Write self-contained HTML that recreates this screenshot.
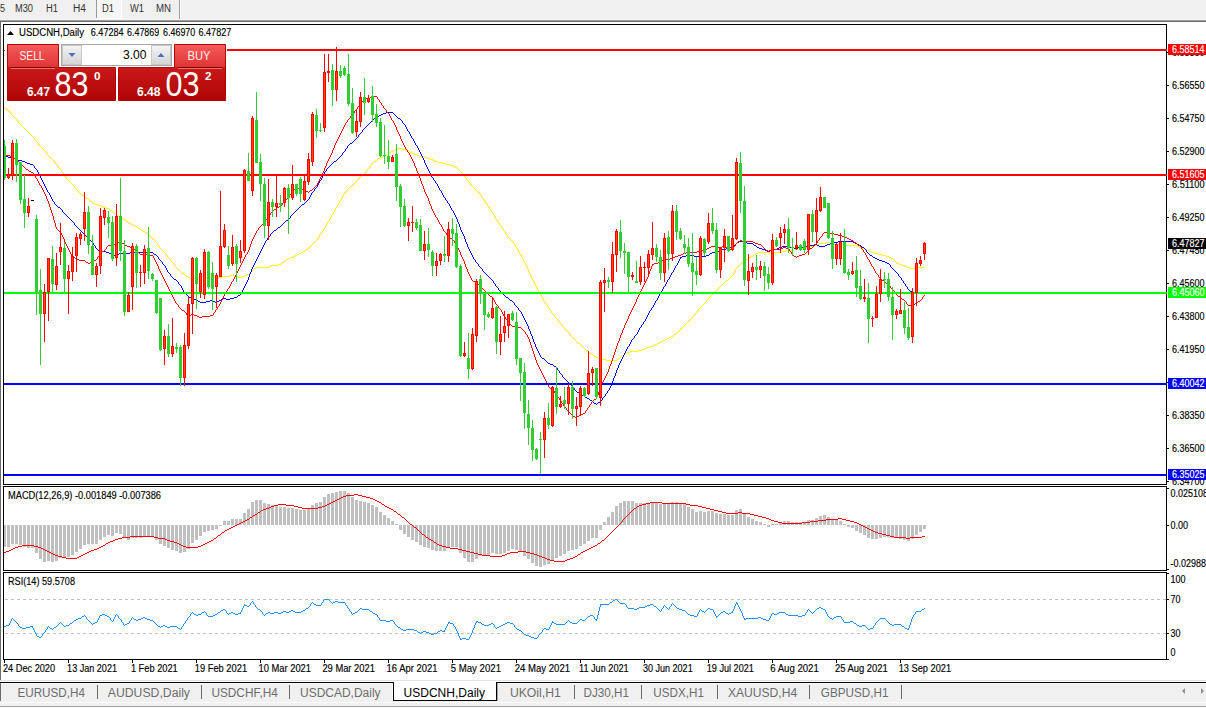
<!DOCTYPE html>
<html><head><meta charset="utf-8"><title>USDCNH,Daily</title>
<style>html,body{margin:0;padding:0;background:#fff;overflow:hidden;}svg{display:block;}text{font-family:"Liberation Sans",sans-serif;}</style>
</head><body>
<svg width="1206" height="709" viewBox="0 0 1206 709" font-family="Liberation Sans, sans-serif">
<rect x="0" y="0" width="1206" height="709" fill="#fff"/>
<rect x="0" y="0" width="1206" height="19" fill="#f0f0f0" />
<rect x="0" y="19" width="1206" height="1" fill="#f5f5f5" />
<rect x="0" y="20" width="1206" height="1" fill="#a0a0a0" />
<rect x="0" y="21" width="1206" height="1" fill="#6b6b6b" />
<rect x="96" y="0" width="1" height="18" fill="#9a9a9a" />
<rect x="97" y="0" width="24" height="18" fill="#f6f6f6" />
<rect x="121" y="0" width="1" height="19" fill="#ffffff" />
<rect x="96" y="18" width="26" height="1" fill="#ffffff" />
<rect x="179" y="0" width="1" height="19" fill="#9a9a9a" />
<rect x="180" y="0" width="1" height="19" fill="#ffffff" />
<text x="0" y="12" font-size="10" fill="#333333" textLength="5" lengthAdjust="spacingAndGlyphs" >5</text>
<text x="15" y="12" font-size="10" fill="#333333" textLength="18" lengthAdjust="spacingAndGlyphs" >M30</text>
<text x="46" y="12" font-size="10" fill="#333333" textLength="12" lengthAdjust="spacingAndGlyphs" >H1</text>
<text x="73" y="12" font-size="10" fill="#333333" textLength="13" lengthAdjust="spacingAndGlyphs" >H4</text>
<text x="102" y="12" font-size="10" fill="#333333" textLength="12" lengthAdjust="spacingAndGlyphs" >D1</text>
<text x="130" y="12" font-size="10" fill="#333333" textLength="14" lengthAdjust="spacingAndGlyphs" >W1</text>
<text x="156" y="12" font-size="10" fill="#333333" textLength="15" lengthAdjust="spacingAndGlyphs" >MN</text>
<rect x="0" y="21" width="1" height="659" fill="#6b6b6b" />
<clipPath id="cm"><rect x="4" y="25" width="1162" height="459"/></clipPath>
<clipPath id="cmacd"><rect x="4" y="487" width="1162" height="83"/></clipPath>
<clipPath id="crsi"><rect x="4" y="573" width="1162" height="86"/></clipPath>
<g clip-path="url(#cm)">
<path d="M4 107h1v1h-1zM5 108h1v1h-1zM6 109h1v1h-1zM7 109h1v1h-1zM8 110h1v1h-1zM9 111h1v1h-1zM10 112h1v2h-1zM11 114h1v1h-1zM12 115h1v1h-1zM13 116h1v1h-1zM14 117h1v1h-1zM15 118h1v1h-1zM16 119h1v1h-1zM17 120h1v1h-1zM18 121h1v2h-1zM19 123h1v1h-1zM20 124h1v1h-1zM21 125h1v1h-1zM22 126h1v1h-1zM23 127h1v1h-1zM24 128h1v1h-1zM25 129h1v1h-1zM26 130h1v1h-1zM27 131h1v1h-1zM28 132h1v1h-1zM29 133h1v1h-1zM30 134h1v1h-1zM31 135h1v1h-1zM32 136h1v1h-1zM33 137h1v1h-1zM34 138h1v2h-1zM35 140h1v1h-1zM36 141h1v1h-1zM37 142h1v1h-1zM38 143h1v2h-1zM39 145h1v1h-1zM40 146h1v1h-1zM41 147h1v1h-1zM42 148h1v1h-1zM43 149h1v1h-1zM44 150h1v1h-1zM45 151h1v1h-1zM46 152h1v2h-1zM47 154h1v1h-1zM48 155h1v1h-1zM49 156h1v1h-1zM50 157h1v1h-1zM51 158h1v1h-1zM52 159h1v1h-1zM53 160h1v1h-1zM54 161h1v2h-1zM55 163h1v1h-1zM56 164h1v1h-1zM57 165h1v1h-1zM58 166h1v2h-1zM59 168h1v1h-1zM60 169h1v1h-1zM61 170h1v2h-1zM62 172h1v1h-1zM63 173h1v2h-1zM64 175h1v1h-1zM65 176h1v1h-1zM66 177h1v2h-1zM67 179h1v1h-1zM68 180h1v1h-1zM69 181h1v1h-1zM70 182h1v1h-1zM71 183h1v1h-1zM72 184h1v1h-1zM73 185h1v1h-1zM74 186h1v2h-1zM75 188h1v1h-1zM76 189h1v1h-1zM77 190h1v1h-1zM78 191h1v1h-1zM79 192h1v1h-1zM80 193h1v1h-1zM81 194h1v1h-1zM82 195h1v1h-1zM83 195h1v1h-1zM84 196h1v1h-1zM85 197h1v1h-1zM86 198h1v1h-1zM87 198h1v1h-1zM88 199h1v1h-1zM89 200h1v1h-1zM90 201h1v1h-1zM91 201h1v1h-1zM92 202h1v1h-1zM93 203h1v1h-1zM94 203h1v1h-1zM95 204h1v1h-1zM96 204h1v1h-1zM97 204h1v1h-1zM98 205h1v1h-1zM99 205h1v1h-1zM100 205h1v1h-1zM101 206h1v1h-1zM102 206h1v1h-1zM103 207h1v1h-1zM104 207h1v1h-1zM105 207h1v1h-1zM106 208h1v1h-1zM107 208h1v1h-1zM108 208h1v1h-1zM109 209h1v1h-1zM110 210h1v1h-1zM111 210h1v1h-1zM112 211h1v1h-1zM113 212h1v1h-1zM114 213h1v1h-1zM115 213h1v1h-1zM116 214h1v1h-1zM117 215h1v1h-1zM118 216h1v1h-1zM119 216h1v1h-1zM120 217h1v1h-1zM121 218h1v1h-1zM122 218h1v1h-1zM123 219h1v1h-1zM124 219h1v1h-1zM125 220h1v1h-1zM126 221h1v1h-1zM127 221h1v1h-1zM128 222h1v1h-1zM129 223h1v1h-1zM130 223h1v1h-1zM131 224h1v1h-1zM132 224h1v1h-1zM133 225h1v1h-1zM134 225h1v1h-1zM135 226h1v1h-1zM136 226h1v1h-1zM137 227h1v1h-1zM138 228h1v1h-1zM139 228h1v1h-1zM140 229h1v1h-1zM141 230h1v1h-1zM142 230h1v1h-1zM143 231h1v1h-1zM144 231h1v1h-1zM145 232h1v1h-1zM146 233h1v1h-1zM147 233h1v1h-1zM148 234h1v1h-1zM149 235h1v1h-1zM150 236h1v1h-1zM151 237h1v1h-1zM152 238h1v1h-1zM153 239h1v1h-1zM154 240h1v1h-1zM155 241h1v1h-1zM156 242h1v1h-1zM157 243h1v2h-1zM158 245h1v1h-1zM159 246h1v2h-1zM160 248h1v1h-1zM161 249h1v1h-1zM162 250h1v1h-1zM163 251h1v1h-1zM164 252h1v1h-1zM165 253h1v1h-1zM166 254h1v2h-1zM167 256h1v1h-1zM168 257h1v1h-1zM169 258h1v1h-1zM170 259h1v2h-1zM171 261h1v1h-1zM172 262h1v1h-1zM173 263h1v1h-1zM174 264h1v2h-1zM175 266h1v1h-1zM176 267h1v1h-1zM177 268h1v1h-1zM178 269h1v1h-1zM179 270h1v1h-1zM180 271h1v1h-1zM181 272h1v1h-1zM182 273h1v1h-1zM183 273h1v1h-1zM184 274h1v1h-1zM185 275h1v1h-1zM186 276h1v1h-1zM187 276h1v1h-1zM188 277h1v1h-1zM189 277h1v1h-1zM190 278h1v1h-1zM191 278h1v1h-1zM192 278h1v1h-1zM193 278h1v1h-1zM194 278h1v1h-1zM195 278h1v1h-1zM196 278h1v1h-1zM197 278h1v1h-1zM198 277h1v1h-1zM199 277h1v1h-1zM200 277h1v1h-1zM201 277h1v1h-1zM202 276h1v1h-1zM203 276h1v1h-1zM204 276h1v1h-1zM205 276h1v1h-1zM206 277h1v1h-1zM207 277h1v1h-1zM208 277h1v1h-1zM209 277h1v1h-1zM210 277h1v1h-1zM211 277h1v1h-1zM212 277h1v1h-1zM213 277h1v1h-1zM214 277h1v1h-1zM215 277h1v1h-1zM216 277h1v1h-1zM217 277h1v1h-1zM218 277h1v1h-1zM219 277h1v1h-1zM220 277h1v1h-1zM221 277h1v1h-1zM222 276h1v1h-1zM223 276h1v1h-1zM224 276h1v1h-1zM225 276h1v1h-1zM226 276h1v1h-1zM227 276h1v1h-1zM228 276h1v1h-1zM229 276h1v1h-1zM230 275h1v1h-1zM231 275h1v1h-1zM232 275h1v1h-1zM233 275h1v1h-1zM234 276h1v1h-1zM235 276h1v1h-1zM236 276h1v1h-1zM237 276h1v1h-1zM238 277h1v1h-1zM239 277h1v1h-1zM240 277h1v1h-1zM241 277h1v1h-1zM242 276h1v1h-1zM243 276h1v1h-1zM244 276h1v1h-1zM245 275h1v1h-1zM246 275h1v1h-1zM247 274h1v1h-1zM248 274h1v1h-1zM249 273h1v1h-1zM250 272h1v1h-1zM251 271h1v1h-1zM252 270h1v1h-1zM253 269h1v1h-1zM254 268h1v1h-1zM255 268h1v1h-1zM256 267h1v1h-1zM257 267h1v1h-1zM258 267h1v1h-1zM259 267h1v1h-1zM260 267h1v1h-1zM261 267h1v1h-1zM262 267h1v1h-1zM263 267h1v1h-1zM264 267h1v1h-1zM265 267h1v1h-1zM266 267h1v1h-1zM267 267h1v1h-1zM268 267h1v1h-1zM269 266h1v1h-1zM270 266h1v1h-1zM271 265h1v1h-1zM272 265h1v1h-1zM273 265h1v1h-1zM274 265h1v1h-1zM275 265h1v1h-1zM276 265h1v1h-1zM277 265h1v1h-1zM278 264h1v1h-1zM279 264h1v1h-1zM280 264h1v1h-1zM281 263h1v1h-1zM282 262h1v1h-1zM283 262h1v1h-1zM284 261h1v1h-1zM285 260h1v1h-1zM286 259h1v1h-1zM287 259h1v1h-1zM288 258h1v1h-1zM289 258h1v1h-1zM290 257h1v1h-1zM291 257h1v1h-1zM292 257h1v1h-1zM293 256h1v1h-1zM294 256h1v1h-1zM295 255h1v1h-1zM296 255h1v1h-1zM297 254h1v1h-1zM298 254h1v1h-1zM299 253h1v1h-1zM300 253h1v1h-1zM301 252h1v1h-1zM302 252h1v1h-1zM303 251h1v1h-1zM304 251h1v1h-1zM305 250h1v1h-1zM306 249h1v1h-1zM307 249h1v1h-1zM308 248h1v1h-1zM309 247h1v1h-1zM310 246h1v1h-1zM311 245h1v1h-1zM312 244h1v1h-1zM313 243h1v1h-1zM314 242h1v1h-1zM315 241h1v1h-1zM316 240h1v1h-1zM317 238h1v2h-1zM318 237h1v1h-1zM319 235h1v2h-1zM320 234h1v1h-1zM321 232h1v2h-1zM322 231h1v1h-1zM323 229h1v2h-1zM324 228h1v1h-1zM325 226h1v2h-1zM326 224h1v2h-1zM327 222h1v2h-1zM328 221h1v1h-1zM329 219h1v2h-1zM330 217h1v2h-1zM331 215h1v2h-1zM332 214h1v1h-1zM333 212h1v2h-1zM334 210h1v2h-1zM335 208h1v2h-1zM336 207h1v1h-1zM337 205h1v2h-1zM338 203h1v2h-1zM339 201h1v2h-1zM340 200h1v1h-1zM341 198h1v2h-1zM342 196h1v2h-1zM343 194h1v2h-1zM344 193h1v1h-1zM345 192h1v1h-1zM346 190h1v2h-1zM347 189h1v1h-1zM348 188h1v1h-1zM349 187h1v1h-1zM350 186h1v1h-1zM351 186h1v1h-1zM352 185h1v1h-1zM353 184h1v1h-1zM354 183h1v1h-1zM355 182h1v1h-1zM356 181h1v1h-1zM357 180h1v1h-1zM358 178h1v2h-1zM359 177h1v1h-1zM360 176h1v1h-1zM361 175h1v1h-1zM362 174h1v1h-1zM363 174h1v1h-1zM364 173h1v1h-1zM365 172h1v1h-1zM366 170h1v2h-1zM367 169h1v1h-1zM368 168h1v1h-1zM369 167h1v1h-1zM370 165h1v2h-1zM371 164h1v1h-1zM372 163h1v1h-1zM373 162h1v1h-1zM374 161h1v1h-1zM375 161h1v1h-1zM376 160h1v1h-1zM377 159h1v1h-1zM378 158h1v1h-1zM379 158h1v1h-1zM380 157h1v1h-1zM381 157h1v1h-1zM382 156h1v1h-1zM383 156h1v1h-1zM384 156h1v1h-1zM385 155h1v1h-1zM386 154h1v1h-1zM387 154h1v1h-1zM388 153h1v1h-1zM389 152h1v1h-1zM390 152h1v1h-1zM391 151h1v1h-1zM392 151h1v1h-1zM393 150h1v1h-1zM394 150h1v1h-1zM395 149h1v1h-1zM396 149h1v1h-1zM397 149h1v1h-1zM398 148h1v1h-1zM399 148h1v1h-1zM400 148h1v1h-1zM401 148h1v1h-1zM402 149h1v1h-1zM403 149h1v1h-1zM404 149h1v1h-1zM405 149h1v1h-1zM406 150h1v1h-1zM407 150h1v1h-1zM408 150h1v1h-1zM409 151h1v1h-1zM410 152h1v1h-1zM411 152h1v1h-1zM412 153h1v1h-1zM413 153h1v1h-1zM414 154h1v1h-1zM415 154h1v1h-1zM416 154h1v1h-1zM417 155h1v1h-1zM418 155h1v1h-1zM419 156h1v1h-1zM420 156h1v1h-1zM421 156h1v1h-1zM422 156h1v1h-1zM423 156h1v1h-1zM424 156h1v1h-1zM425 157h1v1h-1zM426 157h1v1h-1zM427 158h1v1h-1zM428 158h1v1h-1zM429 158h1v1h-1zM430 159h1v1h-1zM431 159h1v1h-1zM432 159h1v1h-1zM433 160h1v1h-1zM434 160h1v1h-1zM435 161h1v1h-1zM436 161h1v1h-1zM437 161h1v1h-1zM438 162h1v1h-1zM439 162h1v1h-1zM440 162h1v1h-1zM441 162h1v1h-1zM442 163h1v1h-1zM443 163h1v1h-1zM444 163h1v1h-1zM445 163h1v1h-1zM446 164h1v1h-1zM447 164h1v1h-1zM448 164h1v1h-1zM449 164h1v1h-1zM450 165h1v1h-1zM451 165h1v1h-1zM452 165h1v1h-1zM453 166h1v1h-1zM454 166h1v1h-1zM455 167h1v1h-1zM456 167h1v1h-1zM457 168h1v1h-1zM458 169h1v1h-1zM459 170h1v1h-1zM460 171h1v1h-1zM461 172h1v1h-1zM462 173h1v2h-1zM463 175h1v1h-1zM464 176h1v1h-1zM465 177h1v1h-1zM466 178h1v2h-1zM467 180h1v1h-1zM468 181h1v1h-1zM469 182h1v1h-1zM470 183h1v2h-1zM471 185h1v1h-1zM472 186h1v1h-1zM473 187h1v1h-1zM474 188h1v1h-1zM475 189h1v1h-1zM476 190h1v1h-1zM477 191h1v1h-1zM478 192h1v1h-1zM479 193h1v1h-1zM480 194h1v1h-1zM481 195h1v2h-1zM482 197h1v1h-1zM483 198h1v2h-1zM484 200h1v1h-1zM485 201h1v2h-1zM486 203h1v1h-1zM487 204h1v2h-1zM488 206h1v1h-1zM489 207h1v2h-1zM490 209h1v1h-1zM491 210h1v2h-1zM492 212h1v1h-1zM493 213h1v2h-1zM494 215h1v2h-1zM495 217h1v2h-1zM496 219h1v1h-1zM497 220h1v2h-1zM498 222h1v1h-1zM499 223h1v2h-1zM500 225h1v1h-1zM501 226h1v2h-1zM502 228h1v1h-1zM503 229h1v2h-1zM504 231h1v1h-1zM505 232h1v2h-1zM506 234h1v1h-1zM507 235h1v2h-1zM508 237h1v1h-1zM509 238h1v1h-1zM510 239h1v1h-1zM511 240h1v1h-1zM512 241h1v1h-1zM513 242h1v2h-1zM514 244h1v1h-1zM515 245h1v2h-1zM516 247h1v1h-1zM517 248h1v2h-1zM518 250h1v2h-1zM519 252h1v2h-1zM520 254h1v1h-1zM521 255h1v2h-1zM522 257h1v2h-1zM523 259h1v2h-1zM524 261h1v2h-1zM525 263h1v2h-1zM526 265h1v2h-1zM527 267h1v2h-1zM528 269h1v3h-1zM529 272h1v2h-1zM530 274h1v2h-1zM531 276h1v2h-1zM532 278h1v2h-1zM533 280h1v2h-1zM534 282h1v2h-1zM535 284h1v2h-1zM536 286h1v2h-1zM537 288h1v2h-1zM538 290h1v2h-1zM539 292h1v2h-1zM540 294h1v1h-1zM541 295h1v2h-1zM542 297h1v2h-1zM543 299h1v2h-1zM544 301h1v1h-1zM545 302h1v2h-1zM546 304h1v1h-1zM547 305h1v2h-1zM548 307h1v1h-1zM549 308h1v2h-1zM550 310h1v1h-1zM551 311h1v2h-1zM552 313h1v1h-1zM553 314h1v1h-1zM554 315h1v2h-1zM555 317h1v1h-1zM556 318h1v1h-1zM557 319h1v1h-1zM558 320h1v2h-1zM559 322h1v1h-1zM560 323h1v1h-1zM561 324h1v1h-1zM562 325h1v2h-1zM563 327h1v1h-1zM564 328h1v1h-1zM565 329h1v1h-1zM566 330h1v1h-1zM567 331h1v1h-1zM568 332h1v1h-1zM569 333h1v1h-1zM570 334h1v2h-1zM571 336h1v1h-1zM572 337h1v1h-1zM573 338h1v1h-1zM574 339h1v1h-1zM575 340h1v1h-1zM576 341h1v1h-1zM577 342h1v1h-1zM578 343h1v1h-1zM579 343h1v1h-1zM580 344h1v1h-1zM581 345h1v1h-1zM582 346h1v1h-1zM583 347h1v1h-1zM584 348h1v1h-1zM585 349h1v1h-1zM586 350h1v1h-1zM587 350h1v1h-1zM588 351h1v1h-1zM589 352h1v1h-1zM590 353h1v1h-1zM591 353h1v1h-1zM592 354h1v1h-1zM593 355h1v1h-1zM594 356h1v1h-1zM595 356h1v1h-1zM596 357h1v1h-1zM597 357h1v1h-1zM598 358h1v1h-1zM599 358h1v1h-1zM600 358h1v1h-1zM601 358h1v1h-1zM602 359h1v1h-1zM603 359h1v1h-1zM604 359h1v1h-1zM605 359h1v1h-1zM606 360h1v1h-1zM607 360h1v1h-1zM608 360h1v1h-1zM609 360h1v1h-1zM610 360h1v1h-1zM611 360h1v1h-1zM612 360h1v1h-1zM613 360h1v1h-1zM614 360h1v1h-1zM615 360h1v1h-1zM616 360h1v1h-1zM617 359h1v1h-1zM618 358h1v1h-1zM619 358h1v1h-1zM620 357h1v1h-1zM621 356h1v1h-1zM622 355h1v1h-1zM623 355h1v1h-1zM624 354h1v1h-1zM625 353h1v1h-1zM626 353h1v1h-1zM627 352h1v1h-1zM628 352h1v1h-1zM629 352h1v1h-1zM630 351h1v1h-1zM631 351h1v1h-1zM632 351h1v1h-1zM633 351h1v1h-1zM634 351h1v1h-1zM635 351h1v1h-1zM636 351h1v1h-1zM637 351h1v1h-1zM638 350h1v1h-1zM639 350h1v1h-1zM640 350h1v1h-1zM641 350h1v1h-1zM642 349h1v1h-1zM643 349h1v1h-1zM644 349h1v1h-1zM645 348h1v1h-1zM646 348h1v1h-1zM647 347h1v1h-1zM648 347h1v1h-1zM649 347h1v1h-1zM650 346h1v1h-1zM651 346h1v1h-1zM652 346h1v1h-1zM653 345h1v1h-1zM654 345h1v1h-1zM655 344h1v1h-1zM656 344h1v1h-1zM657 343h1v1h-1zM658 343h1v1h-1zM659 342h1v1h-1zM660 342h1v1h-1zM661 341h1v1h-1zM662 341h1v1h-1zM663 340h1v1h-1zM664 340h1v1h-1zM665 339h1v1h-1zM666 339h1v1h-1zM667 338h1v1h-1zM668 338h1v1h-1zM669 337h1v1h-1zM670 337h1v1h-1zM671 336h1v1h-1zM672 336h1v1h-1zM673 335h1v1h-1zM674 334h1v1h-1zM675 334h1v1h-1zM676 333h1v1h-1zM677 332h1v1h-1zM678 331h1v1h-1zM679 330h1v1h-1zM680 329h1v1h-1zM681 328h1v1h-1zM682 327h1v1h-1zM683 326h1v1h-1zM684 325h1v1h-1zM685 324h1v1h-1zM686 323h1v1h-1zM687 322h1v1h-1zM688 321h1v1h-1zM689 320h1v1h-1zM690 319h1v1h-1zM691 318h1v1h-1zM692 317h1v1h-1zM693 316h1v1h-1zM694 314h1v2h-1zM695 313h1v1h-1zM696 312h1v1h-1zM697 311h1v1h-1zM698 309h1v2h-1zM699 308h1v1h-1zM700 307h1v1h-1zM701 306h1v1h-1zM702 305h1v1h-1zM703 304h1v1h-1zM704 303h1v1h-1zM705 302h1v1h-1zM706 300h1v2h-1zM707 299h1v1h-1zM708 298h1v1h-1zM709 297h1v1h-1zM710 296h1v1h-1zM711 295h1v1h-1zM712 294h1v1h-1zM713 293h1v1h-1zM714 292h1v1h-1zM715 291h1v1h-1zM716 290h1v1h-1zM717 289h1v1h-1zM718 288h1v1h-1zM719 287h1v1h-1zM720 286h1v1h-1zM721 285h1v1h-1zM722 284h1v1h-1zM723 283h1v1h-1zM724 282h1v1h-1zM725 281h1v1h-1zM726 280h1v1h-1zM727 280h1v1h-1zM728 279h1v1h-1zM729 278h1v1h-1zM730 277h1v1h-1zM731 276h1v1h-1zM732 275h1v1h-1zM733 273h1v2h-1zM734 271h1v2h-1zM735 269h1v2h-1zM736 268h1v1h-1zM737 267h1v1h-1zM738 266h1v1h-1zM739 265h1v1h-1zM740 264h1v1h-1zM741 263h1v1h-1zM742 262h1v1h-1zM743 262h1v1h-1zM744 261h1v1h-1zM745 260h1v1h-1zM746 259h1v1h-1zM747 259h1v1h-1zM748 258h1v1h-1zM749 257h1v1h-1zM750 257h1v1h-1zM751 256h1v1h-1zM752 256h1v1h-1zM753 255h1v1h-1zM754 254h1v1h-1zM755 254h1v1h-1zM756 253h1v1h-1zM757 253h1v1h-1zM758 252h1v1h-1zM759 252h1v1h-1zM760 252h1v1h-1zM761 252h1v1h-1zM762 252h1v1h-1zM763 252h1v1h-1zM764 252h1v1h-1zM765 252h1v1h-1zM766 252h1v1h-1zM767 252h1v1h-1zM768 252h1v1h-1zM769 252h1v1h-1zM770 252h1v1h-1zM771 252h1v1h-1zM772 252h1v1h-1zM773 252h1v1h-1zM774 252h1v1h-1zM775 252h1v1h-1zM776 252h1v1h-1zM777 252h1v1h-1zM778 252h1v1h-1zM779 252h1v1h-1zM780 252h1v1h-1zM781 252h1v1h-1zM782 251h1v1h-1zM783 251h1v1h-1zM784 251h1v1h-1zM785 251h1v1h-1zM786 250h1v1h-1zM787 250h1v1h-1zM788 250h1v1h-1zM789 250h1v1h-1zM790 250h1v1h-1zM791 250h1v1h-1zM792 250h1v1h-1zM793 250h1v1h-1zM794 249h1v1h-1zM795 249h1v1h-1zM796 249h1v1h-1zM797 249h1v1h-1zM798 248h1v1h-1zM799 248h1v1h-1zM800 248h1v1h-1zM801 248h1v1h-1zM802 248h1v1h-1zM803 248h1v1h-1zM804 248h1v1h-1zM805 248h1v1h-1zM806 247h1v1h-1zM807 247h1v1h-1zM808 247h1v1h-1zM809 247h1v1h-1zM810 246h1v1h-1zM811 246h1v1h-1zM812 246h1v1h-1zM813 246h1v1h-1zM814 245h1v1h-1zM815 245h1v1h-1zM816 245h1v1h-1zM817 244h1v1h-1zM818 244h1v1h-1zM819 243h1v1h-1zM820 243h1v1h-1zM821 243h1v1h-1zM822 243h1v1h-1zM823 243h1v1h-1zM824 243h1v1h-1zM825 243h1v1h-1zM826 242h1v1h-1zM827 242h1v1h-1zM828 242h1v1h-1zM829 242h1v1h-1zM830 243h1v1h-1zM831 243h1v1h-1zM832 243h1v1h-1zM833 243h1v1h-1zM834 244h1v1h-1zM835 244h1v1h-1zM836 244h1v1h-1zM837 244h1v1h-1zM838 244h1v1h-1zM839 244h1v1h-1zM840 244h1v1h-1zM841 244h1v1h-1zM842 244h1v1h-1zM843 244h1v1h-1zM844 244h1v1h-1zM845 244h1v1h-1zM846 245h1v1h-1zM847 245h1v1h-1zM848 245h1v1h-1zM849 245h1v1h-1zM850 245h1v1h-1zM851 245h1v1h-1zM852 245h1v1h-1zM853 245h1v1h-1zM854 245h1v1h-1zM855 245h1v1h-1zM856 245h1v1h-1zM857 246h1v1h-1zM858 246h1v1h-1zM859 247h1v1h-1zM860 247h1v1h-1zM861 247h1v1h-1zM862 248h1v1h-1zM863 248h1v1h-1zM864 248h1v1h-1zM865 249h1v1h-1zM866 249h1v1h-1zM867 250h1v1h-1zM868 250h1v1h-1zM869 251h1v1h-1zM870 251h1v1h-1zM871 252h1v1h-1zM872 252h1v1h-1zM873 252h1v1h-1zM874 253h1v1h-1zM875 253h1v1h-1zM876 253h1v1h-1zM877 253h1v1h-1zM878 254h1v1h-1zM879 254h1v1h-1zM880 254h1v1h-1zM881 254h1v1h-1zM882 255h1v1h-1zM883 255h1v1h-1zM884 255h1v1h-1zM885 255h1v1h-1zM886 256h1v1h-1zM887 256h1v1h-1zM888 256h1v1h-1zM889 257h1v1h-1zM890 257h1v1h-1zM891 258h1v1h-1zM892 258h1v1h-1zM893 259h1v1h-1zM894 260h1v1h-1zM895 261h1v1h-1zM896 262h1v1h-1zM897 263h1v1h-1zM898 263h1v1h-1zM899 264h1v1h-1zM900 264h1v1h-1zM901 264h1v1h-1zM902 265h1v1h-1zM903 265h1v1h-1zM904 265h1v1h-1zM905 266h1v1h-1zM906 266h1v1h-1zM907 267h1v1h-1zM908 267h1v1h-1zM909 267h1v1h-1zM910 268h1v1h-1zM911 268h1v1h-1zM912 268h1v1h-1zM913 268h1v1h-1zM914 268h1v1h-1zM915 268h1v1h-1zM916 268h1v1h-1zM917 268h1v1h-1zM918 267h1v1h-1zM919 267h1v1h-1zM920 267h1v1h-1zM921 267h1v1h-1zM922 267h1v1h-1zM923 267h1v1h-1zM924 267h1v1h-1z" fill="#ffff00"/>
<path d="M4 154h1v1h-1zM5 155h1v1h-1zM6 156h1v1h-1zM7 156h1v1h-1zM8 157h1v1h-1zM9 157h1v1h-1zM10 157h1v1h-1zM11 157h1v1h-1zM12 157h1v1h-1zM13 158h1v1h-1zM14 158h1v1h-1zM15 159h1v1h-1zM16 159h1v1h-1zM17 159h1v1h-1zM18 160h1v1h-1zM19 160h1v1h-1zM20 160h1v1h-1zM21 160h1v1h-1zM22 161h1v1h-1zM23 161h1v1h-1zM24 161h1v1h-1zM25 162h1v1h-1zM26 162h1v1h-1zM27 163h1v1h-1zM28 163h1v1h-1zM29 163h1v1h-1zM30 164h1v1h-1zM31 164h1v1h-1zM32 164h1v1h-1zM33 165h1v1h-1zM34 166h1v2h-1zM35 168h1v1h-1zM36 169h1v1h-1zM37 170h1v2h-1zM38 172h1v2h-1zM39 174h1v2h-1zM40 176h1v2h-1zM41 178h1v2h-1zM42 180h1v2h-1zM43 182h1v2h-1zM44 184h1v2h-1zM45 186h1v2h-1zM46 188h1v2h-1zM47 190h1v2h-1zM48 192h1v1h-1zM49 193h1v2h-1zM50 195h1v2h-1zM51 197h1v2h-1zM52 199h1v2h-1zM53 201h1v1h-1zM54 202h1v2h-1zM55 204h1v1h-1zM56 205h1v1h-1zM57 206h1v1h-1zM58 207h1v1h-1zM59 207h1v1h-1zM60 208h1v1h-1zM61 209h1v1h-1zM62 210h1v2h-1zM63 212h1v1h-1zM64 213h1v1h-1zM65 214h1v1h-1zM66 215h1v1h-1zM67 216h1v1h-1zM68 217h1v1h-1zM69 218h1v1h-1zM70 219h1v1h-1zM71 220h1v1h-1zM72 221h1v1h-1zM73 222h1v1h-1zM74 223h1v2h-1zM75 225h1v1h-1zM76 226h1v1h-1zM77 227h1v1h-1zM78 228h1v1h-1zM79 229h1v1h-1zM80 230h1v1h-1zM81 231h1v1h-1zM82 232h1v1h-1zM83 233h1v1h-1zM84 234h1v1h-1zM85 235h1v1h-1zM86 236h1v1h-1zM87 237h1v1h-1zM88 238h1v1h-1zM89 239h1v1h-1zM90 240h1v1h-1zM91 241h1v1h-1zM92 242h1v1h-1zM93 243h1v2h-1zM94 245h1v1h-1zM95 246h1v2h-1zM96 248h1v1h-1zM97 249h1v1h-1zM98 250h1v1h-1zM99 250h1v1h-1zM100 251h1v1h-1zM101 251h1v1h-1zM102 251h1v1h-1zM103 251h1v1h-1zM104 251h1v1h-1zM105 251h1v1h-1zM106 252h1v1h-1zM107 252h1v1h-1zM108 252h1v1h-1zM109 253h1v1h-1zM110 253h1v1h-1zM111 254h1v1h-1zM112 254h1v1h-1zM113 254h1v1h-1zM114 255h1v1h-1zM115 255h1v1h-1zM116 255h1v1h-1zM117 254h1v1h-1zM118 254h1v1h-1zM119 253h1v1h-1zM120 253h1v1h-1zM121 253h1v1h-1zM122 253h1v1h-1zM123 253h1v1h-1zM124 253h1v1h-1zM125 253h1v1h-1zM126 253h1v1h-1zM127 253h1v1h-1zM128 253h1v1h-1zM129 253h1v1h-1zM130 252h1v1h-1zM131 252h1v1h-1zM132 252h1v1h-1zM133 252h1v1h-1zM134 252h1v1h-1zM135 252h1v1h-1zM136 252h1v1h-1zM137 252h1v1h-1zM138 252h1v1h-1zM139 252h1v1h-1zM140 252h1v1h-1zM141 252h1v1h-1zM142 252h1v1h-1zM143 252h1v1h-1zM144 252h1v1h-1zM145 252h1v1h-1zM146 252h1v1h-1zM147 252h1v1h-1zM148 252h1v1h-1zM149 252h1v1h-1zM150 252h1v1h-1zM151 252h1v1h-1zM152 252h1v1h-1zM153 253h1v1h-1zM154 254h1v1h-1zM155 254h1v1h-1zM156 255h1v1h-1zM157 256h1v1h-1zM158 257h1v2h-1zM159 259h1v1h-1zM160 260h1v1h-1zM161 261h1v1h-1zM162 262h1v2h-1zM163 264h1v1h-1zM164 265h1v1h-1zM165 266h1v2h-1zM166 268h1v2h-1zM167 270h1v2h-1zM168 272h1v1h-1zM169 273h1v1h-1zM170 274h1v2h-1zM171 276h1v1h-1zM172 277h1v1h-1zM173 278h1v1h-1zM174 279h1v1h-1zM175 279h1v1h-1zM176 280h1v1h-1zM177 281h1v1h-1zM178 282h1v2h-1zM179 284h1v1h-1zM180 285h1v1h-1zM181 286h1v2h-1zM182 288h1v2h-1zM183 290h1v2h-1zM184 292h1v1h-1zM185 293h1v1h-1zM186 294h1v1h-1zM187 295h1v1h-1zM188 296h1v1h-1zM189 297h1v1h-1zM190 297h1v1h-1zM191 298h1v1h-1zM192 298h1v1h-1zM193 298h1v1h-1zM194 299h1v1h-1zM195 299h1v1h-1zM196 299h1v1h-1zM197 300h1v1h-1zM198 301h1v1h-1zM199 301h1v1h-1zM200 302h1v1h-1zM201 302h1v1h-1zM202 302h1v1h-1zM203 302h1v1h-1zM204 302h1v1h-1zM205 302h1v1h-1zM206 301h1v1h-1zM207 301h1v1h-1zM208 301h1v1h-1zM209 301h1v1h-1zM210 300h1v1h-1zM211 300h1v1h-1zM212 300h1v1h-1zM213 301h1v1h-1zM214 301h1v1h-1zM215 302h1v1h-1zM216 302h1v1h-1zM217 301h1v1h-1zM218 301h1v1h-1zM219 300h1v1h-1zM220 300h1v1h-1zM221 299h1v1h-1zM222 299h1v1h-1zM223 298h1v1h-1zM224 298h1v1h-1zM225 298h1v1h-1zM226 299h1v1h-1zM227 299h1v1h-1zM228 299h1v1h-1zM229 299h1v1h-1zM230 298h1v1h-1zM231 298h1v1h-1zM232 298h1v1h-1zM233 298h1v1h-1zM234 297h1v1h-1zM235 297h1v1h-1zM236 297h1v1h-1zM237 296h1v1h-1zM238 295h1v1h-1zM239 295h1v1h-1zM240 294h1v1h-1zM241 292h1v2h-1zM242 290h1v2h-1zM243 288h1v2h-1zM244 286h1v2h-1zM245 284h1v2h-1zM246 282h1v2h-1zM247 280h1v2h-1zM248 277h1v3h-1zM249 274h1v3h-1zM250 272h1v2h-1zM251 269h1v3h-1zM252 267h1v2h-1zM253 265h1v2h-1zM254 263h1v2h-1zM255 261h1v2h-1zM256 259h1v2h-1zM257 257h1v2h-1zM258 255h1v2h-1zM259 253h1v2h-1zM260 251h1v2h-1zM261 249h1v2h-1zM262 247h1v2h-1zM263 245h1v2h-1zM264 243h1v2h-1zM265 241h1v2h-1zM266 240h1v1h-1zM267 238h1v2h-1zM268 237h1v1h-1zM269 236h1v1h-1zM270 234h1v2h-1zM271 233h1v1h-1zM272 232h1v1h-1zM273 231h1v1h-1zM274 230h1v1h-1zM275 230h1v1h-1zM276 229h1v1h-1zM277 228h1v1h-1zM278 227h1v1h-1zM279 227h1v1h-1zM280 226h1v1h-1zM281 225h1v1h-1zM282 224h1v1h-1zM283 223h1v1h-1zM284 222h1v1h-1zM285 221h1v1h-1zM286 220h1v1h-1zM287 220h1v1h-1zM288 219h1v1h-1zM289 218h1v1h-1zM290 216h1v2h-1zM291 215h1v1h-1zM292 214h1v1h-1zM293 213h1v1h-1zM294 212h1v1h-1zM295 211h1v1h-1zM296 210h1v1h-1zM297 209h1v1h-1zM298 208h1v1h-1zM299 207h1v1h-1zM300 206h1v1h-1zM301 205h1v1h-1zM302 204h1v1h-1zM303 204h1v1h-1zM304 203h1v1h-1zM305 202h1v1h-1zM306 201h1v1h-1zM307 200h1v1h-1zM308 199h1v1h-1zM309 197h1v2h-1zM310 195h1v2h-1zM311 193h1v2h-1zM312 192h1v1h-1zM313 191h1v1h-1zM314 189h1v2h-1zM315 188h1v1h-1zM316 187h1v1h-1zM317 185h1v2h-1zM318 183h1v2h-1zM319 181h1v2h-1zM320 180h1v1h-1zM321 178h1v2h-1zM322 176h1v2h-1zM323 174h1v2h-1zM324 172h1v2h-1zM325 171h1v1h-1zM326 169h1v2h-1zM327 168h1v1h-1zM328 167h1v1h-1zM329 166h1v1h-1zM330 165h1v1h-1zM331 164h1v1h-1zM332 163h1v1h-1zM333 162h1v1h-1zM334 161h1v1h-1zM335 161h1v1h-1zM336 160h1v1h-1zM337 159h1v1h-1zM338 158h1v1h-1zM339 157h1v1h-1zM340 156h1v1h-1zM341 155h1v1h-1zM342 153h1v2h-1zM343 152h1v1h-1zM344 151h1v1h-1zM345 149h1v2h-1zM346 148h1v1h-1zM347 146h1v2h-1zM348 145h1v1h-1zM349 144h1v1h-1zM350 143h1v1h-1zM351 143h1v1h-1zM352 142h1v1h-1zM353 141h1v1h-1zM354 140h1v1h-1zM355 139h1v1h-1zM356 138h1v1h-1zM357 137h1v1h-1zM358 135h1v2h-1zM359 134h1v1h-1zM360 133h1v1h-1zM361 132h1v1h-1zM362 130h1v2h-1zM363 129h1v1h-1zM364 128h1v1h-1zM365 127h1v1h-1zM366 126h1v1h-1zM367 125h1v1h-1zM368 124h1v1h-1zM369 123h1v1h-1zM370 122h1v1h-1zM371 121h1v1h-1zM372 120h1v1h-1zM373 119h1v1h-1zM374 118h1v1h-1zM375 118h1v1h-1zM376 117h1v1h-1zM377 116h1v1h-1zM378 116h1v1h-1zM379 115h1v1h-1zM380 115h1v1h-1zM381 114h1v1h-1zM382 114h1v1h-1zM383 113h1v1h-1zM384 113h1v1h-1zM385 113h1v1h-1zM386 112h1v1h-1zM387 112h1v1h-1zM388 112h1v1h-1zM389 112h1v1h-1zM390 112h1v1h-1zM391 112h1v1h-1zM392 112h1v1h-1zM393 113h1v1h-1zM394 114h1v1h-1zM395 115h1v1h-1zM396 116h1v1h-1zM397 117h1v1h-1zM398 118h1v1h-1zM399 118h1v1h-1zM400 119h1v1h-1zM401 120h1v1h-1zM402 121h1v2h-1zM403 123h1v1h-1zM404 124h1v1h-1zM405 125h1v2h-1zM406 127h1v2h-1zM407 129h1v2h-1zM408 131h1v1h-1zM409 132h1v2h-1zM410 134h1v2h-1zM411 136h1v2h-1zM412 138h1v1h-1zM413 139h1v2h-1zM414 141h1v2h-1zM415 143h1v2h-1zM416 145h1v1h-1zM417 146h1v2h-1zM418 148h1v2h-1zM419 150h1v2h-1zM420 152h1v2h-1zM421 154h1v2h-1zM422 156h1v2h-1zM423 158h1v2h-1zM424 160h1v3h-1zM425 163h1v2h-1zM426 165h1v2h-1zM427 167h1v2h-1zM428 169h1v2h-1zM429 171h1v2h-1zM430 173h1v2h-1zM431 175h1v2h-1zM432 177h1v1h-1zM433 178h1v2h-1zM434 180h1v1h-1zM435 181h1v2h-1zM436 183h1v1h-1zM437 184h1v2h-1zM438 186h1v2h-1zM439 188h1v2h-1zM440 190h1v1h-1zM441 191h1v2h-1zM442 193h1v2h-1zM443 195h1v2h-1zM444 197h1v1h-1zM445 198h1v2h-1zM446 200h1v1h-1zM447 201h1v2h-1zM448 203h1v1h-1zM449 204h1v2h-1zM450 206h1v2h-1zM451 208h1v2h-1zM452 210h1v1h-1zM453 211h1v2h-1zM454 213h1v2h-1zM455 215h1v2h-1zM456 217h1v2h-1zM457 219h1v3h-1zM458 222h1v2h-1zM459 224h1v3h-1zM460 227h1v3h-1zM461 230h1v2h-1zM462 232h1v2h-1zM463 234h1v2h-1zM464 236h1v3h-1zM465 239h1v3h-1zM466 242h1v2h-1zM467 244h1v3h-1zM468 247h1v2h-1zM469 249h1v2h-1zM470 251h1v2h-1zM471 253h1v2h-1zM472 255h1v2h-1zM473 257h1v2h-1zM474 259h1v1h-1zM475 260h1v2h-1zM476 262h1v1h-1zM477 263h1v1h-1zM478 264h1v2h-1zM479 266h1v1h-1zM480 267h1v1h-1zM481 268h1v1h-1zM482 269h1v2h-1zM483 271h1v1h-1zM484 272h1v1h-1zM485 273h1v1h-1zM486 274h1v1h-1zM487 275h1v1h-1zM488 276h1v1h-1zM489 277h1v1h-1zM490 278h1v1h-1zM491 279h1v1h-1zM492 280h1v1h-1zM493 281h1v2h-1zM494 283h1v1h-1zM495 284h1v2h-1zM496 286h1v1h-1zM497 287h1v1h-1zM498 288h1v2h-1zM499 290h1v1h-1zM500 291h1v1h-1zM501 292h1v1h-1zM502 293h1v1h-1zM503 294h1v1h-1zM504 295h1v1h-1zM505 296h1v1h-1zM506 297h1v1h-1zM507 297h1v1h-1zM508 298h1v1h-1zM509 299h1v1h-1zM510 300h1v1h-1zM511 300h1v1h-1zM512 301h1v1h-1zM513 302h1v1h-1zM514 303h1v2h-1zM515 305h1v1h-1zM516 306h1v1h-1zM517 307h1v1h-1zM518 308h1v2h-1zM519 310h1v1h-1zM520 311h1v1h-1zM521 312h1v2h-1zM522 314h1v2h-1zM523 316h1v2h-1zM524 318h1v2h-1zM525 320h1v2h-1zM526 322h1v2h-1zM527 324h1v2h-1zM528 326h1v3h-1zM529 329h1v2h-1zM530 331h1v3h-1zM531 334h1v2h-1zM532 336h1v3h-1zM533 339h1v3h-1zM534 342h1v2h-1zM535 344h1v3h-1zM536 347h1v2h-1zM537 349h1v2h-1zM538 351h1v2h-1zM539 353h1v2h-1zM540 355h1v2h-1zM541 357h1v1h-1zM542 358h1v1h-1zM543 358h1v1h-1zM544 359h1v1h-1zM545 360h1v1h-1zM546 361h1v1h-1zM547 362h1v1h-1zM548 363h1v1h-1zM549 363h1v1h-1zM550 364h1v1h-1zM551 364h1v1h-1zM552 364h1v1h-1zM553 365h1v1h-1zM554 366h1v1h-1zM555 366h1v1h-1zM556 367h1v1h-1zM557 368h1v2h-1zM558 370h1v1h-1zM559 371h1v2h-1zM560 373h1v1h-1zM561 374h1v1h-1zM562 375h1v2h-1zM563 377h1v1h-1zM564 378h1v1h-1zM565 379h1v1h-1zM566 380h1v1h-1zM567 381h1v1h-1zM568 382h1v1h-1zM569 383h1v1h-1zM570 384h1v1h-1zM571 385h1v1h-1zM572 386h1v1h-1zM573 387h1v1h-1zM574 388h1v2h-1zM575 390h1v1h-1zM576 391h1v1h-1zM577 392h1v1h-1zM578 392h1v1h-1zM579 393h1v1h-1zM580 393h1v1h-1zM581 394h1v1h-1zM582 395h1v1h-1zM583 395h1v1h-1zM584 396h1v1h-1zM585 397h1v1h-1zM586 397h1v1h-1zM587 398h1v1h-1zM588 398h1v1h-1zM589 399h1v1h-1zM590 400h1v1h-1zM591 400h1v1h-1zM592 401h1v1h-1zM593 402h1v1h-1zM594 403h1v1h-1zM595 403h1v1h-1zM596 404h1v1h-1zM597 403h1v1h-1zM598 402h1v1h-1zM599 402h1v1h-1zM600 401h1v1h-1zM601 400h1v1h-1zM602 398h1v2h-1zM603 397h1v1h-1zM604 396h1v1h-1zM605 394h1v2h-1zM606 393h1v1h-1zM607 391h1v2h-1zM608 390h1v1h-1zM609 388h1v2h-1zM610 386h1v2h-1zM611 384h1v2h-1zM612 381h1v3h-1zM613 378h1v3h-1zM614 376h1v2h-1zM615 373h1v3h-1zM616 370h1v3h-1zM617 368h1v2h-1zM618 365h1v3h-1zM619 363h1v2h-1zM620 361h1v2h-1zM621 359h1v2h-1zM622 357h1v2h-1zM623 355h1v2h-1zM624 353h1v2h-1zM625 351h1v2h-1zM626 349h1v2h-1zM627 347h1v2h-1zM628 346h1v1h-1zM629 344h1v2h-1zM630 342h1v2h-1zM631 340h1v2h-1zM632 339h1v1h-1zM633 338h1v1h-1zM634 336h1v2h-1zM635 335h1v1h-1zM636 334h1v1h-1zM637 332h1v2h-1zM638 330h1v2h-1zM639 328h1v2h-1zM640 327h1v1h-1zM641 325h1v2h-1zM642 324h1v1h-1zM643 322h1v2h-1zM644 321h1v1h-1zM645 319h1v2h-1zM646 317h1v2h-1zM647 315h1v2h-1zM648 313h1v2h-1zM649 311h1v2h-1zM650 310h1v1h-1zM651 308h1v2h-1zM652 307h1v1h-1zM653 305h1v2h-1zM654 303h1v2h-1zM655 301h1v2h-1zM656 300h1v1h-1zM657 298h1v2h-1zM658 296h1v2h-1zM659 294h1v2h-1zM660 293h1v1h-1zM661 291h1v2h-1zM662 289h1v2h-1zM663 287h1v2h-1zM664 286h1v1h-1zM665 284h1v2h-1zM666 282h1v2h-1zM667 280h1v2h-1zM668 279h1v1h-1zM669 277h1v2h-1zM670 275h1v2h-1zM671 273h1v2h-1zM672 272h1v1h-1zM673 270h1v2h-1zM674 268h1v2h-1zM675 266h1v2h-1zM676 265h1v1h-1zM677 263h1v2h-1zM678 261h1v2h-1zM679 259h1v2h-1zM680 257h1v2h-1zM681 257h1v1h-1zM682 256h1v1h-1zM683 256h1v1h-1zM684 256h1v1h-1zM685 256h1v1h-1zM686 255h1v1h-1zM687 255h1v1h-1zM688 255h1v1h-1zM689 255h1v1h-1zM690 255h1v1h-1zM691 255h1v1h-1zM692 255h1v1h-1zM693 255h1v1h-1zM694 256h1v1h-1zM695 256h1v1h-1zM696 256h1v1h-1zM697 256h1v1h-1zM698 256h1v1h-1zM699 256h1v1h-1zM700 256h1v1h-1zM701 256h1v1h-1zM702 256h1v1h-1zM703 256h1v1h-1zM704 256h1v1h-1zM705 256h1v1h-1zM706 255h1v1h-1zM707 255h1v1h-1zM708 255h1v1h-1zM709 254h1v1h-1zM710 253h1v1h-1zM711 253h1v1h-1zM712 252h1v1h-1zM713 252h1v1h-1zM714 252h1v1h-1zM715 252h1v1h-1zM716 252h1v1h-1zM717 251h1v1h-1zM718 251h1v1h-1zM719 250h1v1h-1zM720 250h1v1h-1zM721 250h1v1h-1zM722 249h1v1h-1zM723 249h1v1h-1zM724 249h1v1h-1zM725 249h1v1h-1zM726 248h1v1h-1zM727 248h1v1h-1zM728 248h1v1h-1zM729 248h1v1h-1zM730 247h1v1h-1zM731 247h1v1h-1zM732 247h1v1h-1zM733 246h1v1h-1zM734 245h1v1h-1zM735 244h1v1h-1zM736 243h1v1h-1zM737 242h1v1h-1zM738 242h1v1h-1zM739 241h1v1h-1zM740 241h1v1h-1zM741 241h1v1h-1zM742 241h1v1h-1zM743 241h1v1h-1zM744 241h1v1h-1zM745 242h1v1h-1zM746 242h1v1h-1zM747 243h1v1h-1zM748 243h1v1h-1zM749 243h1v1h-1zM750 243h1v1h-1zM751 243h1v1h-1zM752 243h1v1h-1zM753 244h1v1h-1zM754 245h1v1h-1zM755 245h1v1h-1zM756 246h1v1h-1zM757 247h1v1h-1zM758 247h1v1h-1zM759 248h1v1h-1zM760 248h1v1h-1zM761 248h1v1h-1zM762 249h1v1h-1zM763 249h1v1h-1zM764 249h1v1h-1zM765 250h1v1h-1zM766 250h1v1h-1zM767 251h1v1h-1zM768 251h1v1h-1zM769 251h1v1h-1zM770 250h1v1h-1zM771 250h1v1h-1zM772 250h1v1h-1zM773 250h1v1h-1zM774 249h1v1h-1zM775 249h1v1h-1zM776 249h1v1h-1zM777 248h1v1h-1zM778 248h1v1h-1zM779 247h1v1h-1zM780 247h1v1h-1zM781 247h1v1h-1zM782 246h1v1h-1zM783 246h1v1h-1zM784 246h1v1h-1zM785 246h1v1h-1zM786 246h1v1h-1zM787 246h1v1h-1zM788 246h1v1h-1zM789 246h1v1h-1zM790 247h1v1h-1zM791 247h1v1h-1zM792 247h1v1h-1zM793 247h1v1h-1zM794 248h1v1h-1zM795 248h1v1h-1zM796 248h1v1h-1zM797 248h1v1h-1zM798 247h1v1h-1zM799 247h1v1h-1zM800 247h1v1h-1zM801 247h1v1h-1zM802 247h1v1h-1zM803 247h1v1h-1zM804 247h1v1h-1zM805 247h1v1h-1zM806 246h1v1h-1zM807 246h1v1h-1zM808 246h1v1h-1zM809 246h1v1h-1zM810 245h1v1h-1zM811 245h1v1h-1zM812 245h1v1h-1zM813 245h1v1h-1zM814 244h1v1h-1zM815 244h1v1h-1zM816 244h1v1h-1zM817 245h1v1h-1zM818 245h1v1h-1zM819 246h1v1h-1zM820 246h1v1h-1zM821 246h1v1h-1zM822 246h1v1h-1zM823 246h1v1h-1zM824 246h1v1h-1zM825 245h1v1h-1zM826 245h1v1h-1zM827 244h1v1h-1zM828 244h1v1h-1zM829 244h1v1h-1zM830 243h1v1h-1zM831 243h1v1h-1zM832 243h1v1h-1zM833 243h1v1h-1zM834 242h1v1h-1zM835 242h1v1h-1zM836 242h1v1h-1zM837 242h1v1h-1zM838 241h1v1h-1zM839 241h1v1h-1zM840 241h1v1h-1zM841 241h1v1h-1zM842 241h1v1h-1zM843 241h1v1h-1zM844 241h1v1h-1zM845 241h1v1h-1zM846 241h1v1h-1zM847 241h1v1h-1zM848 241h1v1h-1zM849 241h1v1h-1zM850 241h1v1h-1zM851 241h1v1h-1zM852 241h1v1h-1zM853 242h1v1h-1zM854 242h1v1h-1zM855 243h1v1h-1zM856 243h1v1h-1zM857 244h1v1h-1zM858 244h1v1h-1zM859 245h1v1h-1zM860 245h1v1h-1zM861 246h1v1h-1zM862 247h1v1h-1zM863 247h1v1h-1zM864 248h1v1h-1zM865 249h1v1h-1zM866 250h1v2h-1zM867 252h1v1h-1zM868 253h1v1h-1zM869 254h1v1h-1zM870 255h1v1h-1zM871 255h1v1h-1zM872 256h1v1h-1zM873 257h1v1h-1zM874 257h1v1h-1zM875 258h1v1h-1zM876 258h1v1h-1zM877 259h1v1h-1zM878 259h1v1h-1zM879 260h1v1h-1zM880 260h1v1h-1zM881 260h1v1h-1zM882 261h1v1h-1zM883 261h1v1h-1zM884 261h1v1h-1zM885 262h1v1h-1zM886 262h1v1h-1zM887 263h1v1h-1zM888 263h1v1h-1zM889 264h1v1h-1zM890 265h1v2h-1zM891 267h1v1h-1zM892 268h1v1h-1zM893 269h1v1h-1zM894 270h1v1h-1zM895 271h1v1h-1zM896 272h1v1h-1zM897 273h1v1h-1zM898 274h1v2h-1zM899 276h1v1h-1zM900 277h1v1h-1zM901 278h1v2h-1zM902 280h1v1h-1zM903 281h1v2h-1zM904 283h1v1h-1zM905 284h1v2h-1zM906 286h1v1h-1zM907 287h1v2h-1zM908 289h1v1h-1zM909 290h1v1h-1zM910 291h1v1h-1zM911 291h1v1h-1zM912 292h1v1h-1zM913 292h1v1h-1zM914 292h1v1h-1zM915 292h1v1h-1zM916 292h1v1h-1zM917 292h1v1h-1zM918 293h1v1h-1zM919 293h1v1h-1zM920 293h1v1h-1zM921 293h1v1h-1zM922 293h1v1h-1zM923 293h1v1h-1zM924 293h1v1h-1z" fill="#0000ff"/>
<path d="M4 154h1v1h-1zM5 154h1v1h-1zM6 155h1v1h-1zM7 155h1v1h-1zM8 155h1v1h-1zM9 155h1v1h-1zM10 156h1v1h-1zM11 156h1v1h-1zM12 156h1v1h-1zM13 157h1v1h-1zM14 158h1v1h-1zM15 158h1v1h-1zM16 159h1v1h-1zM17 160h1v1h-1zM18 161h1v1h-1zM19 162h1v1h-1zM20 163h1v1h-1zM21 164h1v1h-1zM22 165h1v1h-1zM23 166h1v1h-1zM24 167h1v1h-1zM25 168h1v1h-1zM26 169h1v1h-1zM27 169h1v1h-1zM28 170h1v1h-1zM29 171h1v1h-1zM30 171h1v1h-1zM31 172h1v1h-1zM32 172h1v1h-1zM33 173h1v2h-1zM34 175h1v1h-1zM35 176h1v2h-1zM36 178h1v1h-1zM37 179h1v2h-1zM38 181h1v2h-1zM39 183h1v2h-1zM40 185h1v1h-1zM41 186h1v2h-1zM42 188h1v2h-1zM43 190h1v2h-1zM44 192h1v2h-1zM45 194h1v2h-1zM46 196h1v3h-1zM47 199h1v2h-1zM48 201h1v3h-1zM49 204h1v3h-1zM50 207h1v3h-1zM51 210h1v3h-1zM52 213h1v3h-1zM53 216h1v4h-1zM54 220h1v3h-1zM55 223h1v4h-1zM56 227h1v2h-1zM57 229h1v1h-1zM58 230h1v1h-1zM59 231h1v1h-1zM60 232h1v1h-1zM61 233h1v2h-1zM62 235h1v2h-1zM63 237h1v2h-1zM64 239h1v3h-1zM65 242h1v2h-1zM66 244h1v2h-1zM67 246h1v2h-1zM68 248h1v2h-1zM69 250h1v2h-1zM70 252h1v2h-1zM71 254h1v2h-1zM72 256h1v1h-1zM73 257h1v1h-1zM74 257h1v1h-1zM75 258h1v1h-1zM76 258h1v1h-1zM77 259h1v1h-1zM78 259h1v1h-1zM79 260h1v1h-1zM80 260h1v1h-1zM81 260h1v1h-1zM82 260h1v1h-1zM83 260h1v1h-1zM84 260h1v1h-1zM85 261h1v1h-1zM86 262h1v1h-1zM87 262h1v1h-1zM88 263h1v1h-1zM89 263h1v1h-1zM90 262h1v1h-1zM91 262h1v1h-1zM92 262h1v1h-1zM93 261h1v1h-1zM94 260h1v1h-1zM95 260h1v1h-1zM96 259h1v1h-1zM97 257h1v2h-1zM98 256h1v1h-1zM99 254h1v2h-1zM100 253h1v1h-1zM101 252h1v1h-1zM102 251h1v1h-1zM103 251h1v1h-1zM104 250h1v1h-1zM105 249h1v1h-1zM106 247h1v2h-1zM107 246h1v1h-1zM108 245h1v1h-1zM109 245h1v1h-1zM110 245h1v1h-1zM111 245h1v1h-1zM112 245h1v1h-1zM113 244h1v1h-1zM114 244h1v1h-1zM115 243h1v1h-1zM116 243h1v1h-1zM117 242h1v1h-1zM118 242h1v1h-1zM119 241h1v1h-1zM120 241h1v1h-1zM121 242h1v1h-1zM122 243h1v1h-1zM123 243h1v1h-1zM124 244h1v1h-1zM125 245h1v1h-1zM126 245h1v1h-1zM127 246h1v1h-1zM128 246h1v1h-1zM129 246h1v1h-1zM130 247h1v1h-1zM131 247h1v1h-1zM132 247h1v1h-1zM133 248h1v1h-1zM134 249h1v1h-1zM135 249h1v1h-1zM136 250h1v1h-1zM137 251h1v1h-1zM138 252h1v1h-1zM139 253h1v1h-1zM140 254h1v1h-1zM141 254h1v1h-1zM142 254h1v1h-1zM143 254h1v1h-1zM144 254h1v1h-1zM145 254h1v1h-1zM146 254h1v1h-1zM147 254h1v1h-1zM148 254h1v1h-1zM149 254h1v1h-1zM150 255h1v1h-1zM151 255h1v1h-1zM152 255h1v1h-1zM153 256h1v2h-1zM154 258h1v2h-1zM155 260h1v2h-1zM156 262h1v2h-1zM157 264h1v2h-1zM158 266h1v3h-1zM159 269h1v2h-1zM160 271h1v2h-1zM161 273h1v2h-1zM162 275h1v2h-1zM163 277h1v2h-1zM164 279h1v2h-1zM165 281h1v2h-1zM166 283h1v2h-1zM167 285h1v2h-1zM168 287h1v2h-1zM169 289h1v2h-1zM170 291h1v2h-1zM171 293h1v2h-1zM172 295h1v2h-1zM173 297h1v2h-1zM174 299h1v2h-1zM175 301h1v2h-1zM176 303h1v1h-1zM177 304h1v1h-1zM178 305h1v2h-1zM179 307h1v1h-1zM180 308h1v1h-1zM181 309h1v1h-1zM182 310h1v1h-1zM183 310h1v1h-1zM184 311h1v1h-1zM185 312h1v1h-1zM186 313h1v2h-1zM187 315h1v1h-1zM188 316h1v1h-1zM189 315h1v1h-1zM190 315h1v1h-1zM191 314h1v1h-1zM192 314h1v1h-1zM193 314h1v1h-1zM194 315h1v1h-1zM195 315h1v1h-1zM196 315h1v1h-1zM197 316h1v1h-1zM198 316h1v1h-1zM199 317h1v1h-1zM200 317h1v1h-1zM201 317h1v1h-1zM202 316h1v1h-1zM203 316h1v1h-1zM204 316h1v1h-1zM205 316h1v1h-1zM206 316h1v1h-1zM207 316h1v1h-1zM208 316h1v1h-1zM209 316h1v1h-1zM210 315h1v1h-1zM211 315h1v1h-1zM212 315h1v1h-1zM213 313h1v2h-1zM214 312h1v1h-1zM215 310h1v2h-1zM216 309h1v1h-1zM217 307h1v2h-1zM218 306h1v1h-1zM219 304h1v2h-1zM220 302h1v2h-1zM221 300h1v2h-1zM222 298h1v2h-1zM223 296h1v2h-1zM224 294h1v2h-1zM225 292h1v2h-1zM226 291h1v1h-1zM227 289h1v2h-1zM228 288h1v1h-1zM229 286h1v2h-1zM230 284h1v2h-1zM231 282h1v2h-1zM232 281h1v1h-1zM233 279h1v2h-1zM234 277h1v2h-1zM235 275h1v2h-1zM236 273h1v2h-1zM237 271h1v2h-1zM238 269h1v2h-1zM239 267h1v2h-1zM240 265h1v2h-1zM241 263h1v2h-1zM242 261h1v2h-1zM243 259h1v2h-1zM244 257h1v2h-1zM245 255h1v2h-1zM246 254h1v1h-1zM247 252h1v2h-1zM248 250h1v2h-1zM249 247h1v3h-1zM250 244h1v3h-1zM251 241h1v3h-1zM252 239h1v2h-1zM253 237h1v2h-1zM254 235h1v2h-1zM255 233h1v2h-1zM256 231h1v2h-1zM257 230h1v1h-1zM258 228h1v2h-1zM259 227h1v1h-1zM260 226h1v1h-1zM261 225h1v1h-1zM262 224h1v1h-1zM263 223h1v1h-1zM264 222h1v1h-1zM265 220h1v2h-1zM266 219h1v1h-1zM267 217h1v2h-1zM268 216h1v1h-1zM269 215h1v1h-1zM270 213h1v2h-1zM271 212h1v1h-1zM272 211h1v1h-1zM273 210h1v1h-1zM274 209h1v1h-1zM275 209h1v1h-1zM276 208h1v1h-1zM277 207h1v1h-1zM278 207h1v1h-1zM279 206h1v1h-1zM280 206h1v1h-1zM281 205h1v1h-1zM282 203h1v2h-1zM283 202h1v1h-1zM284 201h1v1h-1zM285 200h1v1h-1zM286 199h1v1h-1zM287 198h1v1h-1zM288 197h1v1h-1zM289 195h1v2h-1zM290 194h1v1h-1zM291 192h1v2h-1zM292 191h1v1h-1zM293 190h1v1h-1zM294 189h1v1h-1zM295 188h1v1h-1zM296 187h1v1h-1zM297 188h1v1h-1zM298 188h1v1h-1zM299 189h1v1h-1zM300 189h1v1h-1zM301 189h1v1h-1zM302 189h1v1h-1zM303 189h1v1h-1zM304 189h1v1h-1zM305 190h1v1h-1zM306 191h1v1h-1zM307 191h1v1h-1zM308 192h1v1h-1zM309 191h1v1h-1zM310 190h1v1h-1zM311 190h1v1h-1zM312 189h1v1h-1zM313 188h1v1h-1zM314 187h1v1h-1zM315 186h1v1h-1zM316 185h1v1h-1zM317 183h1v2h-1zM318 181h1v2h-1zM319 179h1v2h-1zM320 177h1v2h-1zM321 175h1v2h-1zM322 173h1v2h-1zM323 171h1v2h-1zM324 168h1v3h-1zM325 166h1v2h-1zM326 163h1v3h-1zM327 161h1v2h-1zM328 159h1v2h-1zM329 157h1v2h-1zM330 155h1v2h-1zM331 153h1v2h-1zM332 150h1v3h-1zM333 148h1v2h-1zM334 145h1v3h-1zM335 143h1v2h-1zM336 141h1v2h-1zM337 139h1v2h-1zM338 137h1v2h-1zM339 135h1v2h-1zM340 133h1v2h-1zM341 131h1v2h-1zM342 129h1v2h-1zM343 127h1v2h-1zM344 125h1v2h-1zM345 123h1v2h-1zM346 122h1v1h-1zM347 120h1v2h-1zM348 119h1v1h-1zM349 118h1v1h-1zM350 116h1v2h-1zM351 115h1v1h-1zM352 114h1v1h-1zM353 113h1v1h-1zM354 111h1v2h-1zM355 110h1v1h-1zM356 109h1v1h-1zM357 107h1v2h-1zM358 106h1v1h-1zM359 104h1v2h-1zM360 103h1v1h-1zM361 102h1v1h-1zM362 101h1v1h-1zM363 100h1v1h-1zM364 99h1v1h-1zM365 99h1v1h-1zM366 98h1v1h-1zM367 98h1v1h-1zM368 98h1v1h-1zM369 98h1v1h-1zM370 97h1v1h-1zM371 97h1v1h-1zM372 97h1v1h-1zM373 97h1v1h-1zM374 96h1v1h-1zM375 96h1v1h-1zM376 96h1v1h-1zM377 97h1v2h-1zM378 99h1v1h-1zM379 100h1v2h-1zM380 102h1v1h-1zM381 103h1v2h-1zM382 105h1v1h-1zM383 106h1v2h-1zM384 108h1v1h-1zM385 109h1v1h-1zM386 110h1v2h-1zM387 112h1v1h-1zM388 113h1v1h-1zM389 114h1v2h-1zM390 116h1v2h-1zM391 118h1v2h-1zM392 120h1v1h-1zM393 121h1v2h-1zM394 123h1v2h-1zM395 125h1v2h-1zM396 127h1v3h-1zM397 130h1v2h-1zM398 132h1v2h-1zM399 134h1v2h-1zM400 136h1v3h-1zM401 139h1v2h-1zM402 141h1v2h-1zM403 143h1v2h-1zM404 145h1v2h-1zM405 147h1v2h-1zM406 149h1v1h-1zM407 150h1v2h-1zM408 152h1v1h-1zM409 153h1v2h-1zM410 155h1v2h-1zM411 157h1v2h-1zM412 159h1v2h-1zM413 161h1v2h-1zM414 163h1v3h-1zM415 166h1v2h-1zM416 168h1v3h-1zM417 171h1v2h-1zM418 173h1v3h-1zM419 176h1v2h-1zM420 178h1v3h-1zM421 181h1v3h-1zM422 184h1v2h-1zM423 186h1v3h-1zM424 189h1v3h-1zM425 192h1v2h-1zM426 194h1v2h-1zM427 196h1v2h-1zM428 198h1v3h-1zM429 201h1v3h-1zM430 204h1v2h-1zM431 206h1v3h-1zM432 209h1v2h-1zM433 211h1v2h-1zM434 213h1v2h-1zM435 215h1v2h-1zM436 217h1v1h-1zM437 218h1v2h-1zM438 220h1v2h-1zM439 222h1v2h-1zM440 224h1v1h-1zM441 225h1v2h-1zM442 227h1v2h-1zM443 229h1v2h-1zM444 231h1v1h-1zM445 232h1v1h-1zM446 233h1v2h-1zM447 235h1v1h-1zM448 236h1v1h-1zM449 237h1v1h-1zM450 238h1v1h-1zM451 238h1v1h-1zM452 239h1v1h-1zM453 240h1v1h-1zM454 241h1v2h-1zM455 243h1v1h-1zM456 244h1v2h-1zM457 246h1v2h-1zM458 248h1v2h-1zM459 250h1v2h-1zM460 252h1v3h-1zM461 255h1v2h-1zM462 257h1v2h-1zM463 259h1v2h-1zM464 261h1v3h-1zM465 264h1v3h-1zM466 267h1v2h-1zM467 269h1v3h-1zM468 272h1v2h-1zM469 274h1v2h-1zM470 276h1v2h-1zM471 278h1v2h-1zM472 280h1v1h-1zM473 281h1v1h-1zM474 281h1v1h-1zM475 282h1v1h-1zM476 282h1v1h-1zM477 283h1v1h-1zM478 284h1v1h-1zM479 285h1v1h-1zM480 286h1v1h-1zM481 287h1v1h-1zM482 288h1v1h-1zM483 289h1v1h-1zM484 290h1v1h-1zM485 291h1v1h-1zM486 292h1v1h-1zM487 293h1v1h-1zM488 294h1v1h-1zM489 295h1v1h-1zM490 296h1v1h-1zM491 296h1v1h-1zM492 297h1v1h-1zM493 298h1v2h-1zM494 300h1v2h-1zM495 302h1v2h-1zM496 304h1v1h-1zM497 305h1v1h-1zM498 306h1v2h-1zM499 308h1v1h-1zM500 309h1v1h-1zM501 310h1v2h-1zM502 312h1v2h-1zM503 314h1v2h-1zM504 316h1v1h-1zM505 317h1v2h-1zM506 319h1v1h-1zM507 320h1v2h-1zM508 322h1v1h-1zM509 323h1v1h-1zM510 324h1v1h-1zM511 325h1v1h-1zM512 326h1v1h-1zM513 326h1v1h-1zM514 326h1v1h-1zM515 326h1v1h-1zM516 326h1v1h-1zM517 326h1v1h-1zM518 327h1v1h-1zM519 327h1v1h-1zM520 327h1v1h-1zM521 328h1v1h-1zM522 329h1v1h-1zM523 330h1v1h-1zM524 331h1v1h-1zM525 332h1v2h-1zM526 334h1v1h-1zM527 335h1v2h-1zM528 337h1v2h-1zM529 339h1v3h-1zM530 342h1v3h-1zM531 345h1v3h-1zM532 348h1v3h-1zM533 351h1v3h-1zM534 354h1v3h-1zM535 357h1v3h-1zM536 360h1v3h-1zM537 363h1v2h-1zM538 365h1v2h-1zM539 367h1v2h-1zM540 369h1v2h-1zM541 371h1v2h-1zM542 373h1v2h-1zM543 375h1v2h-1zM544 377h1v2h-1zM545 379h1v2h-1zM546 381h1v2h-1zM547 383h1v2h-1zM548 385h1v2h-1zM549 387h1v1h-1zM550 388h1v1h-1zM551 388h1v1h-1zM552 389h1v1h-1zM553 390h1v1h-1zM554 391h1v2h-1zM555 393h1v1h-1zM556 394h1v1h-1zM557 395h1v2h-1zM558 397h1v1h-1zM559 398h1v2h-1zM560 400h1v1h-1zM561 401h1v2h-1zM562 403h1v1h-1zM563 404h1v2h-1zM564 406h1v1h-1zM565 407h1v1h-1zM566 408h1v2h-1zM567 410h1v1h-1zM568 411h1v1h-1zM569 412h1v1h-1zM570 413h1v1h-1zM571 414h1v1h-1zM572 415h1v1h-1zM573 416h1v1h-1zM574 416h1v1h-1zM575 417h1v1h-1zM576 417h1v1h-1zM577 416h1v1h-1zM578 416h1v1h-1zM579 415h1v1h-1zM580 415h1v1h-1zM581 414h1v1h-1zM582 414h1v1h-1zM583 413h1v1h-1zM584 413h1v1h-1zM585 411h1v2h-1zM586 410h1v1h-1zM587 408h1v2h-1zM588 407h1v1h-1zM589 405h1v2h-1zM590 404h1v1h-1zM591 402h1v2h-1zM592 401h1v1h-1zM593 400h1v1h-1zM594 399h1v1h-1zM595 399h1v1h-1zM596 397h1v2h-1zM597 395h1v2h-1zM598 392h1v3h-1zM599 390h1v2h-1zM600 387h1v3h-1zM601 385h1v2h-1zM602 382h1v3h-1zM603 380h1v2h-1zM604 378h1v2h-1zM605 376h1v2h-1zM606 374h1v2h-1zM607 372h1v2h-1zM608 369h1v3h-1zM609 366h1v3h-1zM610 364h1v2h-1zM611 361h1v3h-1zM612 358h1v3h-1zM613 355h1v3h-1zM614 352h1v3h-1zM615 349h1v3h-1zM616 346h1v3h-1zM617 343h1v3h-1zM618 341h1v2h-1zM619 338h1v3h-1zM620 335h1v3h-1zM621 333h1v2h-1zM622 330h1v3h-1zM623 328h1v2h-1zM624 325h1v3h-1zM625 323h1v2h-1zM626 321h1v2h-1zM627 319h1v2h-1zM628 316h1v3h-1zM629 314h1v2h-1zM630 312h1v2h-1zM631 310h1v2h-1zM632 308h1v2h-1zM633 306h1v2h-1zM634 304h1v2h-1zM635 302h1v2h-1zM636 299h1v3h-1zM637 297h1v2h-1zM638 295h1v2h-1zM639 293h1v2h-1zM640 291h1v2h-1zM641 289h1v2h-1zM642 287h1v2h-1zM643 285h1v2h-1zM644 283h1v2h-1zM645 281h1v2h-1zM646 279h1v2h-1zM647 277h1v2h-1zM648 274h1v3h-1zM649 271h1v3h-1zM650 269h1v2h-1zM651 266h1v3h-1zM652 264h1v2h-1zM653 264h1v1h-1zM654 263h1v1h-1zM655 263h1v1h-1zM656 263h1v1h-1zM657 263h1v1h-1zM658 262h1v1h-1zM659 262h1v1h-1zM660 262h1v1h-1zM661 261h1v1h-1zM662 260h1v1h-1zM663 260h1v1h-1zM664 259h1v1h-1zM665 259h1v1h-1zM666 259h1v1h-1zM667 259h1v1h-1zM668 259h1v1h-1zM669 259h1v1h-1zM670 258h1v1h-1zM671 258h1v1h-1zM672 258h1v1h-1zM673 257h1v1h-1zM674 257h1v1h-1zM675 256h1v1h-1zM676 256h1v1h-1zM677 256h1v1h-1zM678 255h1v1h-1zM679 255h1v1h-1zM680 255h1v1h-1zM681 254h1v1h-1zM682 254h1v1h-1zM683 253h1v1h-1zM684 253h1v1h-1zM685 253h1v1h-1zM686 252h1v1h-1zM687 252h1v1h-1zM688 252h1v1h-1zM689 252h1v1h-1zM690 252h1v1h-1zM691 252h1v1h-1zM692 252h1v1h-1zM693 252h1v1h-1zM694 252h1v1h-1zM695 252h1v1h-1zM696 252h1v1h-1zM697 251h1v1h-1zM698 251h1v1h-1zM699 250h1v1h-1zM700 250h1v1h-1zM701 250h1v1h-1zM702 250h1v1h-1zM703 250h1v1h-1zM704 250h1v1h-1zM705 249h1v1h-1zM706 249h1v1h-1zM707 248h1v1h-1zM708 248h1v1h-1zM709 247h1v1h-1zM710 247h1v1h-1zM711 246h1v1h-1zM712 246h1v1h-1zM713 246h1v1h-1zM714 246h1v1h-1zM715 246h1v1h-1zM716 246h1v1h-1zM717 246h1v1h-1zM718 247h1v1h-1zM719 247h1v1h-1zM720 247h1v1h-1zM721 247h1v1h-1zM722 246h1v1h-1zM723 246h1v1h-1zM724 246h1v1h-1zM725 247h1v1h-1zM726 247h1v1h-1zM727 248h1v1h-1zM728 248h1v1h-1zM729 248h1v1h-1zM730 249h1v1h-1zM731 249h1v1h-1zM732 249h1v1h-1zM733 247h1v2h-1zM734 246h1v1h-1zM735 244h1v2h-1zM736 243h1v1h-1zM737 242h1v1h-1zM738 241h1v1h-1zM739 241h1v1h-1zM740 240h1v1h-1zM741 240h1v1h-1zM742 241h1v1h-1zM743 241h1v1h-1zM744 241h1v1h-1zM745 241h1v1h-1zM746 241h1v1h-1zM747 241h1v1h-1zM748 241h1v1h-1zM749 241h1v1h-1zM750 241h1v1h-1zM751 241h1v1h-1zM752 241h1v1h-1zM753 242h1v1h-1zM754 242h1v1h-1zM755 243h1v1h-1zM756 243h1v1h-1zM757 243h1v1h-1zM758 244h1v1h-1zM759 244h1v1h-1zM760 244h1v1h-1zM761 245h1v1h-1zM762 246h1v1h-1zM763 247h1v1h-1zM764 248h1v1h-1zM765 249h1v1h-1zM766 250h1v1h-1zM767 250h1v1h-1zM768 251h1v1h-1zM769 250h1v1h-1zM770 250h1v1h-1zM771 249h1v1h-1zM772 249h1v1h-1zM773 249h1v1h-1zM774 249h1v1h-1zM775 249h1v1h-1zM776 249h1v1h-1zM777 249h1v1h-1zM778 249h1v1h-1zM779 249h1v1h-1zM780 249h1v1h-1zM781 248h1v1h-1zM782 248h1v1h-1zM783 247h1v1h-1zM784 247h1v1h-1zM785 247h1v1h-1zM786 248h1v1h-1zM787 248h1v1h-1zM788 248h1v1h-1zM789 249h1v2h-1zM790 251h1v1h-1zM791 252h1v2h-1zM792 254h1v1h-1zM793 255h1v1h-1zM794 256h1v1h-1zM795 256h1v1h-1zM796 257h1v1h-1zM797 256h1v1h-1zM798 256h1v1h-1zM799 255h1v1h-1zM800 255h1v1h-1zM801 255h1v1h-1zM802 254h1v1h-1zM803 254h1v1h-1zM804 254h1v1h-1zM805 253h1v1h-1zM806 252h1v1h-1zM807 251h1v1h-1zM808 250h1v1h-1zM809 249h1v1h-1zM810 248h1v1h-1zM811 248h1v1h-1zM812 247h1v1h-1zM813 246h1v1h-1zM814 245h1v1h-1zM815 244h1v1h-1zM816 243h1v1h-1zM817 241h1v2h-1zM818 240h1v1h-1zM819 238h1v2h-1zM820 237h1v1h-1zM821 236h1v1h-1zM822 234h1v2h-1zM823 233h1v1h-1zM824 232h1v1h-1zM825 232h1v1h-1zM826 232h1v1h-1zM827 232h1v1h-1zM828 232h1v1h-1zM829 232h1v1h-1zM830 233h1v1h-1zM831 233h1v1h-1zM832 233h1v1h-1zM833 233h1v1h-1zM834 234h1v1h-1zM835 234h1v1h-1zM836 234h1v1h-1zM837 234h1v1h-1zM838 235h1v1h-1zM839 235h1v1h-1zM840 235h1v1h-1zM841 235h1v1h-1zM842 236h1v1h-1zM843 236h1v1h-1zM844 236h1v1h-1zM845 237h1v1h-1zM846 237h1v1h-1zM847 238h1v1h-1zM848 238h1v1h-1zM849 239h1v1h-1zM850 239h1v1h-1zM851 240h1v1h-1zM852 240h1v1h-1zM853 241h1v1h-1zM854 242h1v1h-1zM855 242h1v1h-1zM856 243h1v1h-1zM857 244h1v1h-1zM858 245h1v1h-1zM859 245h1v1h-1zM860 246h1v1h-1zM861 247h1v2h-1zM862 249h1v1h-1zM863 250h1v2h-1zM864 252h1v1h-1zM865 253h1v2h-1zM866 255h1v2h-1zM867 257h1v2h-1zM868 259h1v1h-1zM869 260h1v2h-1zM870 262h1v2h-1zM871 264h1v2h-1zM872 266h1v1h-1zM873 267h1v2h-1zM874 269h1v2h-1zM875 271h1v2h-1zM876 273h1v1h-1zM877 274h1v1h-1zM878 275h1v2h-1zM879 277h1v1h-1zM880 278h1v1h-1zM881 279h1v1h-1zM882 280h1v1h-1zM883 280h1v1h-1zM884 281h1v1h-1zM885 282h1v1h-1zM886 283h1v1h-1zM887 283h1v1h-1zM888 284h1v1h-1zM889 285h1v1h-1zM890 286h1v2h-1zM891 288h1v1h-1zM892 289h1v1h-1zM893 290h1v1h-1zM894 291h1v2h-1zM895 293h1v1h-1zM896 294h1v1h-1zM897 295h1v1h-1zM898 296h1v1h-1zM899 296h1v1h-1zM900 297h1v1h-1zM901 298h1v1h-1zM902 299h1v1h-1zM903 299h1v1h-1zM904 300h1v1h-1zM905 301h1v1h-1zM906 302h1v2h-1zM907 304h1v1h-1zM908 305h1v1h-1zM909 305h1v1h-1zM910 305h1v1h-1zM911 305h1v1h-1zM912 305h1v1h-1zM913 304h1v1h-1zM914 304h1v1h-1zM915 303h1v1h-1zM916 303h1v1h-1zM917 302h1v1h-1zM918 301h1v1h-1zM919 301h1v1h-1zM920 300h1v1h-1zM921 299h1v1h-1zM922 297h1v2h-1zM923 296h1v1h-1zM924 295h1v1h-1z" fill="#ff0000"/>
<rect x="4" y="49" width="1162" height="2" fill="#ff0000" />
<rect x="4" y="174" width="1162" height="2" fill="#ff0000" />
<rect x="4" y="292" width="1162" height="2" fill="#00ff00" />
<rect x="4" y="383" width="1162" height="2" fill="#0000ff" />
<rect x="4" y="474" width="1162" height="2" fill="#0000ff" />
<rect x="4" y="140" width="1" height="40" fill="#32cd32" />
<rect x="3" y="146" width="3" height="32" fill="#32cd32" />
<rect x="8" y="168" width="1" height="11" fill="#ff0000" />
<rect x="7" y="174" width="3" height="4" fill="#ff0000" />
<rect x="8" y="175" width="1" height="2" fill="#ff4500" />
<rect x="12" y="140" width="1" height="40" fill="#ff0000" />
<rect x="11" y="143" width="3" height="33" fill="#ff0000" />
<rect x="12" y="144" width="1" height="31" fill="#ff4500" />
<rect x="16" y="139" width="1" height="43" fill="#32cd32" />
<rect x="15" y="143" width="3" height="22" fill="#32cd32" />
<rect x="20" y="162" width="1" height="42" fill="#32cd32" />
<rect x="19" y="162" width="3" height="38" fill="#32cd32" />
<rect x="24" y="175" width="1" height="53" fill="#32cd32" />
<rect x="23" y="199" width="3" height="14" fill="#32cd32" />
<rect x="28" y="198" width="1" height="19" fill="#ff0000" />
<rect x="27" y="206" width="3" height="7" fill="#ff0000" />
<rect x="28" y="207" width="1" height="5" fill="#ff4500" />
<rect x="31" y="200" width="3" height="1" fill="#000000" />
<rect x="36" y="215" width="1" height="100" fill="#32cd32" />
<rect x="35" y="219" width="3" height="73" fill="#32cd32" />
<rect x="40" y="269" width="1" height="96" fill="#32cd32" />
<rect x="39" y="290" width="3" height="24" fill="#32cd32" />
<rect x="44" y="284" width="1" height="58" fill="#ff0000" />
<rect x="43" y="292" width="3" height="22" fill="#ff0000" />
<rect x="44" y="293" width="1" height="20" fill="#ff4500" />
<rect x="48" y="258" width="1" height="63" fill="#ff0000" />
<rect x="47" y="258" width="3" height="34" fill="#ff0000" />
<rect x="48" y="259" width="1" height="32" fill="#ff4500" />
<rect x="52" y="246" width="1" height="46" fill="#32cd32" />
<rect x="51" y="259" width="3" height="25" fill="#32cd32" />
<rect x="56" y="253" width="1" height="37" fill="#ff0000" />
<rect x="55" y="266" width="3" height="19" fill="#ff0000" />
<rect x="56" y="267" width="1" height="17" fill="#ff4500" />
<rect x="60" y="223" width="1" height="42" fill="#ff0000" />
<rect x="59" y="247" width="3" height="5" fill="#ff0000" />
<rect x="60" y="248" width="1" height="3" fill="#ff4500" />
<rect x="64" y="242" width="1" height="50" fill="#32cd32" />
<rect x="63" y="248" width="3" height="31" fill="#32cd32" />
<rect x="68" y="265" width="1" height="49" fill="#ff0000" />
<rect x="67" y="271" width="3" height="8" fill="#ff0000" />
<rect x="68" y="272" width="1" height="6" fill="#ff4500" />
<rect x="72" y="247" width="1" height="34" fill="#ff0000" />
<rect x="71" y="256" width="3" height="16" fill="#ff0000" />
<rect x="72" y="257" width="1" height="14" fill="#ff4500" />
<rect x="76" y="233" width="1" height="39" fill="#ff0000" />
<rect x="75" y="237" width="3" height="19" fill="#ff0000" />
<rect x="76" y="238" width="1" height="17" fill="#ff4500" />
<rect x="80" y="232" width="1" height="13" fill="#ff0000" />
<rect x="79" y="234" width="3" height="5" fill="#ff0000" />
<rect x="80" y="235" width="1" height="3" fill="#ff4500" />
<rect x="84" y="192" width="1" height="49" fill="#ff0000" />
<rect x="83" y="212" width="3" height="17" fill="#ff0000" />
<rect x="84" y="213" width="1" height="15" fill="#ff4500" />
<rect x="88" y="206" width="1" height="48" fill="#32cd32" />
<rect x="87" y="212" width="3" height="33" fill="#32cd32" />
<rect x="92" y="235" width="1" height="40" fill="#32cd32" />
<rect x="91" y="246" width="3" height="29" fill="#32cd32" />
<rect x="96" y="263" width="1" height="24" fill="#ff0000" />
<rect x="95" y="266" width="3" height="9" fill="#ff0000" />
<rect x="96" y="267" width="1" height="7" fill="#ff4500" />
<rect x="100" y="208" width="1" height="66" fill="#ff0000" />
<rect x="99" y="216" width="3" height="50" fill="#ff0000" />
<rect x="100" y="217" width="1" height="48" fill="#ff4500" />
<rect x="104" y="208" width="1" height="17" fill="#ff0000" />
<rect x="103" y="210" width="3" height="8" fill="#ff0000" />
<rect x="104" y="211" width="1" height="6" fill="#ff4500" />
<rect x="108" y="211" width="1" height="27" fill="#32cd32" />
<rect x="107" y="217" width="3" height="6" fill="#32cd32" />
<rect x="112" y="216" width="1" height="45" fill="#32cd32" />
<rect x="111" y="222" width="3" height="37" fill="#32cd32" />
<rect x="116" y="204" width="1" height="62" fill="#ff0000" />
<rect x="115" y="216" width="3" height="42" fill="#ff0000" />
<rect x="116" y="217" width="1" height="40" fill="#ff4500" />
<rect x="120" y="178" width="1" height="83" fill="#32cd32" />
<rect x="119" y="216" width="3" height="35" fill="#32cd32" />
<rect x="124" y="240" width="1" height="76" fill="#32cd32" />
<rect x="123" y="251" width="3" height="61" fill="#32cd32" />
<rect x="128" y="292" width="1" height="20" fill="#ff0000" />
<rect x="127" y="295" width="3" height="17" fill="#ff0000" />
<rect x="128" y="296" width="1" height="15" fill="#ff4500" />
<rect x="132" y="243" width="1" height="67" fill="#ff0000" />
<rect x="131" y="246" width="3" height="41" fill="#ff0000" />
<rect x="132" y="247" width="1" height="39" fill="#ff4500" />
<rect x="136" y="244" width="1" height="44" fill="#32cd32" />
<rect x="135" y="246" width="3" height="27" fill="#32cd32" />
<rect x="140" y="265" width="1" height="22" fill="#ff0000" />
<rect x="139" y="272" width="3" height="1" fill="#ff0000" />
<rect x="144" y="245" width="1" height="39" fill="#ff0000" />
<rect x="143" y="249" width="3" height="24" fill="#ff0000" />
<rect x="144" y="250" width="1" height="22" fill="#ff4500" />
<rect x="148" y="227" width="1" height="52" fill="#32cd32" />
<rect x="147" y="248" width="3" height="23" fill="#32cd32" />
<rect x="152" y="273" width="1" height="8" fill="#32cd32" />
<rect x="151" y="274" width="3" height="5" fill="#32cd32" />
<rect x="156" y="280" width="1" height="34" fill="#32cd32" />
<rect x="155" y="280" width="3" height="33" fill="#32cd32" />
<rect x="160" y="298" width="1" height="53" fill="#32cd32" />
<rect x="159" y="298" width="3" height="52" fill="#32cd32" />
<rect x="164" y="330" width="1" height="35" fill="#ff0000" />
<rect x="163" y="336" width="3" height="13" fill="#ff0000" />
<rect x="164" y="337" width="1" height="11" fill="#ff4500" />
<rect x="168" y="324" width="1" height="33" fill="#32cd32" />
<rect x="167" y="336" width="3" height="18" fill="#32cd32" />
<rect x="172" y="318" width="1" height="39" fill="#ff0000" />
<rect x="171" y="346" width="3" height="8" fill="#ff0000" />
<rect x="172" y="347" width="1" height="6" fill="#ff4500" />
<rect x="176" y="343" width="1" height="10" fill="#32cd32" />
<rect x="175" y="347" width="3" height="2" fill="#32cd32" />
<rect x="180" y="345" width="1" height="41" fill="#32cd32" />
<rect x="179" y="347" width="3" height="31" fill="#32cd32" />
<rect x="184" y="333" width="1" height="53" fill="#ff0000" />
<rect x="183" y="345" width="3" height="33" fill="#ff0000" />
<rect x="184" y="346" width="1" height="31" fill="#ff4500" />
<rect x="188" y="297" width="1" height="52" fill="#ff0000" />
<rect x="187" y="304" width="3" height="42" fill="#ff0000" />
<rect x="188" y="305" width="1" height="40" fill="#ff4500" />
<rect x="192" y="257" width="1" height="77" fill="#ff0000" />
<rect x="191" y="258" width="3" height="46" fill="#ff0000" />
<rect x="192" y="259" width="1" height="44" fill="#ff4500" />
<rect x="196" y="257" width="1" height="52" fill="#32cd32" />
<rect x="195" y="258" width="3" height="26" fill="#32cd32" />
<rect x="200" y="270" width="1" height="28" fill="#ff0000" />
<rect x="199" y="273" width="3" height="19" fill="#ff0000" />
<rect x="200" y="274" width="1" height="17" fill="#ff4500" />
<rect x="204" y="249" width="1" height="50" fill="#ff0000" />
<rect x="203" y="252" width="3" height="43" fill="#ff0000" />
<rect x="204" y="253" width="1" height="41" fill="#ff4500" />
<rect x="208" y="251" width="1" height="38" fill="#32cd32" />
<rect x="207" y="252" width="3" height="35" fill="#32cd32" />
<rect x="212" y="262" width="1" height="48" fill="#32cd32" />
<rect x="211" y="273" width="3" height="16" fill="#32cd32" />
<rect x="216" y="273" width="1" height="35" fill="#ff0000" />
<rect x="215" y="275" width="3" height="12" fill="#ff0000" />
<rect x="216" y="276" width="1" height="10" fill="#ff4500" />
<rect x="220" y="191" width="1" height="86" fill="#ff0000" />
<rect x="219" y="246" width="3" height="31" fill="#ff0000" />
<rect x="220" y="247" width="1" height="29" fill="#ff4500" />
<rect x="224" y="224" width="1" height="24" fill="#ff0000" />
<rect x="223" y="230" width="3" height="17" fill="#ff0000" />
<rect x="224" y="231" width="1" height="15" fill="#ff4500" />
<rect x="228" y="246" width="1" height="23" fill="#32cd32" />
<rect x="227" y="255" width="3" height="11" fill="#32cd32" />
<rect x="232" y="235" width="1" height="31" fill="#ff0000" />
<rect x="231" y="247" width="3" height="17" fill="#ff0000" />
<rect x="232" y="248" width="1" height="15" fill="#ff4500" />
<rect x="236" y="244" width="1" height="38" fill="#32cd32" />
<rect x="235" y="246" width="3" height="18" fill="#32cd32" />
<rect x="240" y="240" width="1" height="23" fill="#ff0000" />
<rect x="239" y="251" width="3" height="7" fill="#ff0000" />
<rect x="240" y="252" width="1" height="5" fill="#ff4500" />
<rect x="244" y="169" width="1" height="84" fill="#ff0000" />
<rect x="243" y="170" width="3" height="81" fill="#ff0000" />
<rect x="244" y="171" width="1" height="79" fill="#ff4500" />
<rect x="248" y="153" width="1" height="28" fill="#32cd32" />
<rect x="247" y="171" width="3" height="10" fill="#32cd32" />
<rect x="252" y="116" width="1" height="80" fill="#ff0000" />
<rect x="251" y="118" width="3" height="73" fill="#ff0000" />
<rect x="252" y="119" width="1" height="71" fill="#ff4500" />
<rect x="256" y="92" width="1" height="71" fill="#32cd32" />
<rect x="255" y="120" width="3" height="43" fill="#32cd32" />
<rect x="260" y="154" width="1" height="47" fill="#32cd32" />
<rect x="259" y="162" width="3" height="22" fill="#32cd32" />
<rect x="264" y="178" width="1" height="60" fill="#32cd32" />
<rect x="263" y="184" width="3" height="42" fill="#32cd32" />
<rect x="268" y="179" width="1" height="61" fill="#ff0000" />
<rect x="267" y="202" width="3" height="24" fill="#ff0000" />
<rect x="268" y="203" width="1" height="22" fill="#ff4500" />
<rect x="272" y="199" width="1" height="18" fill="#32cd32" />
<rect x="271" y="202" width="3" height="5" fill="#32cd32" />
<rect x="276" y="176" width="1" height="41" fill="#ff0000" />
<rect x="275" y="203" width="3" height="4" fill="#ff0000" />
<rect x="276" y="204" width="1" height="2" fill="#ff4500" />
<rect x="280" y="195" width="1" height="17" fill="#32cd32" />
<rect x="279" y="203" width="3" height="2" fill="#32cd32" />
<rect x="284" y="187" width="1" height="20" fill="#ff0000" />
<rect x="283" y="188" width="3" height="15" fill="#ff0000" />
<rect x="284" y="189" width="1" height="13" fill="#ff4500" />
<rect x="288" y="184" width="1" height="50" fill="#32cd32" />
<rect x="287" y="188" width="3" height="10" fill="#32cd32" />
<rect x="292" y="165" width="1" height="35" fill="#ff0000" />
<rect x="291" y="184" width="3" height="14" fill="#ff0000" />
<rect x="292" y="185" width="1" height="12" fill="#ff4500" />
<rect x="296" y="184" width="1" height="12" fill="#32cd32" />
<rect x="295" y="184" width="3" height="10" fill="#32cd32" />
<rect x="300" y="177" width="1" height="25" fill="#32cd32" />
<rect x="299" y="179" width="3" height="15" fill="#32cd32" />
<rect x="304" y="176" width="1" height="25" fill="#ff0000" />
<rect x="303" y="181" width="3" height="19" fill="#ff0000" />
<rect x="304" y="182" width="1" height="17" fill="#ff4500" />
<rect x="308" y="153" width="1" height="32" fill="#ff0000" />
<rect x="307" y="159" width="3" height="23" fill="#ff0000" />
<rect x="308" y="160" width="1" height="21" fill="#ff4500" />
<rect x="312" y="112" width="1" height="54" fill="#ff0000" />
<rect x="311" y="114" width="3" height="48" fill="#ff0000" />
<rect x="312" y="115" width="1" height="46" fill="#ff4500" />
<rect x="316" y="109" width="1" height="29" fill="#32cd32" />
<rect x="315" y="115" width="3" height="16" fill="#32cd32" />
<rect x="320" y="123" width="1" height="9" fill="#32cd32" />
<rect x="319" y="130" width="3" height="1" fill="#32cd32" />
<rect x="324" y="54" width="1" height="78" fill="#ff0000" />
<rect x="323" y="72" width="3" height="56" fill="#ff0000" />
<rect x="324" y="73" width="1" height="54" fill="#ff4500" />
<rect x="328" y="54" width="1" height="28" fill="#ff0000" />
<rect x="327" y="71" width="3" height="2" fill="#ff0000" />
<rect x="332" y="64" width="1" height="42" fill="#32cd32" />
<rect x="331" y="70" width="3" height="20" fill="#32cd32" />
<rect x="336" y="47" width="1" height="54" fill="#ff0000" />
<rect x="335" y="71" width="3" height="19" fill="#ff0000" />
<rect x="336" y="72" width="1" height="17" fill="#ff4500" />
<rect x="340" y="65" width="1" height="13" fill="#32cd32" />
<rect x="339" y="71" width="3" height="5" fill="#32cd32" />
<rect x="344" y="66" width="1" height="10" fill="#32cd32" />
<rect x="343" y="68" width="3" height="7" fill="#32cd32" />
<rect x="348" y="54" width="1" height="52" fill="#32cd32" />
<rect x="347" y="74" width="3" height="30" fill="#32cd32" />
<rect x="352" y="88" width="1" height="46" fill="#32cd32" />
<rect x="351" y="103" width="3" height="30" fill="#32cd32" />
<rect x="356" y="109" width="1" height="28" fill="#ff0000" />
<rect x="355" y="121" width="3" height="11" fill="#ff0000" />
<rect x="356" y="122" width="1" height="9" fill="#ff4500" />
<rect x="360" y="92" width="1" height="35" fill="#ff0000" />
<rect x="359" y="97" width="3" height="25" fill="#ff0000" />
<rect x="360" y="98" width="1" height="23" fill="#ff4500" />
<rect x="364" y="78" width="1" height="37" fill="#32cd32" />
<rect x="363" y="97" width="3" height="6" fill="#32cd32" />
<rect x="368" y="95" width="1" height="8" fill="#ff0000" />
<rect x="367" y="98" width="3" height="4" fill="#ff0000" />
<rect x="368" y="99" width="1" height="2" fill="#ff4500" />
<rect x="372" y="86" width="1" height="36" fill="#32cd32" />
<rect x="371" y="96" width="3" height="19" fill="#32cd32" />
<rect x="376" y="104" width="1" height="23" fill="#32cd32" />
<rect x="375" y="114" width="3" height="9" fill="#32cd32" />
<rect x="380" y="118" width="1" height="39" fill="#32cd32" />
<rect x="379" y="122" width="3" height="34" fill="#32cd32" />
<rect x="384" y="125" width="1" height="39" fill="#32cd32" />
<rect x="383" y="155" width="3" height="1" fill="#32cd32" />
<rect x="388" y="140" width="1" height="29" fill="#32cd32" />
<rect x="387" y="156" width="3" height="6" fill="#32cd32" />
<rect x="392" y="155" width="1" height="7" fill="#ff0000" />
<rect x="391" y="157" width="3" height="5" fill="#ff0000" />
<rect x="392" y="158" width="1" height="3" fill="#ff4500" />
<rect x="396" y="144" width="1" height="57" fill="#32cd32" />
<rect x="395" y="154" width="3" height="33" fill="#32cd32" />
<rect x="400" y="184" width="1" height="43" fill="#32cd32" />
<rect x="399" y="186" width="3" height="21" fill="#32cd32" />
<rect x="404" y="199" width="1" height="28" fill="#32cd32" />
<rect x="403" y="206" width="3" height="20" fill="#32cd32" />
<rect x="408" y="218" width="1" height="23" fill="#ff0000" />
<rect x="407" y="222" width="3" height="4" fill="#ff0000" />
<rect x="408" y="223" width="1" height="2" fill="#ff4500" />
<rect x="412" y="206" width="1" height="26" fill="#ff0000" />
<rect x="411" y="222" width="3" height="1" fill="#ff0000" />
<rect x="416" y="219" width="1" height="11" fill="#32cd32" />
<rect x="415" y="222" width="3" height="6" fill="#32cd32" />
<rect x="420" y="219" width="1" height="32" fill="#32cd32" />
<rect x="419" y="225" width="3" height="26" fill="#32cd32" />
<rect x="424" y="231" width="1" height="29" fill="#ff0000" />
<rect x="423" y="244" width="3" height="7" fill="#ff0000" />
<rect x="424" y="245" width="1" height="5" fill="#ff4500" />
<rect x="428" y="228" width="1" height="29" fill="#32cd32" />
<rect x="427" y="244" width="3" height="6" fill="#32cd32" />
<rect x="432" y="250" width="1" height="26" fill="#32cd32" />
<rect x="431" y="252" width="3" height="14" fill="#32cd32" />
<rect x="436" y="253" width="1" height="23" fill="#ff0000" />
<rect x="435" y="261" width="3" height="5" fill="#ff0000" />
<rect x="436" y="262" width="1" height="3" fill="#ff4500" />
<rect x="440" y="253" width="1" height="12" fill="#ff0000" />
<rect x="439" y="254" width="3" height="7" fill="#ff0000" />
<rect x="440" y="255" width="1" height="5" fill="#ff4500" />
<rect x="444" y="236" width="1" height="26" fill="#32cd32" />
<rect x="443" y="254" width="3" height="2" fill="#32cd32" />
<rect x="448" y="222" width="1" height="40" fill="#ff0000" />
<rect x="447" y="229" width="3" height="27" fill="#ff0000" />
<rect x="448" y="230" width="1" height="25" fill="#ff4500" />
<rect x="452" y="218" width="1" height="28" fill="#32cd32" />
<rect x="451" y="229" width="3" height="5" fill="#32cd32" />
<rect x="456" y="224" width="1" height="44" fill="#32cd32" />
<rect x="455" y="233" width="3" height="34" fill="#32cd32" />
<rect x="460" y="264" width="1" height="93" fill="#32cd32" />
<rect x="459" y="266" width="3" height="90" fill="#32cd32" />
<rect x="464" y="342" width="1" height="15" fill="#ff0000" />
<rect x="463" y="353" width="3" height="3" fill="#ff0000" />
<rect x="464" y="354" width="1" height="1" fill="#ff4500" />
<rect x="468" y="333" width="1" height="46" fill="#32cd32" />
<rect x="467" y="358" width="3" height="11" fill="#32cd32" />
<rect x="472" y="328" width="1" height="42" fill="#ff0000" />
<rect x="471" y="334" width="3" height="35" fill="#ff0000" />
<rect x="472" y="335" width="1" height="33" fill="#ff4500" />
<rect x="476" y="279" width="1" height="63" fill="#ff0000" />
<rect x="475" y="281" width="3" height="55" fill="#ff0000" />
<rect x="476" y="282" width="1" height="53" fill="#ff4500" />
<rect x="480" y="275" width="1" height="29" fill="#32cd32" />
<rect x="479" y="279" width="3" height="14" fill="#32cd32" />
<rect x="484" y="292" width="1" height="38" fill="#32cd32" />
<rect x="483" y="292" width="3" height="23" fill="#32cd32" />
<rect x="488" y="312" width="1" height="6" fill="#32cd32" />
<rect x="487" y="314" width="3" height="3" fill="#32cd32" />
<rect x="492" y="297" width="1" height="22" fill="#ff0000" />
<rect x="491" y="308" width="3" height="10" fill="#ff0000" />
<rect x="492" y="309" width="1" height="8" fill="#ff4500" />
<rect x="496" y="306" width="1" height="48" fill="#32cd32" />
<rect x="495" y="307" width="3" height="35" fill="#32cd32" />
<rect x="500" y="316" width="1" height="39" fill="#ff0000" />
<rect x="499" y="334" width="3" height="8" fill="#ff0000" />
<rect x="500" y="335" width="1" height="6" fill="#ff4500" />
<rect x="504" y="311" width="1" height="31" fill="#ff0000" />
<rect x="503" y="326" width="3" height="7" fill="#ff0000" />
<rect x="504" y="327" width="1" height="5" fill="#ff4500" />
<rect x="508" y="314" width="1" height="24" fill="#ff0000" />
<rect x="507" y="314" width="3" height="12" fill="#ff0000" />
<rect x="508" y="315" width="1" height="10" fill="#ff4500" />
<rect x="512" y="311" width="1" height="10" fill="#32cd32" />
<rect x="511" y="313" width="3" height="7" fill="#32cd32" />
<rect x="516" y="312" width="1" height="53" fill="#32cd32" />
<rect x="515" y="322" width="3" height="37" fill="#32cd32" />
<rect x="520" y="358" width="1" height="43" fill="#32cd32" />
<rect x="519" y="358" width="3" height="15" fill="#32cd32" />
<rect x="524" y="363" width="1" height="66" fill="#32cd32" />
<rect x="523" y="372" width="3" height="41" fill="#32cd32" />
<rect x="528" y="400" width="1" height="45" fill="#32cd32" />
<rect x="527" y="414" width="3" height="14" fill="#32cd32" />
<rect x="532" y="420" width="1" height="41" fill="#32cd32" />
<rect x="531" y="428" width="3" height="22" fill="#32cd32" />
<rect x="536" y="448" width="1" height="12" fill="#32cd32" />
<rect x="535" y="449" width="3" height="10" fill="#32cd32" />
<rect x="540" y="432" width="1" height="42" fill="#32cd32" />
<rect x="539" y="439" width="3" height="1" fill="#32cd32" />
<rect x="544" y="412" width="1" height="46" fill="#ff0000" />
<rect x="543" y="418" width="3" height="22" fill="#ff0000" />
<rect x="544" y="419" width="1" height="20" fill="#ff4500" />
<rect x="548" y="403" width="1" height="26" fill="#32cd32" />
<rect x="547" y="418" width="3" height="7" fill="#32cd32" />
<rect x="552" y="386" width="1" height="41" fill="#ff0000" />
<rect x="551" y="387" width="3" height="39" fill="#ff0000" />
<rect x="552" y="388" width="1" height="37" fill="#ff4500" />
<rect x="556" y="367" width="1" height="47" fill="#32cd32" />
<rect x="555" y="388" width="3" height="19" fill="#32cd32" />
<rect x="560" y="396" width="1" height="12" fill="#ff0000" />
<rect x="559" y="404" width="3" height="3" fill="#ff0000" />
<rect x="560" y="405" width="1" height="1" fill="#ff4500" />
<rect x="564" y="387" width="1" height="22" fill="#32cd32" />
<rect x="563" y="400" width="3" height="4" fill="#32cd32" />
<rect x="568" y="384" width="1" height="31" fill="#ff0000" />
<rect x="567" y="387" width="3" height="17" fill="#ff0000" />
<rect x="568" y="388" width="1" height="15" fill="#ff4500" />
<rect x="572" y="381" width="1" height="38" fill="#32cd32" />
<rect x="571" y="387" width="3" height="22" fill="#32cd32" />
<rect x="576" y="397" width="1" height="29" fill="#ff0000" />
<rect x="575" y="406" width="3" height="3" fill="#ff0000" />
<rect x="576" y="407" width="1" height="1" fill="#ff4500" />
<rect x="580" y="386" width="1" height="29" fill="#ff0000" />
<rect x="579" y="388" width="3" height="19" fill="#ff0000" />
<rect x="580" y="389" width="1" height="17" fill="#ff4500" />
<rect x="584" y="387" width="1" height="10" fill="#32cd32" />
<rect x="583" y="388" width="3" height="8" fill="#32cd32" />
<rect x="588" y="351" width="1" height="44" fill="#ff0000" />
<rect x="587" y="373" width="3" height="21" fill="#ff0000" />
<rect x="588" y="374" width="1" height="19" fill="#ff4500" />
<rect x="592" y="367" width="1" height="19" fill="#ff0000" />
<rect x="591" y="369" width="3" height="4" fill="#ff0000" />
<rect x="592" y="370" width="1" height="2" fill="#ff4500" />
<rect x="596" y="368" width="1" height="31" fill="#32cd32" />
<rect x="595" y="368" width="3" height="29" fill="#32cd32" />
<rect x="600" y="280" width="1" height="126" fill="#ff0000" />
<rect x="599" y="282" width="3" height="116" fill="#ff0000" />
<rect x="600" y="283" width="1" height="114" fill="#ff4500" />
<rect x="604" y="268" width="1" height="44" fill="#ff0000" />
<rect x="603" y="280" width="3" height="3" fill="#ff0000" />
<rect x="604" y="281" width="1" height="1" fill="#ff4500" />
<rect x="608" y="277" width="1" height="11" fill="#32cd32" />
<rect x="607" y="280" width="3" height="2" fill="#32cd32" />
<rect x="612" y="242" width="1" height="51" fill="#ff0000" />
<rect x="611" y="254" width="3" height="28" fill="#ff0000" />
<rect x="612" y="255" width="1" height="26" fill="#ff4500" />
<rect x="616" y="229" width="1" height="43" fill="#ff0000" />
<rect x="615" y="231" width="3" height="24" fill="#ff0000" />
<rect x="616" y="232" width="1" height="22" fill="#ff4500" />
<rect x="620" y="220" width="1" height="38" fill="#32cd32" />
<rect x="619" y="232" width="3" height="19" fill="#32cd32" />
<rect x="624" y="243" width="1" height="31" fill="#32cd32" />
<rect x="623" y="251" width="3" height="2" fill="#32cd32" />
<rect x="628" y="252" width="1" height="40" fill="#32cd32" />
<rect x="627" y="252" width="3" height="25" fill="#32cd32" />
<rect x="632" y="272" width="1" height="8" fill="#ff0000" />
<rect x="631" y="275" width="3" height="2" fill="#ff0000" />
<rect x="636" y="261" width="1" height="22" fill="#32cd32" />
<rect x="635" y="281" width="3" height="2" fill="#32cd32" />
<rect x="640" y="256" width="1" height="29" fill="#ff0000" />
<rect x="639" y="267" width="3" height="15" fill="#ff0000" />
<rect x="640" y="268" width="1" height="13" fill="#ff4500" />
<rect x="644" y="262" width="1" height="20" fill="#ff0000" />
<rect x="643" y="267" width="3" height="1" fill="#ff0000" />
<rect x="648" y="250" width="1" height="24" fill="#ff0000" />
<rect x="647" y="254" width="3" height="14" fill="#ff0000" />
<rect x="648" y="255" width="1" height="12" fill="#ff4500" />
<rect x="652" y="222" width="1" height="38" fill="#ff0000" />
<rect x="651" y="248" width="3" height="7" fill="#ff0000" />
<rect x="652" y="249" width="1" height="5" fill="#ff4500" />
<rect x="656" y="244" width="1" height="18" fill="#32cd32" />
<rect x="655" y="248" width="3" height="9" fill="#32cd32" />
<rect x="660" y="250" width="1" height="30" fill="#32cd32" />
<rect x="659" y="257" width="3" height="16" fill="#32cd32" />
<rect x="664" y="233" width="1" height="49" fill="#ff0000" />
<rect x="663" y="238" width="3" height="35" fill="#ff0000" />
<rect x="664" y="239" width="1" height="33" fill="#ff4500" />
<rect x="668" y="231" width="1" height="39" fill="#32cd32" />
<rect x="667" y="237" width="3" height="17" fill="#32cd32" />
<rect x="672" y="205" width="1" height="56" fill="#ff0000" />
<rect x="671" y="211" width="3" height="43" fill="#ff0000" />
<rect x="672" y="212" width="1" height="41" fill="#ff4500" />
<rect x="676" y="205" width="1" height="35" fill="#32cd32" />
<rect x="675" y="211" width="3" height="21" fill="#32cd32" />
<rect x="680" y="228" width="1" height="12" fill="#32cd32" />
<rect x="679" y="231" width="3" height="8" fill="#32cd32" />
<rect x="684" y="235" width="1" height="19" fill="#32cd32" />
<rect x="683" y="244" width="3" height="4" fill="#32cd32" />
<rect x="688" y="238" width="1" height="29" fill="#32cd32" />
<rect x="687" y="247" width="3" height="17" fill="#32cd32" />
<rect x="692" y="233" width="1" height="63" fill="#32cd32" />
<rect x="691" y="263" width="3" height="9" fill="#32cd32" />
<rect x="696" y="257" width="1" height="28" fill="#32cd32" />
<rect x="695" y="271" width="3" height="4" fill="#32cd32" />
<rect x="700" y="236" width="1" height="40" fill="#ff0000" />
<rect x="699" y="238" width="3" height="37" fill="#ff0000" />
<rect x="700" y="239" width="1" height="35" fill="#ff4500" />
<rect x="704" y="238" width="1" height="18" fill="#32cd32" />
<rect x="703" y="239" width="3" height="14" fill="#32cd32" />
<rect x="708" y="213" width="1" height="31" fill="#ff0000" />
<rect x="707" y="223" width="3" height="19" fill="#ff0000" />
<rect x="708" y="224" width="1" height="17" fill="#ff4500" />
<rect x="712" y="208" width="1" height="26" fill="#32cd32" />
<rect x="711" y="223" width="3" height="8" fill="#32cd32" />
<rect x="716" y="223" width="1" height="50" fill="#32cd32" />
<rect x="715" y="230" width="3" height="40" fill="#32cd32" />
<rect x="720" y="247" width="1" height="31" fill="#ff0000" />
<rect x="719" y="248" width="3" height="22" fill="#ff0000" />
<rect x="720" y="249" width="1" height="20" fill="#ff4500" />
<rect x="724" y="229" width="1" height="33" fill="#ff0000" />
<rect x="723" y="236" width="3" height="12" fill="#ff0000" />
<rect x="724" y="237" width="1" height="10" fill="#ff4500" />
<rect x="728" y="236" width="1" height="16" fill="#32cd32" />
<rect x="727" y="236" width="3" height="15" fill="#32cd32" />
<rect x="732" y="215" width="1" height="36" fill="#ff0000" />
<rect x="731" y="238" width="3" height="12" fill="#ff0000" />
<rect x="732" y="239" width="1" height="10" fill="#ff4500" />
<rect x="736" y="158" width="1" height="82" fill="#ff0000" />
<rect x="735" y="162" width="3" height="77" fill="#ff0000" />
<rect x="736" y="163" width="1" height="75" fill="#ff4500" />
<rect x="740" y="152" width="1" height="61" fill="#32cd32" />
<rect x="739" y="163" width="3" height="38" fill="#32cd32" />
<rect x="744" y="186" width="1" height="100" fill="#32cd32" />
<rect x="743" y="201" width="3" height="79" fill="#32cd32" />
<rect x="748" y="254" width="1" height="41" fill="#ff0000" />
<rect x="747" y="271" width="3" height="10" fill="#ff0000" />
<rect x="748" y="272" width="1" height="8" fill="#ff4500" />
<rect x="752" y="263" width="1" height="15" fill="#ff0000" />
<rect x="751" y="267" width="3" height="5" fill="#ff0000" />
<rect x="752" y="268" width="1" height="3" fill="#ff4500" />
<rect x="756" y="255" width="1" height="25" fill="#32cd32" />
<rect x="755" y="267" width="3" height="3" fill="#32cd32" />
<rect x="760" y="261" width="1" height="17" fill="#ff0000" />
<rect x="759" y="266" width="3" height="4" fill="#ff0000" />
<rect x="760" y="267" width="1" height="2" fill="#ff4500" />
<rect x="764" y="262" width="1" height="29" fill="#32cd32" />
<rect x="763" y="266" width="3" height="10" fill="#32cd32" />
<rect x="768" y="267" width="1" height="22" fill="#32cd32" />
<rect x="767" y="274" width="3" height="9" fill="#32cd32" />
<rect x="772" y="234" width="1" height="51" fill="#ff0000" />
<rect x="771" y="240" width="3" height="43" fill="#ff0000" />
<rect x="772" y="241" width="1" height="41" fill="#ff4500" />
<rect x="776" y="237" width="1" height="10" fill="#32cd32" />
<rect x="775" y="240" width="3" height="6" fill="#32cd32" />
<rect x="780" y="227" width="1" height="26" fill="#ff0000" />
<rect x="779" y="233" width="3" height="5" fill="#ff0000" />
<rect x="780" y="234" width="1" height="3" fill="#ff4500" />
<rect x="784" y="224" width="1" height="20" fill="#ff0000" />
<rect x="783" y="229" width="3" height="4" fill="#ff0000" />
<rect x="784" y="230" width="1" height="2" fill="#ff4500" />
<rect x="788" y="218" width="1" height="35" fill="#32cd32" />
<rect x="787" y="229" width="3" height="19" fill="#32cd32" />
<rect x="792" y="238" width="1" height="18" fill="#32cd32" />
<rect x="791" y="247" width="3" height="1" fill="#32cd32" />
<rect x="796" y="232" width="1" height="18" fill="#ff0000" />
<rect x="795" y="245" width="3" height="3" fill="#ff0000" />
<rect x="796" y="246" width="1" height="1" fill="#ff4500" />
<rect x="800" y="244" width="1" height="7" fill="#32cd32" />
<rect x="799" y="245" width="3" height="5" fill="#32cd32" />
<rect x="804" y="239" width="1" height="14" fill="#32cd32" />
<rect x="803" y="241" width="3" height="9" fill="#32cd32" />
<rect x="808" y="214" width="1" height="41" fill="#ff0000" />
<rect x="807" y="214" width="3" height="36" fill="#ff0000" />
<rect x="808" y="215" width="1" height="34" fill="#ff4500" />
<rect x="812" y="210" width="1" height="32" fill="#32cd32" />
<rect x="811" y="214" width="3" height="18" fill="#32cd32" />
<rect x="816" y="198" width="1" height="46" fill="#ff0000" />
<rect x="815" y="210" width="3" height="22" fill="#ff0000" />
<rect x="816" y="211" width="1" height="20" fill="#ff4500" />
<rect x="820" y="187" width="1" height="25" fill="#ff0000" />
<rect x="819" y="197" width="3" height="14" fill="#ff0000" />
<rect x="820" y="198" width="1" height="12" fill="#ff4500" />
<rect x="824" y="197" width="1" height="11" fill="#32cd32" />
<rect x="823" y="197" width="3" height="11" fill="#32cd32" />
<rect x="828" y="203" width="1" height="36" fill="#32cd32" />
<rect x="827" y="203" width="3" height="35" fill="#32cd32" />
<rect x="832" y="231" width="1" height="38" fill="#32cd32" />
<rect x="831" y="238" width="3" height="21" fill="#32cd32" />
<rect x="836" y="243" width="1" height="22" fill="#ff0000" />
<rect x="835" y="244" width="3" height="15" fill="#ff0000" />
<rect x="836" y="245" width="1" height="13" fill="#ff4500" />
<rect x="840" y="233" width="1" height="32" fill="#ff0000" />
<rect x="839" y="242" width="3" height="17" fill="#ff0000" />
<rect x="840" y="243" width="1" height="15" fill="#ff4500" />
<rect x="844" y="229" width="1" height="45" fill="#32cd32" />
<rect x="843" y="242" width="3" height="31" fill="#32cd32" />
<rect x="848" y="269" width="1" height="11" fill="#32cd32" />
<rect x="847" y="272" width="3" height="3" fill="#32cd32" />
<rect x="852" y="262" width="1" height="13" fill="#ff0000" />
<rect x="851" y="271" width="3" height="3" fill="#ff0000" />
<rect x="852" y="272" width="1" height="1" fill="#ff4500" />
<rect x="856" y="256" width="1" height="41" fill="#32cd32" />
<rect x="855" y="270" width="3" height="18" fill="#32cd32" />
<rect x="860" y="270" width="1" height="30" fill="#32cd32" />
<rect x="859" y="286" width="3" height="13" fill="#32cd32" />
<rect x="864" y="279" width="1" height="23" fill="#ff0000" />
<rect x="863" y="297" width="3" height="2" fill="#ff0000" />
<rect x="868" y="283" width="1" height="60" fill="#32cd32" />
<rect x="867" y="298" width="3" height="21" fill="#32cd32" />
<rect x="872" y="316" width="1" height="11" fill="#ff0000" />
<rect x="871" y="318" width="3" height="1" fill="#ff0000" />
<rect x="876" y="286" width="1" height="32" fill="#ff0000" />
<rect x="875" y="294" width="3" height="24" fill="#ff0000" />
<rect x="876" y="295" width="1" height="22" fill="#ff4500" />
<rect x="880" y="269" width="1" height="33" fill="#ff0000" />
<rect x="879" y="279" width="3" height="15" fill="#ff0000" />
<rect x="880" y="280" width="1" height="13" fill="#ff4500" />
<rect x="884" y="272" width="1" height="16" fill="#32cd32" />
<rect x="883" y="279" width="3" height="1" fill="#32cd32" />
<rect x="888" y="273" width="1" height="28" fill="#32cd32" />
<rect x="887" y="279" width="3" height="18" fill="#32cd32" />
<rect x="892" y="287" width="1" height="53" fill="#32cd32" />
<rect x="891" y="297" width="3" height="18" fill="#32cd32" />
<rect x="896" y="309" width="1" height="10" fill="#ff0000" />
<rect x="895" y="311" width="3" height="4" fill="#ff0000" />
<rect x="896" y="312" width="1" height="2" fill="#ff4500" />
<rect x="900" y="289" width="1" height="25" fill="#ff0000" />
<rect x="899" y="310" width="3" height="4" fill="#ff0000" />
<rect x="900" y="311" width="1" height="2" fill="#ff4500" />
<rect x="904" y="302" width="1" height="32" fill="#32cd32" />
<rect x="903" y="310" width="3" height="18" fill="#32cd32" />
<rect x="908" y="308" width="1" height="32" fill="#32cd32" />
<rect x="907" y="327" width="3" height="11" fill="#32cd32" />
<rect x="912" y="288" width="1" height="55" fill="#ff0000" />
<rect x="911" y="292" width="3" height="45" fill="#ff0000" />
<rect x="912" y="293" width="1" height="43" fill="#ff4500" />
<rect x="916" y="258" width="1" height="48" fill="#ff0000" />
<rect x="915" y="263" width="3" height="30" fill="#ff0000" />
<rect x="916" y="264" width="1" height="28" fill="#ff4500" />
<rect x="920" y="256" width="1" height="10" fill="#ff0000" />
<rect x="919" y="260" width="3" height="4" fill="#ff0000" />
<rect x="920" y="261" width="1" height="2" fill="#ff4500" />
<rect x="924" y="242" width="1" height="18" fill="#ff0000" />
<rect x="923" y="243" width="3" height="11" fill="#ff0000" />
<rect x="924" y="244" width="1" height="9" fill="#ff4500" />
</g>
<rect x="3.5" y="24.5" width="1163" height="460" fill="none" stroke="#000" stroke-width="1"/>
<rect x="1166" y="49" width="1" height="2" fill="#ff0000" />
<rect x="1166" y="174" width="1" height="2" fill="#ff0000" />
<rect x="1166" y="292" width="1" height="2" fill="#00ff00" />
<rect x="1166" y="383" width="1" height="2" fill="#0000ff" />
<rect x="1166" y="474" width="1" height="2" fill="#0000ff" />
<rect x="1167" y="52" width="2" height="1" fill="#000" />
<text x="1172" y="56" font-size="10" fill="#000" textLength="32.5" lengthAdjust="spacingAndGlyphs" stroke="#000" stroke-width="0.15" >6.58350</text>
<rect x="1167" y="85" width="2" height="1" fill="#000" />
<text x="1172" y="89" font-size="10" fill="#000" textLength="32.5" lengthAdjust="spacingAndGlyphs" stroke="#000" stroke-width="0.15" >6.56550</text>
<rect x="1167" y="118" width="2" height="1" fill="#000" />
<text x="1172" y="122" font-size="10" fill="#000" textLength="32.5" lengthAdjust="spacingAndGlyphs" stroke="#000" stroke-width="0.15" >6.54750</text>
<rect x="1167" y="151" width="2" height="1" fill="#000" />
<text x="1172" y="155" font-size="10" fill="#000" textLength="32.5" lengthAdjust="spacingAndGlyphs" stroke="#000" stroke-width="0.15" >6.52900</text>
<rect x="1167" y="184" width="2" height="1" fill="#000" />
<text x="1172" y="188" font-size="10" fill="#000" textLength="32.5" lengthAdjust="spacingAndGlyphs" stroke="#000" stroke-width="0.15" >6.51100</text>
<rect x="1167" y="217" width="2" height="1" fill="#000" />
<text x="1172" y="221" font-size="10" fill="#000" textLength="32.5" lengthAdjust="spacingAndGlyphs" stroke="#000" stroke-width="0.15" >6.49250</text>
<rect x="1167" y="250" width="2" height="1" fill="#000" />
<text x="1172" y="254" font-size="10" fill="#000" textLength="32.5" lengthAdjust="spacingAndGlyphs" stroke="#000" stroke-width="0.15" >6.47450</text>
<rect x="1167" y="283" width="2" height="1" fill="#000" />
<text x="1172" y="287" font-size="10" fill="#000" textLength="32.5" lengthAdjust="spacingAndGlyphs" stroke="#000" stroke-width="0.15" >6.45600</text>
<rect x="1167" y="316" width="2" height="1" fill="#000" />
<text x="1172" y="320" font-size="10" fill="#000" textLength="32.5" lengthAdjust="spacingAndGlyphs" stroke="#000" stroke-width="0.15" >6.43800</text>
<rect x="1167" y="349" width="2" height="1" fill="#000" />
<text x="1172" y="353" font-size="10" fill="#000" textLength="32.5" lengthAdjust="spacingAndGlyphs" stroke="#000" stroke-width="0.15" >6.41950</text>
<rect x="1167" y="382" width="2" height="1" fill="#000" />
<text x="1172" y="386" font-size="10" fill="#000" textLength="32.5" lengthAdjust="spacingAndGlyphs" stroke="#000" stroke-width="0.15" >6.40150</text>
<rect x="1167" y="415" width="2" height="1" fill="#000" />
<text x="1172" y="419" font-size="10" fill="#000" textLength="32.5" lengthAdjust="spacingAndGlyphs" stroke="#000" stroke-width="0.15" >6.38350</text>
<rect x="1167" y="448" width="2" height="1" fill="#000" />
<text x="1172" y="452" font-size="10" fill="#000" textLength="32.5" lengthAdjust="spacingAndGlyphs" stroke="#000" stroke-width="0.15" >6.36500</text>
<rect x="1167" y="481" width="2" height="1" fill="#000" />
<text x="1172" y="485" font-size="10" fill="#000" textLength="32.5" lengthAdjust="spacingAndGlyphs" stroke="#000" stroke-width="0.15" >6.34700</text>
<rect x="1168" y="44" width="38" height="11" fill="#ff0000" />
<text x="1172" y="53" font-size="10" fill="#fff" textLength="32.5" lengthAdjust="spacingAndGlyphs" stroke="#fff" stroke-width="0.15" >6.58514</text>
<rect x="1168" y="169" width="38" height="11" fill="#ff0000" />
<text x="1172" y="178" font-size="10" fill="#fff" textLength="32.5" lengthAdjust="spacingAndGlyphs" stroke="#fff" stroke-width="0.15" >6.51605</text>
<rect x="1168" y="238" width="38" height="11" fill="#000000" />
<text x="1172" y="247" font-size="10" fill="#fff" textLength="32.5" lengthAdjust="spacingAndGlyphs" stroke="#fff" stroke-width="0.15" >6.47827</text>
<rect x="1168" y="287" width="38" height="11" fill="#00ff00" />
<text x="1172" y="296" font-size="10" fill="#fff" textLength="32.5" lengthAdjust="spacingAndGlyphs" stroke="#fff" stroke-width="0.15" >6.45060</text>
<rect x="1168" y="378" width="38" height="11" fill="#0000ff" />
<text x="1172" y="387" font-size="10" fill="#fff" textLength="32.5" lengthAdjust="spacingAndGlyphs" stroke="#fff" stroke-width="0.15" >6.40042</text>
<rect x="1168" y="469" width="38" height="11" fill="#0000ff" />
<text x="1172" y="478" font-size="10" fill="#fff" textLength="32.5" lengthAdjust="spacingAndGlyphs" stroke="#fff" stroke-width="0.15" >6.35025</text>
<path d="M7,35 L14,35 L10.5,31 Z" fill="#000"/>
<text x="19" y="35.5" font-size="10" fill="#000" textLength="65" lengthAdjust="spacingAndGlyphs" stroke="#000" stroke-width="0.15" >USDCNH,Daily</text>
<text x="90.8" y="35.5" font-size="10" fill="#000" textLength="32.8" lengthAdjust="spacingAndGlyphs" stroke="#000" stroke-width="0.15" >6.47284</text>
<text x="127" y="35.5" font-size="10" fill="#000" textLength="32.19999999999999" lengthAdjust="spacingAndGlyphs" stroke="#000" stroke-width="0.15" >6.47869</text>
<text x="163" y="35.5" font-size="10" fill="#000" textLength="32.30000000000001" lengthAdjust="spacingAndGlyphs" stroke="#000" stroke-width="0.15" >6.46970</text>
<text x="198.5" y="35.5" font-size="10" fill="#000" textLength="32.80000000000001" lengthAdjust="spacingAndGlyphs" stroke="#000" stroke-width="0.15" >6.47827</text>
<defs>
<linearGradient id="gtop" x1="0" y1="0" x2="0" y2="1"><stop offset="0" stop-color="#f65a5a"/><stop offset="1" stop-color="#e03434"/></linearGradient>
<linearGradient id="gbot" x1="0" y1="0" x2="0" y2="1"><stop offset="0" stop-color="#d82828"/><stop offset="1" stop-color="#b00404"/></linearGradient>
<linearGradient id="gbtn" x1="0" y1="0" x2="0" y2="1"><stop offset="0" stop-color="#f4f4f4"/><stop offset="1" stop-color="#d4d4d4"/></linearGradient>
</defs>
<rect x="5" y="42" width="222" height="60" fill="#ffffff" />
<rect x="4" y="49" width="1" height="1" fill="#ffffff" />
<path d="M7.5,44.5 H58.5 V67.5 H115.5 V100.5 H7.5 Z" fill="url(#gbot)" stroke="#b40000"/>
<rect x="8" y="45" width="50" height="22" fill="url(#gtop)"/>
<rect x="11" y="67" width="44" height="1" fill="#7a0000" />
<rect x="11" y="68" width="44" height="1" fill="#f07070" />
<path d="M118.5,67.5 H174.5 V44.5 H225.5 V100.5 H118.5 Z" fill="url(#gbot)" stroke="#b40000"/>
<rect x="175" y="45" width="50" height="22" fill="url(#gtop)"/>
<rect x="178" y="67" width="44" height="1" fill="#7a0000" />
<rect x="178" y="68" width="44" height="1" fill="#f07070" />
<rect x="61.5" y="44.5" width="110" height="21" fill="#fff" stroke="#a8a8a8"/>
<rect x="62.5" y="45.5" width="19" height="19" fill="url(#gbtn)" stroke="#c8c8c8"/>
<rect x="151.5" y="45.5" width="19" height="19" fill="url(#gbtn)" stroke="#c8c8c8"/>
<path d="M68.5,53 L75.5,53 L72,57 Z" fill="#5070c0"/>
<path d="M157.5,57 L164.5,57 L161,53 Z" fill="#5070c0"/>
<text x="123" y="58.5" font-size="12" fill="#000" textLength="23.5" lengthAdjust="spacingAndGlyphs" >3.00</text>
<text x="19.5" y="60" font-size="12" fill="#fff0f0" textLength="25" lengthAdjust="spacingAndGlyphs" >SELL</text>
<text x="187.5" y="60" font-size="12" fill="#fff0f0" textLength="23" lengthAdjust="spacingAndGlyphs" >BUY</text>
<text x="27" y="95.6" font-size="12.5" fill="#fff" textLength="23" lengthAdjust="spacingAndGlyphs" font-weight="bold" >6.47</text>
<text x="54.5" y="95.6" font-size="35" fill="#fff" textLength="34" lengthAdjust="spacingAndGlyphs" >83</text>
<text x="94" y="79.5" font-size="10" fill="#fff" textLength="6.5" lengthAdjust="spacingAndGlyphs" font-weight="bold" >0</text>
<text x="137" y="95.6" font-size="12.5" fill="#fff" textLength="23.5" lengthAdjust="spacingAndGlyphs" font-weight="bold" >6.48</text>
<text x="165.5" y="95.6" font-size="35" fill="#fff" textLength="34" lengthAdjust="spacingAndGlyphs" >03</text>
<text x="205" y="79.5" font-size="10" fill="#fff" textLength="6.5" lengthAdjust="spacingAndGlyphs" font-weight="bold" >2</text>
<g clip-path="url(#cmacd)">
<rect x="3" y="525" width="3" height="22" fill="#c0c0c0" />
<rect x="7" y="525" width="3" height="22" fill="#c0c0c0" />
<rect x="11" y="525" width="3" height="19" fill="#c0c0c0" />
<rect x="15" y="525" width="3" height="19" fill="#c0c0c0" />
<rect x="19" y="525" width="3" height="20" fill="#c0c0c0" />
<rect x="23" y="525" width="3" height="22" fill="#c0c0c0" />
<rect x="27" y="525" width="3" height="23" fill="#c0c0c0" />
<rect x="31" y="525" width="3" height="23" fill="#c0c0c0" />
<rect x="35" y="525" width="3" height="28" fill="#c0c0c0" />
<rect x="39" y="525" width="3" height="34" fill="#c0c0c0" />
<rect x="43" y="525" width="3" height="37" fill="#c0c0c0" />
<rect x="47" y="525" width="3" height="36" fill="#c0c0c0" />
<rect x="51" y="525" width="3" height="37" fill="#c0c0c0" />
<rect x="55" y="525" width="3" height="36" fill="#c0c0c0" />
<rect x="59" y="525" width="3" height="33" fill="#c0c0c0" />
<rect x="63" y="525" width="3" height="33" fill="#c0c0c0" />
<rect x="67" y="525" width="3" height="32" fill="#c0c0c0" />
<rect x="71" y="525" width="3" height="30" fill="#c0c0c0" />
<rect x="75" y="525" width="3" height="27" fill="#c0c0c0" />
<rect x="79" y="525" width="3" height="24" fill="#c0c0c0" />
<rect x="83" y="525" width="3" height="20" fill="#c0c0c0" />
<rect x="87" y="525" width="3" height="19" fill="#c0c0c0" />
<rect x="91" y="525" width="3" height="19" fill="#c0c0c0" />
<rect x="95" y="525" width="3" height="19" fill="#c0c0c0" />
<rect x="99" y="525" width="3" height="15" fill="#c0c0c0" />
<rect x="103" y="525" width="3" height="12" fill="#c0c0c0" />
<rect x="107" y="525" width="3" height="10" fill="#c0c0c0" />
<rect x="111" y="525" width="3" height="11" fill="#c0c0c0" />
<rect x="115" y="525" width="3" height="8" fill="#c0c0c0" />
<rect x="119" y="525" width="3" height="9" fill="#c0c0c0" />
<rect x="123" y="525" width="3" height="13" fill="#c0c0c0" />
<rect x="127" y="525" width="3" height="15" fill="#c0c0c0" />
<rect x="131" y="525" width="3" height="13" fill="#c0c0c0" />
<rect x="135" y="525" width="3" height="13" fill="#c0c0c0" />
<rect x="139" y="525" width="3" height="13" fill="#c0c0c0" />
<rect x="143" y="525" width="3" height="12" fill="#c0c0c0" />
<rect x="147" y="525" width="3" height="12" fill="#c0c0c0" />
<rect x="151" y="525" width="3" height="12" fill="#c0c0c0" />
<rect x="155" y="525" width="3" height="15" fill="#c0c0c0" />
<rect x="159" y="525" width="3" height="19" fill="#c0c0c0" />
<rect x="163" y="525" width="3" height="21" fill="#c0c0c0" />
<rect x="167" y="525" width="3" height="23" fill="#c0c0c0" />
<rect x="171" y="525" width="3" height="25" fill="#c0c0c0" />
<rect x="175" y="525" width="3" height="26" fill="#c0c0c0" />
<rect x="179" y="525" width="3" height="28" fill="#c0c0c0" />
<rect x="183" y="525" width="3" height="27" fill="#c0c0c0" />
<rect x="187" y="525" width="3" height="24" fill="#c0c0c0" />
<rect x="191" y="525" width="3" height="18" fill="#c0c0c0" />
<rect x="195" y="525" width="3" height="15" fill="#c0c0c0" />
<rect x="199" y="525" width="3" height="11" fill="#c0c0c0" />
<rect x="203" y="525" width="3" height="7" fill="#c0c0c0" />
<rect x="207" y="525" width="3" height="6" fill="#c0c0c0" />
<rect x="211" y="525" width="3" height="5" fill="#c0c0c0" />
<rect x="215" y="525" width="3" height="4" fill="#c0c0c0" />
<rect x="219" y="525" width="3" height="1" fill="#c0c0c0" />
<rect x="223" y="521" width="3" height="4" fill="#c0c0c0" />
<rect x="227" y="521" width="3" height="4" fill="#c0c0c0" />
<rect x="231" y="519" width="3" height="6" fill="#c0c0c0" />
<rect x="235" y="519" width="3" height="6" fill="#c0c0c0" />
<rect x="239" y="519" width="3" height="6" fill="#c0c0c0" />
<rect x="243" y="513" width="3" height="12" fill="#c0c0c0" />
<rect x="247" y="509" width="3" height="16" fill="#c0c0c0" />
<rect x="251" y="502" width="3" height="23" fill="#c0c0c0" />
<rect x="255" y="500" width="3" height="25" fill="#c0c0c0" />
<rect x="259" y="500" width="3" height="25" fill="#c0c0c0" />
<rect x="263" y="503" width="3" height="22" fill="#c0c0c0" />
<rect x="267" y="504" width="3" height="21" fill="#c0c0c0" />
<rect x="271" y="505" width="3" height="20" fill="#c0c0c0" />
<rect x="275" y="506" width="3" height="19" fill="#c0c0c0" />
<rect x="279" y="507" width="3" height="18" fill="#c0c0c0" />
<rect x="283" y="507" width="3" height="18" fill="#c0c0c0" />
<rect x="287" y="508" width="3" height="17" fill="#c0c0c0" />
<rect x="291" y="508" width="3" height="17" fill="#c0c0c0" />
<rect x="295" y="509" width="3" height="16" fill="#c0c0c0" />
<rect x="299" y="510" width="3" height="15" fill="#c0c0c0" />
<rect x="303" y="510" width="3" height="15" fill="#c0c0c0" />
<rect x="307" y="508" width="3" height="17" fill="#c0c0c0" />
<rect x="311" y="505" width="3" height="20" fill="#c0c0c0" />
<rect x="315" y="503" width="3" height="22" fill="#c0c0c0" />
<rect x="319" y="502" width="3" height="23" fill="#c0c0c0" />
<rect x="323" y="497" width="3" height="28" fill="#c0c0c0" />
<rect x="327" y="494" width="3" height="31" fill="#c0c0c0" />
<rect x="331" y="493" width="3" height="32" fill="#c0c0c0" />
<rect x="335" y="492" width="3" height="33" fill="#c0c0c0" />
<rect x="339" y="491" width="3" height="34" fill="#c0c0c0" />
<rect x="343" y="491" width="3" height="34" fill="#c0c0c0" />
<rect x="347" y="493" width="3" height="32" fill="#c0c0c0" />
<rect x="351" y="497" width="3" height="28" fill="#c0c0c0" />
<rect x="355" y="500" width="3" height="25" fill="#c0c0c0" />
<rect x="359" y="501" width="3" height="24" fill="#c0c0c0" />
<rect x="363" y="502" width="3" height="23" fill="#c0c0c0" />
<rect x="367" y="503" width="3" height="22" fill="#c0c0c0" />
<rect x="371" y="505" width="3" height="20" fill="#c0c0c0" />
<rect x="375" y="507" width="3" height="18" fill="#c0c0c0" />
<rect x="379" y="512" width="3" height="13" fill="#c0c0c0" />
<rect x="383" y="515" width="3" height="10" fill="#c0c0c0" />
<rect x="387" y="518" width="3" height="7" fill="#c0c0c0" />
<rect x="391" y="521" width="3" height="4" fill="#c0c0c0" />
<rect x="395" y="524" width="3" height="1" fill="#c0c0c0" />
<rect x="399" y="525" width="3" height="5" fill="#c0c0c0" />
<rect x="403" y="525" width="3" height="9" fill="#c0c0c0" />
<rect x="407" y="525" width="3" height="12" fill="#c0c0c0" />
<rect x="411" y="525" width="3" height="15" fill="#c0c0c0" />
<rect x="415" y="525" width="3" height="17" fill="#c0c0c0" />
<rect x="419" y="525" width="3" height="20" fill="#c0c0c0" />
<rect x="423" y="525" width="3" height="22" fill="#c0c0c0" />
<rect x="427" y="525" width="3" height="23" fill="#c0c0c0" />
<rect x="431" y="525" width="3" height="25" fill="#c0c0c0" />
<rect x="435" y="525" width="3" height="26" fill="#c0c0c0" />
<rect x="439" y="525" width="3" height="26" fill="#c0c0c0" />
<rect x="443" y="525" width="3" height="26" fill="#c0c0c0" />
<rect x="447" y="525" width="3" height="23" fill="#c0c0c0" />
<rect x="451" y="525" width="3" height="22" fill="#c0c0c0" />
<rect x="455" y="525" width="3" height="22" fill="#c0c0c0" />
<rect x="459" y="525" width="3" height="28" fill="#c0c0c0" />
<rect x="463" y="525" width="3" height="33" fill="#c0c0c0" />
<rect x="467" y="525" width="3" height="37" fill="#c0c0c0" />
<rect x="471" y="525" width="3" height="37" fill="#c0c0c0" />
<rect x="475" y="525" width="3" height="34" fill="#c0c0c0" />
<rect x="479" y="525" width="3" height="31" fill="#c0c0c0" />
<rect x="483" y="525" width="3" height="31" fill="#c0c0c0" />
<rect x="487" y="525" width="3" height="30" fill="#c0c0c0" />
<rect x="491" y="525" width="3" height="28" fill="#c0c0c0" />
<rect x="495" y="525" width="3" height="29" fill="#c0c0c0" />
<rect x="499" y="525" width="3" height="29" fill="#c0c0c0" />
<rect x="503" y="525" width="3" height="28" fill="#c0c0c0" />
<rect x="507" y="525" width="3" height="26" fill="#c0c0c0" />
<rect x="511" y="525" width="3" height="24" fill="#c0c0c0" />
<rect x="515" y="525" width="3" height="25" fill="#c0c0c0" />
<rect x="519" y="525" width="3" height="27" fill="#c0c0c0" />
<rect x="523" y="525" width="3" height="31" fill="#c0c0c0" />
<rect x="527" y="525" width="3" height="34" fill="#c0c0c0" />
<rect x="531" y="525" width="3" height="38" fill="#c0c0c0" />
<rect x="535" y="525" width="3" height="41" fill="#c0c0c0" />
<rect x="539" y="525" width="3" height="42" fill="#c0c0c0" />
<rect x="543" y="525" width="3" height="40" fill="#c0c0c0" />
<rect x="547" y="525" width="3" height="39" fill="#c0c0c0" />
<rect x="551" y="525" width="3" height="35" fill="#c0c0c0" />
<rect x="555" y="525" width="3" height="33" fill="#c0c0c0" />
<rect x="559" y="525" width="3" height="31" fill="#c0c0c0" />
<rect x="563" y="525" width="3" height="29" fill="#c0c0c0" />
<rect x="567" y="525" width="3" height="26" fill="#c0c0c0" />
<rect x="571" y="525" width="3" height="25" fill="#c0c0c0" />
<rect x="575" y="525" width="3" height="24" fill="#c0c0c0" />
<rect x="579" y="525" width="3" height="21" fill="#c0c0c0" />
<rect x="583" y="525" width="3" height="19" fill="#c0c0c0" />
<rect x="587" y="525" width="3" height="16" fill="#c0c0c0" />
<rect x="591" y="525" width="3" height="13" fill="#c0c0c0" />
<rect x="595" y="525" width="3" height="13" fill="#c0c0c0" />
<rect x="599" y="525" width="3" height="5" fill="#c0c0c0" />
<rect x="603" y="522" width="3" height="3" fill="#c0c0c0" />
<rect x="607" y="517" width="3" height="8" fill="#c0c0c0" />
<rect x="611" y="512" width="3" height="13" fill="#c0c0c0" />
<rect x="615" y="506" width="3" height="19" fill="#c0c0c0" />
<rect x="619" y="503" width="3" height="22" fill="#c0c0c0" />
<rect x="623" y="501" width="3" height="24" fill="#c0c0c0" />
<rect x="627" y="501" width="3" height="24" fill="#c0c0c0" />
<rect x="631" y="501" width="3" height="24" fill="#c0c0c0" />
<rect x="635" y="503" width="3" height="22" fill="#c0c0c0" />
<rect x="639" y="503" width="3" height="22" fill="#c0c0c0" />
<rect x="643" y="503" width="3" height="22" fill="#c0c0c0" />
<rect x="647" y="503" width="3" height="22" fill="#c0c0c0" />
<rect x="651" y="502" width="3" height="23" fill="#c0c0c0" />
<rect x="655" y="503" width="3" height="22" fill="#c0c0c0" />
<rect x="659" y="504" width="3" height="21" fill="#c0c0c0" />
<rect x="663" y="504" width="3" height="21" fill="#c0c0c0" />
<rect x="667" y="504" width="3" height="21" fill="#c0c0c0" />
<rect x="671" y="502" width="3" height="23" fill="#c0c0c0" />
<rect x="675" y="502" width="3" height="23" fill="#c0c0c0" />
<rect x="679" y="503" width="3" height="22" fill="#c0c0c0" />
<rect x="683" y="504" width="3" height="21" fill="#c0c0c0" />
<rect x="687" y="507" width="3" height="18" fill="#c0c0c0" />
<rect x="691" y="509" width="3" height="16" fill="#c0c0c0" />
<rect x="695" y="512" width="3" height="13" fill="#c0c0c0" />
<rect x="699" y="511" width="3" height="14" fill="#c0c0c0" />
<rect x="703" y="512" width="3" height="13" fill="#c0c0c0" />
<rect x="707" y="511" width="3" height="14" fill="#c0c0c0" />
<rect x="711" y="511" width="3" height="14" fill="#c0c0c0" />
<rect x="715" y="513" width="3" height="12" fill="#c0c0c0" />
<rect x="719" y="514" width="3" height="11" fill="#c0c0c0" />
<rect x="723" y="514" width="3" height="11" fill="#c0c0c0" />
<rect x="727" y="515" width="3" height="10" fill="#c0c0c0" />
<rect x="731" y="515" width="3" height="10" fill="#c0c0c0" />
<rect x="735" y="510" width="3" height="15" fill="#c0c0c0" />
<rect x="739" y="509" width="3" height="16" fill="#c0c0c0" />
<rect x="743" y="514" width="3" height="11" fill="#c0c0c0" />
<rect x="747" y="517" width="3" height="8" fill="#c0c0c0" />
<rect x="751" y="519" width="3" height="6" fill="#c0c0c0" />
<rect x="755" y="521" width="3" height="4" fill="#c0c0c0" />
<rect x="759" y="522" width="3" height="3" fill="#c0c0c0" />
<rect x="763" y="524" width="3" height="1" fill="#c0c0c0" />
<rect x="767" y="525" width="3" height="2" fill="#c0c0c0" />
<rect x="771" y="524" width="3" height="1" fill="#c0c0c0" />
<rect x="775" y="524" width="3" height="1" fill="#c0c0c0" />
<rect x="779" y="522" width="3" height="3" fill="#c0c0c0" />
<rect x="783" y="521" width="3" height="4" fill="#c0c0c0" />
<rect x="787" y="521" width="3" height="4" fill="#c0c0c0" />
<rect x="791" y="522" width="3" height="3" fill="#c0c0c0" />
<rect x="795" y="522" width="3" height="3" fill="#c0c0c0" />
<rect x="799" y="522" width="3" height="3" fill="#c0c0c0" />
<rect x="803" y="522" width="3" height="3" fill="#c0c0c0" />
<rect x="807" y="520" width="3" height="5" fill="#c0c0c0" />
<rect x="811" y="520" width="3" height="5" fill="#c0c0c0" />
<rect x="815" y="518" width="3" height="7" fill="#c0c0c0" />
<rect x="819" y="516" width="3" height="9" fill="#c0c0c0" />
<rect x="823" y="515" width="3" height="10" fill="#c0c0c0" />
<rect x="827" y="517" width="3" height="8" fill="#c0c0c0" />
<rect x="831" y="519" width="3" height="6" fill="#c0c0c0" />
<rect x="835" y="520" width="3" height="5" fill="#c0c0c0" />
<rect x="839" y="521" width="3" height="4" fill="#c0c0c0" />
<rect x="843" y="524" width="3" height="1" fill="#c0c0c0" />
<rect x="847" y="525" width="3" height="2" fill="#c0c0c0" />
<rect x="851" y="525" width="3" height="3" fill="#c0c0c0" />
<rect x="855" y="525" width="3" height="6" fill="#c0c0c0" />
<rect x="859" y="525" width="3" height="8" fill="#c0c0c0" />
<rect x="863" y="525" width="3" height="10" fill="#c0c0c0" />
<rect x="867" y="525" width="3" height="13" fill="#c0c0c0" />
<rect x="871" y="525" width="3" height="14" fill="#c0c0c0" />
<rect x="875" y="525" width="3" height="14" fill="#c0c0c0" />
<rect x="879" y="525" width="3" height="13" fill="#c0c0c0" />
<rect x="883" y="525" width="3" height="12" fill="#c0c0c0" />
<rect x="887" y="525" width="3" height="12" fill="#c0c0c0" />
<rect x="891" y="525" width="3" height="13" fill="#c0c0c0" />
<rect x="895" y="525" width="3" height="13" fill="#c0c0c0" />
<rect x="899" y="525" width="3" height="14" fill="#c0c0c0" />
<rect x="903" y="525" width="3" height="15" fill="#c0c0c0" />
<rect x="907" y="525" width="3" height="16" fill="#c0c0c0" />
<rect x="911" y="525" width="3" height="14" fill="#c0c0c0" />
<rect x="915" y="525" width="3" height="10" fill="#c0c0c0" />
<rect x="919" y="525" width="3" height="7" fill="#c0c0c0" />
<rect x="923" y="525" width="3" height="4" fill="#c0c0c0" />
<path d="M4 552h1v1h-1zM5 552h1v1h-1zM6 551h1v1h-1zM7 551h1v1h-1zM8 551h1v1h-1zM9 550h1v1h-1zM10 550h1v1h-1zM11 549h1v1h-1zM12 549h1v1h-1zM13 548h1v1h-1zM14 548h1v1h-1zM15 547h1v1h-1zM16 547h1v1h-1zM17 547h1v1h-1zM18 546h1v1h-1zM19 546h1v1h-1zM20 546h1v1h-1zM21 546h1v1h-1zM22 545h1v1h-1zM23 545h1v1h-1zM24 545h1v1h-1zM25 545h1v1h-1zM26 545h1v1h-1zM27 545h1v1h-1zM28 545h1v1h-1zM29 545h1v1h-1zM30 545h1v1h-1zM31 545h1v1h-1zM32 545h1v1h-1zM33 545h1v1h-1zM34 546h1v1h-1zM35 546h1v1h-1zM36 546h1v1h-1zM37 546h1v1h-1zM38 547h1v1h-1zM39 547h1v1h-1zM40 547h1v1h-1zM41 548h1v1h-1zM42 548h1v1h-1zM43 549h1v1h-1zM44 549h1v1h-1zM45 550h1v1h-1zM46 550h1v1h-1zM47 551h1v1h-1zM48 551h1v1h-1zM49 552h1v1h-1zM50 552h1v1h-1zM51 553h1v1h-1zM52 553h1v1h-1zM53 554h1v1h-1zM54 554h1v1h-1zM55 555h1v1h-1zM56 555h1v1h-1zM57 555h1v1h-1zM58 556h1v1h-1zM59 556h1v1h-1zM60 556h1v1h-1zM61 556h1v1h-1zM62 557h1v1h-1zM63 557h1v1h-1zM64 557h1v1h-1zM65 557h1v1h-1zM66 558h1v1h-1zM67 558h1v1h-1zM68 558h1v1h-1zM69 558h1v1h-1zM70 558h1v1h-1zM71 558h1v1h-1zM72 558h1v1h-1zM73 558h1v1h-1zM74 558h1v1h-1zM75 558h1v1h-1zM76 558h1v1h-1zM77 557h1v1h-1zM78 557h1v1h-1zM79 556h1v1h-1zM80 556h1v1h-1zM81 555h1v1h-1zM82 555h1v1h-1zM83 554h1v1h-1zM84 554h1v1h-1zM85 553h1v1h-1zM86 553h1v1h-1zM87 552h1v1h-1zM88 552h1v1h-1zM89 551h1v1h-1zM90 551h1v1h-1zM91 550h1v1h-1zM92 550h1v1h-1zM93 550h1v1h-1zM94 549h1v1h-1zM95 549h1v1h-1zM96 549h1v1h-1zM97 548h1v1h-1zM98 548h1v1h-1zM99 547h1v1h-1zM100 547h1v1h-1zM101 546h1v1h-1zM102 546h1v1h-1zM103 545h1v1h-1zM104 545h1v1h-1zM105 544h1v1h-1zM106 543h1v1h-1zM107 543h1v1h-1zM108 542h1v1h-1zM109 542h1v1h-1zM110 541h1v1h-1zM111 541h1v1h-1zM112 541h1v1h-1zM113 540h1v1h-1zM114 540h1v1h-1zM115 539h1v1h-1zM116 539h1v1h-1zM117 539h1v1h-1zM118 538h1v1h-1zM119 538h1v1h-1zM120 538h1v1h-1zM121 538h1v1h-1zM122 537h1v1h-1zM123 537h1v1h-1zM124 537h1v1h-1zM125 537h1v1h-1zM126 537h1v1h-1zM127 537h1v1h-1zM128 537h1v1h-1zM129 537h1v1h-1zM130 536h1v1h-1zM131 536h1v1h-1zM132 536h1v1h-1zM133 536h1v1h-1zM134 536h1v1h-1zM135 536h1v1h-1zM136 536h1v1h-1zM137 536h1v1h-1zM138 536h1v1h-1zM139 536h1v1h-1zM140 536h1v1h-1zM141 536h1v1h-1zM142 536h1v1h-1zM143 536h1v1h-1zM144 536h1v1h-1zM145 536h1v1h-1zM146 536h1v1h-1zM147 536h1v1h-1zM148 536h1v1h-1zM149 536h1v1h-1zM150 536h1v1h-1zM151 536h1v1h-1zM152 536h1v1h-1zM153 536h1v1h-1zM154 537h1v1h-1zM155 537h1v1h-1zM156 537h1v1h-1zM157 537h1v1h-1zM158 538h1v1h-1zM159 538h1v1h-1zM160 538h1v1h-1zM161 538h1v1h-1zM162 538h1v1h-1zM163 538h1v1h-1zM164 538h1v1h-1zM165 539h1v1h-1zM166 539h1v1h-1zM167 540h1v1h-1zM168 540h1v1h-1zM169 540h1v1h-1zM170 541h1v1h-1zM171 541h1v1h-1zM172 541h1v1h-1zM173 541h1v1h-1zM174 542h1v1h-1zM175 542h1v1h-1zM176 542h1v1h-1zM177 543h1v1h-1zM178 543h1v1h-1zM179 544h1v1h-1zM180 544h1v1h-1zM181 545h1v1h-1zM182 545h1v1h-1zM183 546h1v1h-1zM184 546h1v1h-1zM185 546h1v1h-1zM186 547h1v1h-1zM187 547h1v1h-1zM188 547h1v1h-1zM189 547h1v1h-1zM190 547h1v1h-1zM191 547h1v1h-1zM192 547h1v1h-1zM193 547h1v1h-1zM194 547h1v1h-1zM195 547h1v1h-1zM196 547h1v1h-1zM197 547h1v1h-1zM198 546h1v1h-1zM199 546h1v1h-1zM200 546h1v1h-1zM201 545h1v1h-1zM202 545h1v1h-1zM203 544h1v1h-1zM204 544h1v1h-1zM205 543h1v1h-1zM206 543h1v1h-1zM207 542h1v1h-1zM208 542h1v1h-1zM209 541h1v1h-1zM210 541h1v1h-1zM211 540h1v1h-1zM212 540h1v1h-1zM213 539h1v1h-1zM214 538h1v1h-1zM215 538h1v1h-1zM216 537h1v1h-1zM217 536h1v1h-1zM218 535h1v1h-1zM219 535h1v1h-1zM220 534h1v1h-1zM221 533h1v1h-1zM222 532h1v1h-1zM223 532h1v1h-1zM224 531h1v1h-1zM225 530h1v1h-1zM226 530h1v1h-1zM227 529h1v1h-1zM228 529h1v1h-1zM229 528h1v1h-1zM230 528h1v1h-1zM231 527h1v1h-1zM232 527h1v1h-1zM233 526h1v1h-1zM234 526h1v1h-1zM235 525h1v1h-1zM236 525h1v1h-1zM237 524h1v1h-1zM238 524h1v1h-1zM239 523h1v1h-1zM240 523h1v1h-1zM241 522h1v1h-1zM242 522h1v1h-1zM243 521h1v1h-1zM244 521h1v1h-1zM245 520h1v1h-1zM246 520h1v1h-1zM247 519h1v1h-1zM248 519h1v1h-1zM249 518h1v1h-1zM250 517h1v1h-1zM251 517h1v1h-1zM252 516h1v1h-1zM253 515h1v1h-1zM254 515h1v1h-1zM255 514h1v1h-1zM256 514h1v1h-1zM257 513h1v1h-1zM258 512h1v1h-1zM259 512h1v1h-1zM260 511h1v1h-1zM261 510h1v1h-1zM262 510h1v1h-1zM263 509h1v1h-1zM264 509h1v1h-1zM265 509h1v1h-1zM266 508h1v1h-1zM267 508h1v1h-1zM268 508h1v1h-1zM269 507h1v1h-1zM270 507h1v1h-1zM271 506h1v1h-1zM272 506h1v1h-1zM273 506h1v1h-1zM274 505h1v1h-1zM275 505h1v1h-1zM276 505h1v1h-1zM277 505h1v1h-1zM278 504h1v1h-1zM279 504h1v1h-1zM280 504h1v1h-1zM281 504h1v1h-1zM282 504h1v1h-1zM283 504h1v1h-1zM284 504h1v1h-1zM285 504h1v1h-1zM286 505h1v1h-1zM287 505h1v1h-1zM288 505h1v1h-1zM289 505h1v1h-1zM290 505h1v1h-1zM291 505h1v1h-1zM292 505h1v1h-1zM293 505h1v1h-1zM294 506h1v1h-1zM295 506h1v1h-1zM296 506h1v1h-1zM297 506h1v1h-1zM298 507h1v1h-1zM299 507h1v1h-1zM300 507h1v1h-1zM301 507h1v1h-1zM302 508h1v1h-1zM303 508h1v1h-1zM304 508h1v1h-1zM305 508h1v1h-1zM306 508h1v1h-1zM307 508h1v1h-1zM308 508h1v1h-1zM309 508h1v1h-1zM310 508h1v1h-1zM311 508h1v1h-1zM312 508h1v1h-1zM313 508h1v1h-1zM314 508h1v1h-1zM315 508h1v1h-1zM316 508h1v1h-1zM317 508h1v1h-1zM318 507h1v1h-1zM319 507h1v1h-1zM320 507h1v1h-1zM321 507h1v1h-1zM322 506h1v1h-1zM323 506h1v1h-1zM324 506h1v1h-1zM325 505h1v1h-1zM326 505h1v1h-1zM327 504h1v1h-1zM328 504h1v1h-1zM329 503h1v1h-1zM330 503h1v1h-1zM331 502h1v1h-1zM332 502h1v1h-1zM333 501h1v1h-1zM334 501h1v1h-1zM335 500h1v1h-1zM336 500h1v1h-1zM337 499h1v1h-1zM338 499h1v1h-1zM339 498h1v1h-1zM340 498h1v1h-1zM341 497h1v1h-1zM342 497h1v1h-1zM343 496h1v1h-1zM344 496h1v1h-1zM345 496h1v1h-1zM346 495h1v1h-1zM347 495h1v1h-1zM348 495h1v1h-1zM349 495h1v1h-1zM350 495h1v1h-1zM351 495h1v1h-1zM352 495h1v1h-1zM353 495h1v1h-1zM354 494h1v1h-1zM355 494h1v1h-1zM356 494h1v1h-1zM357 494h1v1h-1zM358 495h1v1h-1zM359 495h1v1h-1zM360 495h1v1h-1zM361 495h1v1h-1zM362 496h1v1h-1zM363 496h1v1h-1zM364 496h1v1h-1zM365 496h1v1h-1zM366 497h1v1h-1zM367 497h1v1h-1zM368 497h1v1h-1zM369 497h1v1h-1zM370 498h1v1h-1zM371 498h1v1h-1zM372 498h1v1h-1zM373 499h1v1h-1zM374 499h1v1h-1zM375 500h1v1h-1zM376 500h1v1h-1zM377 501h1v1h-1zM378 501h1v1h-1zM379 502h1v1h-1zM380 502h1v1h-1zM381 503h1v1h-1zM382 504h1v1h-1zM383 504h1v1h-1zM384 505h1v1h-1zM385 506h1v1h-1zM386 506h1v1h-1zM387 507h1v1h-1zM388 507h1v1h-1zM389 508h1v1h-1zM390 508h1v1h-1zM391 509h1v1h-1zM392 509h1v1h-1zM393 510h1v1h-1zM394 511h1v1h-1zM395 511h1v1h-1zM396 512h1v1h-1zM397 513h1v1h-1zM398 514h1v1h-1zM399 514h1v1h-1zM400 515h1v1h-1zM401 516h1v1h-1zM402 517h1v1h-1zM403 517h1v1h-1zM404 518h1v1h-1zM405 519h1v1h-1zM406 520h1v1h-1zM407 521h1v1h-1zM408 522h1v1h-1zM409 523h1v1h-1zM410 524h1v1h-1zM411 524h1v1h-1zM412 525h1v1h-1zM413 526h1v1h-1zM414 527h1v1h-1zM415 527h1v1h-1zM416 528h1v1h-1zM417 529h1v1h-1zM418 530h1v1h-1zM419 531h1v1h-1zM420 532h1v1h-1zM421 533h1v1h-1zM422 534h1v1h-1zM423 534h1v1h-1zM424 535h1v1h-1zM425 536h1v1h-1zM426 537h1v1h-1zM427 537h1v1h-1zM428 538h1v1h-1zM429 539h1v1h-1zM430 539h1v1h-1zM431 540h1v1h-1zM432 540h1v1h-1zM433 541h1v1h-1zM434 542h1v1h-1zM435 542h1v1h-1zM436 543h1v1h-1zM437 544h1v1h-1zM438 544h1v1h-1zM439 545h1v1h-1zM440 545h1v1h-1zM441 545h1v1h-1zM442 546h1v1h-1zM443 546h1v1h-1zM444 546h1v1h-1zM445 546h1v1h-1zM446 547h1v1h-1zM447 547h1v1h-1zM448 547h1v1h-1zM449 547h1v1h-1zM450 548h1v1h-1zM451 548h1v1h-1zM452 548h1v1h-1zM453 548h1v1h-1zM454 548h1v1h-1zM455 548h1v1h-1zM456 548h1v1h-1zM457 548h1v1h-1zM458 549h1v1h-1zM459 549h1v1h-1zM460 549h1v1h-1zM461 549h1v1h-1zM462 550h1v1h-1zM463 550h1v1h-1zM464 550h1v1h-1zM465 550h1v1h-1zM466 551h1v1h-1zM467 551h1v1h-1zM468 551h1v1h-1zM469 551h1v1h-1zM470 552h1v1h-1zM471 552h1v1h-1zM472 552h1v1h-1zM473 552h1v1h-1zM474 553h1v1h-1zM475 553h1v1h-1zM476 553h1v1h-1zM477 553h1v1h-1zM478 554h1v1h-1zM479 554h1v1h-1zM480 554h1v1h-1zM481 554h1v1h-1zM482 555h1v1h-1zM483 555h1v1h-1zM484 555h1v1h-1zM485 555h1v1h-1zM486 555h1v1h-1zM487 555h1v1h-1zM488 555h1v1h-1zM489 555h1v1h-1zM490 556h1v1h-1zM491 556h1v1h-1zM492 556h1v1h-1zM493 556h1v1h-1zM494 556h1v1h-1zM495 556h1v1h-1zM496 556h1v1h-1zM497 556h1v1h-1zM498 556h1v1h-1zM499 556h1v1h-1zM500 556h1v1h-1zM501 556h1v1h-1zM502 555h1v1h-1zM503 555h1v1h-1zM504 555h1v1h-1zM505 554h1v1h-1zM506 554h1v1h-1zM507 553h1v1h-1zM508 553h1v1h-1zM509 553h1v1h-1zM510 552h1v1h-1zM511 552h1v1h-1zM512 552h1v1h-1zM513 552h1v1h-1zM514 552h1v1h-1zM515 552h1v1h-1zM516 552h1v1h-1zM517 552h1v1h-1zM518 551h1v1h-1zM519 551h1v1h-1zM520 551h1v1h-1zM521 551h1v1h-1zM522 551h1v1h-1zM523 551h1v1h-1zM524 551h1v1h-1zM525 551h1v1h-1zM526 552h1v1h-1zM527 552h1v1h-1zM528 552h1v1h-1zM529 552h1v1h-1zM530 553h1v1h-1zM531 553h1v1h-1zM532 553h1v1h-1zM533 553h1v1h-1zM534 554h1v1h-1zM535 554h1v1h-1zM536 554h1v1h-1zM537 555h1v1h-1zM538 555h1v1h-1zM539 556h1v1h-1zM540 556h1v1h-1zM541 556h1v1h-1zM542 557h1v1h-1zM543 557h1v1h-1zM544 557h1v1h-1zM545 558h1v1h-1zM546 558h1v1h-1zM547 559h1v1h-1zM548 559h1v1h-1zM549 559h1v1h-1zM550 560h1v1h-1zM551 560h1v1h-1zM552 560h1v1h-1zM553 560h1v1h-1zM554 561h1v1h-1zM555 561h1v1h-1zM556 561h1v1h-1zM557 561h1v1h-1zM558 561h1v1h-1zM559 561h1v1h-1zM560 561h1v1h-1zM561 561h1v1h-1zM562 561h1v1h-1zM563 561h1v1h-1zM564 561h1v1h-1zM565 560h1v1h-1zM566 560h1v1h-1zM567 559h1v1h-1zM568 559h1v1h-1zM569 559h1v1h-1zM570 558h1v1h-1zM571 558h1v1h-1zM572 558h1v1h-1zM573 557h1v1h-1zM574 557h1v1h-1zM575 556h1v1h-1zM576 556h1v1h-1zM577 555h1v1h-1zM578 554h1v1h-1zM579 554h1v1h-1zM580 553h1v1h-1zM581 552h1v1h-1zM582 552h1v1h-1zM583 551h1v1h-1zM584 551h1v1h-1zM585 550h1v1h-1zM586 550h1v1h-1zM587 549h1v1h-1zM588 549h1v1h-1zM589 548h1v1h-1zM590 548h1v1h-1zM591 547h1v1h-1zM592 547h1v1h-1zM593 546h1v1h-1zM594 546h1v1h-1zM595 545h1v1h-1zM596 545h1v1h-1zM597 544h1v1h-1zM598 543h1v1h-1zM599 543h1v1h-1zM600 542h1v1h-1zM601 541h1v1h-1zM602 540h1v1h-1zM603 540h1v1h-1zM604 539h1v1h-1zM605 538h1v1h-1zM606 537h1v1h-1zM607 536h1v1h-1zM608 535h1v1h-1zM609 534h1v1h-1zM610 533h1v1h-1zM611 532h1v1h-1zM612 531h1v1h-1zM613 530h1v1h-1zM614 529h1v1h-1zM615 528h1v1h-1zM616 527h1v1h-1zM617 526h1v1h-1zM618 525h1v1h-1zM619 524h1v1h-1zM620 523h1v1h-1zM621 522h1v1h-1zM622 520h1v2h-1zM623 519h1v1h-1zM624 518h1v1h-1zM625 517h1v1h-1zM626 516h1v1h-1zM627 515h1v1h-1zM628 514h1v1h-1zM629 513h1v1h-1zM630 512h1v1h-1zM631 511h1v1h-1zM632 510h1v1h-1zM633 509h1v1h-1zM634 508h1v1h-1zM635 508h1v1h-1zM636 507h1v1h-1zM637 506h1v1h-1zM638 506h1v1h-1zM639 505h1v1h-1zM640 505h1v1h-1zM641 505h1v1h-1zM642 504h1v1h-1zM643 504h1v1h-1zM644 504h1v1h-1zM645 504h1v1h-1zM646 503h1v1h-1zM647 503h1v1h-1zM648 503h1v1h-1zM649 503h1v1h-1zM650 502h1v1h-1zM651 502h1v1h-1zM652 502h1v1h-1zM653 502h1v1h-1zM654 502h1v1h-1zM655 502h1v1h-1zM656 502h1v1h-1zM657 502h1v1h-1zM658 502h1v1h-1zM659 502h1v1h-1zM660 502h1v1h-1zM661 502h1v1h-1zM662 503h1v1h-1zM663 503h1v1h-1zM664 503h1v1h-1zM665 503h1v1h-1zM666 503h1v1h-1zM667 503h1v1h-1zM668 503h1v1h-1zM669 503h1v1h-1zM670 503h1v1h-1zM671 503h1v1h-1zM672 503h1v1h-1zM673 503h1v1h-1zM674 503h1v1h-1zM675 503h1v1h-1zM676 503h1v1h-1zM677 503h1v1h-1zM678 503h1v1h-1zM679 503h1v1h-1zM680 503h1v1h-1zM681 503h1v1h-1zM682 503h1v1h-1zM683 503h1v1h-1zM684 503h1v1h-1zM685 503h1v1h-1zM686 504h1v1h-1zM687 504h1v1h-1zM688 504h1v1h-1zM689 504h1v1h-1zM690 505h1v1h-1zM691 505h1v1h-1zM692 505h1v1h-1zM693 505h1v1h-1zM694 505h1v1h-1zM695 505h1v1h-1zM696 505h1v1h-1zM697 505h1v1h-1zM698 506h1v1h-1zM699 506h1v1h-1zM700 506h1v1h-1zM701 506h1v1h-1zM702 507h1v1h-1zM703 507h1v1h-1zM704 507h1v1h-1zM705 507h1v1h-1zM706 508h1v1h-1zM707 508h1v1h-1zM708 508h1v1h-1zM709 508h1v1h-1zM710 509h1v1h-1zM711 509h1v1h-1zM712 509h1v1h-1zM713 509h1v1h-1zM714 510h1v1h-1zM715 510h1v1h-1zM716 510h1v1h-1zM717 510h1v1h-1zM718 511h1v1h-1zM719 511h1v1h-1zM720 511h1v1h-1zM721 511h1v1h-1zM722 512h1v1h-1zM723 512h1v1h-1zM724 512h1v1h-1zM725 512h1v1h-1zM726 513h1v1h-1zM727 513h1v1h-1zM728 513h1v1h-1zM729 513h1v1h-1zM730 513h1v1h-1zM731 513h1v1h-1zM732 513h1v1h-1zM733 513h1v1h-1zM734 513h1v1h-1zM735 513h1v1h-1zM736 513h1v1h-1zM737 513h1v1h-1zM738 512h1v1h-1zM739 512h1v1h-1zM740 512h1v1h-1zM741 512h1v1h-1zM742 513h1v1h-1zM743 513h1v1h-1zM744 513h1v1h-1zM745 513h1v1h-1zM746 513h1v1h-1zM747 513h1v1h-1zM748 513h1v1h-1zM749 513h1v1h-1zM750 514h1v1h-1zM751 514h1v1h-1zM752 514h1v1h-1zM753 514h1v1h-1zM754 515h1v1h-1zM755 515h1v1h-1zM756 515h1v1h-1zM757 515h1v1h-1zM758 516h1v1h-1zM759 516h1v1h-1zM760 516h1v1h-1zM761 516h1v1h-1zM762 517h1v1h-1zM763 517h1v1h-1zM764 517h1v1h-1zM765 517h1v1h-1zM766 518h1v1h-1zM767 518h1v1h-1zM768 518h1v1h-1zM769 519h1v1h-1zM770 519h1v1h-1zM771 520h1v1h-1zM772 520h1v1h-1zM773 520h1v1h-1zM774 521h1v1h-1zM775 521h1v1h-1zM776 521h1v1h-1zM777 521h1v1h-1zM778 522h1v1h-1zM779 522h1v1h-1zM780 522h1v1h-1zM781 522h1v1h-1zM782 523h1v1h-1zM783 523h1v1h-1zM784 523h1v1h-1zM785 523h1v1h-1zM786 523h1v1h-1zM787 523h1v1h-1zM788 523h1v1h-1zM789 523h1v1h-1zM790 523h1v1h-1zM791 523h1v1h-1zM792 523h1v1h-1zM793 523h1v1h-1zM794 523h1v1h-1zM795 523h1v1h-1zM796 523h1v1h-1zM797 523h1v1h-1zM798 523h1v1h-1zM799 523h1v1h-1zM800 523h1v1h-1zM801 523h1v1h-1zM802 522h1v1h-1zM803 522h1v1h-1zM804 522h1v1h-1zM805 522h1v1h-1zM806 522h1v1h-1zM807 522h1v1h-1zM808 522h1v1h-1zM809 522h1v1h-1zM810 521h1v1h-1zM811 521h1v1h-1zM812 521h1v1h-1zM813 521h1v1h-1zM814 521h1v1h-1zM815 521h1v1h-1zM816 521h1v1h-1zM817 521h1v1h-1zM818 520h1v1h-1zM819 520h1v1h-1zM820 520h1v1h-1zM821 520h1v1h-1zM822 520h1v1h-1zM823 520h1v1h-1zM824 520h1v1h-1zM825 520h1v1h-1zM826 519h1v1h-1zM827 519h1v1h-1zM828 519h1v1h-1zM829 519h1v1h-1zM830 519h1v1h-1zM831 519h1v1h-1zM832 519h1v1h-1zM833 519h1v1h-1zM834 519h1v1h-1zM835 519h1v1h-1zM836 519h1v1h-1zM837 519h1v1h-1zM838 518h1v1h-1zM839 518h1v1h-1zM840 518h1v1h-1zM841 518h1v1h-1zM842 519h1v1h-1zM843 519h1v1h-1zM844 519h1v1h-1zM845 519h1v1h-1zM846 520h1v1h-1zM847 520h1v1h-1zM848 520h1v1h-1zM849 520h1v1h-1zM850 521h1v1h-1zM851 521h1v1h-1zM852 521h1v1h-1zM853 521h1v1h-1zM854 522h1v1h-1zM855 522h1v1h-1zM856 522h1v1h-1zM857 523h1v1h-1zM858 523h1v1h-1zM859 524h1v1h-1zM860 524h1v1h-1zM861 525h1v1h-1zM862 525h1v1h-1zM863 526h1v1h-1zM864 526h1v1h-1zM865 527h1v1h-1zM866 527h1v1h-1zM867 528h1v1h-1zM868 528h1v1h-1zM869 529h1v1h-1zM870 529h1v1h-1zM871 530h1v1h-1zM872 530h1v1h-1zM873 531h1v1h-1zM874 531h1v1h-1zM875 532h1v1h-1zM876 532h1v1h-1zM877 532h1v1h-1zM878 533h1v1h-1zM879 533h1v1h-1zM880 533h1v1h-1zM881 533h1v1h-1zM882 534h1v1h-1zM883 534h1v1h-1zM884 534h1v1h-1zM885 534h1v1h-1zM886 535h1v1h-1zM887 535h1v1h-1zM888 535h1v1h-1zM889 535h1v1h-1zM890 536h1v1h-1zM891 536h1v1h-1zM892 536h1v1h-1zM893 536h1v1h-1zM894 537h1v1h-1zM895 537h1v1h-1zM896 537h1v1h-1zM897 537h1v1h-1zM898 537h1v1h-1zM899 537h1v1h-1zM900 537h1v1h-1zM901 537h1v1h-1zM902 537h1v1h-1zM903 537h1v1h-1zM904 537h1v1h-1zM905 537h1v1h-1zM906 538h1v1h-1zM907 538h1v1h-1zM908 538h1v1h-1zM909 538h1v1h-1zM910 537h1v1h-1zM911 537h1v1h-1zM912 537h1v1h-1zM913 537h1v1h-1zM914 537h1v1h-1zM915 537h1v1h-1zM916 537h1v1h-1zM917 537h1v1h-1zM918 537h1v1h-1zM919 537h1v1h-1zM920 537h1v1h-1zM921 537h1v1h-1zM922 536h1v1h-1zM923 536h1v1h-1zM924 536h1v1h-1z" fill="#ff0000"/>
</g>
<rect x="3.5" y="486.5" width="1163" height="84" fill="none" stroke="#000" stroke-width="1"/>
<text x="8" y="499" font-size="10" fill="#000" textLength="153" lengthAdjust="spacingAndGlyphs" stroke="#000" stroke-width="0.15" >MACD(12,26,9) -0.001849 -0.007386</text>
<rect x="1167" y="488" width="2" height="1" fill="#000" />
<text x="1170.5" y="497" font-size="10" fill="#000" textLength="37.5" lengthAdjust="spacingAndGlyphs" stroke="#000" stroke-width="0.15" >0.025108</text>
<rect x="1167" y="525" width="2" height="1" fill="#000" />
<text x="1170.5" y="528.5" font-size="10" fill="#000" textLength="17.5" lengthAdjust="spacingAndGlyphs" stroke="#000" stroke-width="0.15" >0.00</text>
<rect x="1167" y="569" width="2" height="1" fill="#000" />
<text x="1170.5" y="566.5" font-size="10" fill="#000" textLength="40.5" lengthAdjust="spacingAndGlyphs" stroke="#000" stroke-width="0.15" >-0.029884</text>
<g clip-path="url(#crsi)">
<line x1="4" y1="599.5" x2="1166" y2="599.5" stroke="#c0c0c0" stroke-dasharray="3,3" stroke-dashoffset="5"/>
<line x1="4" y1="633.5" x2="1166" y2="633.5" stroke="#c0c0c0" stroke-dasharray="3,3" stroke-dashoffset="5"/>
<path d="M4 626h1v1h-1zM5 626h1v1h-1zM6 625h1v1h-1zM7 625h1v1h-1zM8 625h1v1h-1zM9 623h1v2h-1zM10 621h1v2h-1zM11 619h1v2h-1zM12 618h1v1h-1zM13 619h1v1h-1zM14 620h1v1h-1zM15 621h1v1h-1zM16 622h1v1h-1zM17 623h1v1h-1zM18 624h1v2h-1zM19 626h1v1h-1zM20 627h1v1h-1zM21 627h1v1h-1zM22 628h1v1h-1zM23 628h1v1h-1zM24 628h1v1h-1zM25 628h1v1h-1zM26 627h1v1h-1zM27 627h1v1h-1zM28 627h1v1h-1zM29 627h1v1h-1zM30 626h1v1h-1zM31 626h1v1h-1zM32 626h1v2h-1zM33 628h1v2h-1zM34 630h1v2h-1zM35 632h1v2h-1zM36 634h1v2h-1zM37 636h1v1h-1zM38 636h1v1h-1zM39 637h1v1h-1zM40 637h1v1h-1zM41 636h1v1h-1zM42 634h1v2h-1zM43 633h1v1h-1zM44 632h1v1h-1zM45 630h1v2h-1zM46 629h1v1h-1zM47 627h1v2h-1zM48 626h1v1h-1zM49 627h1v1h-1zM50 628h1v1h-1zM51 628h1v1h-1zM52 629h1v1h-1zM53 628h1v1h-1zM54 627h1v1h-1zM55 627h1v1h-1zM56 626h1v1h-1zM57 625h1v1h-1zM58 624h1v1h-1zM59 623h1v1h-1zM60 622h1v1h-1zM61 623h1v1h-1zM62 624h1v1h-1zM63 625h1v1h-1zM64 626h1v1h-1zM65 626h1v1h-1zM66 625h1v1h-1zM67 625h1v1h-1zM68 625h1v1h-1zM69 624h1v1h-1zM70 623h1v1h-1zM71 623h1v1h-1zM72 622h1v1h-1zM73 621h1v1h-1zM74 620h1v1h-1zM75 620h1v1h-1zM76 619h1v1h-1zM77 619h1v1h-1zM78 618h1v1h-1zM79 618h1v1h-1zM80 618h1v1h-1zM81 617h1v1h-1zM82 616h1v1h-1zM83 616h1v1h-1zM84 615h1v1h-1zM85 616h1v1h-1zM86 617h1v2h-1zM87 619h1v1h-1zM88 620h1v1h-1zM89 621h1v1h-1zM90 622h1v1h-1zM91 623h1v1h-1zM92 624h1v1h-1zM93 623h1v1h-1zM94 623h1v1h-1zM95 622h1v1h-1zM96 622h1v1h-1zM97 620h1v2h-1zM98 618h1v2h-1zM99 616h1v2h-1zM100 615h1v1h-1zM101 615h1v1h-1zM102 614h1v1h-1zM103 614h1v1h-1zM104 614h1v1h-1zM105 615h1v1h-1zM106 615h1v1h-1zM107 616h1v1h-1zM108 616h1v1h-1zM109 617h1v1h-1zM110 618h1v2h-1zM111 620h1v1h-1zM112 621h1v1h-1zM113 619h1v2h-1zM114 617h1v2h-1zM115 615h1v2h-1zM116 614h1v1h-1zM117 615h1v1h-1zM118 616h1v2h-1zM119 618h1v1h-1zM120 619h1v1h-1zM121 620h1v2h-1zM122 622h1v1h-1zM123 623h1v2h-1zM124 625h1v1h-1zM125 624h1v1h-1zM126 624h1v1h-1zM127 623h1v1h-1zM128 623h1v1h-1zM129 621h1v2h-1zM130 620h1v1h-1zM131 618h1v2h-1zM132 617h1v1h-1zM133 618h1v1h-1zM134 619h1v1h-1zM135 619h1v1h-1zM136 620h1v1h-1zM137 620h1v1h-1zM138 619h1v1h-1zM139 619h1v1h-1zM140 619h1v1h-1zM141 618h1v1h-1zM142 618h1v1h-1zM143 617h1v1h-1zM144 617h1v1h-1zM145 618h1v1h-1zM146 618h1v1h-1zM147 619h1v1h-1zM148 619h1v1h-1zM149 619h1v1h-1zM150 620h1v1h-1zM151 620h1v1h-1zM152 620h1v1h-1zM153 621h1v1h-1zM154 622h1v1h-1zM155 623h1v1h-1zM156 624h1v1h-1zM157 625h1v1h-1zM158 626h1v1h-1zM159 626h1v1h-1zM160 627h1v1h-1zM161 626h1v1h-1zM162 626h1v1h-1zM163 625h1v1h-1zM164 625h1v1h-1zM165 626h1v1h-1zM166 626h1v1h-1zM167 627h1v1h-1zM168 627h1v1h-1zM169 627h1v1h-1zM170 626h1v1h-1zM171 626h1v1h-1zM172 626h1v1h-1zM173 626h1v1h-1zM174 626h1v1h-1zM175 626h1v1h-1zM176 626h1v1h-1zM177 627h1v1h-1zM178 628h1v1h-1zM179 628h1v1h-1zM180 629h1v1h-1zM181 627h1v2h-1zM182 626h1v1h-1zM183 624h1v2h-1zM184 623h1v1h-1zM185 621h1v2h-1zM186 620h1v1h-1zM187 618h1v2h-1zM188 617h1v1h-1zM189 616h1v1h-1zM190 614h1v2h-1zM191 613h1v1h-1zM192 612h1v1h-1zM193 613h1v1h-1zM194 614h1v1h-1zM195 614h1v1h-1zM196 615h1v1h-1zM197 615h1v1h-1zM198 614h1v1h-1zM199 614h1v1h-1zM200 614h1v1h-1zM201 613h1v1h-1zM202 612h1v1h-1zM203 612h1v1h-1zM204 611h1v1h-1zM205 612h1v1h-1zM206 613h1v2h-1zM207 615h1v1h-1zM208 616h1v1h-1zM209 616h1v1h-1zM210 616h1v1h-1zM211 616h1v1h-1zM212 616h1v1h-1zM213 615h1v1h-1zM214 615h1v1h-1zM215 614h1v1h-1zM216 614h1v1h-1zM217 613h1v1h-1zM218 612h1v1h-1zM219 612h1v1h-1zM220 611h1v1h-1zM221 610h1v1h-1zM222 610h1v1h-1zM223 609h1v1h-1zM224 609h1v1h-1zM225 610h1v1h-1zM226 611h1v2h-1zM227 613h1v1h-1zM228 614h1v1h-1zM229 613h1v1h-1zM230 613h1v1h-1zM231 612h1v1h-1zM232 612h1v1h-1zM233 613h1v1h-1zM234 613h1v1h-1zM235 614h1v1h-1zM236 614h1v1h-1zM237 614h1v1h-1zM238 613h1v1h-1zM239 613h1v1h-1zM240 612h1v2h-1zM241 610h1v2h-1zM242 608h1v2h-1zM243 606h1v2h-1zM244 604h1v2h-1zM245 605h1v1h-1zM246 605h1v1h-1zM247 606h1v1h-1zM248 606h1v1h-1zM249 605h1v1h-1zM250 603h1v2h-1zM251 602h1v1h-1zM252 601h1v1h-1zM253 602h1v2h-1zM254 604h1v1h-1zM255 605h1v2h-1zM256 607h1v1h-1zM257 608h1v1h-1zM258 609h1v1h-1zM259 609h1v1h-1zM260 610h1v1h-1zM261 611h1v1h-1zM262 612h1v2h-1zM263 614h1v1h-1zM264 615h1v1h-1zM265 614h1v1h-1zM266 613h1v1h-1zM267 613h1v1h-1zM268 612h1v1h-1zM269 612h1v1h-1zM270 613h1v1h-1zM271 613h1v1h-1zM272 613h1v1h-1zM273 613h1v1h-1zM274 612h1v1h-1zM275 612h1v1h-1zM276 612h1v1h-1zM277 612h1v1h-1zM278 613h1v1h-1zM279 613h1v1h-1zM280 613h1v1h-1zM281 612h1v1h-1zM282 612h1v1h-1zM283 611h1v1h-1zM284 611h1v1h-1zM285 611h1v1h-1zM286 612h1v1h-1zM287 612h1v1h-1zM288 612h1v1h-1zM289 611h1v1h-1zM290 611h1v1h-1zM291 610h1v1h-1zM292 610h1v1h-1zM293 611h1v1h-1zM294 611h1v1h-1zM295 612h1v1h-1zM296 612h1v1h-1zM297 612h1v1h-1zM298 612h1v1h-1zM299 612h1v1h-1zM300 612h1v1h-1zM301 611h1v1h-1zM302 611h1v1h-1zM303 610h1v1h-1zM304 610h1v1h-1zM305 609h1v1h-1zM306 608h1v1h-1zM307 608h1v1h-1zM308 607h1v1h-1zM309 606h1v1h-1zM310 604h1v2h-1zM311 603h1v1h-1zM312 602h1v1h-1zM313 603h1v1h-1zM314 604h1v1h-1zM315 604h1v1h-1zM316 605h1v1h-1zM317 605h1v1h-1zM318 605h1v1h-1zM319 605h1v1h-1zM320 605h1v1h-1zM321 603h1v2h-1zM322 602h1v1h-1zM323 600h1v2h-1zM324 599h1v1h-1zM325 599h1v1h-1zM326 599h1v1h-1zM327 599h1v1h-1zM328 599h1v1h-1zM329 600h1v1h-1zM330 601h1v1h-1zM331 602h1v1h-1zM332 603h1v1h-1zM333 602h1v1h-1zM334 602h1v1h-1zM335 601h1v1h-1zM336 601h1v1h-1zM337 601h1v1h-1zM338 602h1v1h-1zM339 602h1v1h-1zM340 602h1v1h-1zM341 602h1v1h-1zM342 602h1v1h-1zM343 602h1v1h-1zM344 602h1v1h-1zM345 603h1v2h-1zM346 605h1v1h-1zM347 606h1v2h-1zM348 608h1v1h-1zM349 609h1v2h-1zM350 611h1v1h-1zM351 612h1v2h-1zM352 614h1v1h-1zM353 613h1v1h-1zM354 613h1v1h-1zM355 612h1v1h-1zM356 612h1v1h-1zM357 611h1v1h-1zM358 610h1v1h-1zM359 609h1v1h-1zM360 608h1v1h-1zM361 608h1v1h-1zM362 609h1v1h-1zM363 609h1v1h-1zM364 609h1v1h-1zM365 609h1v1h-1zM366 609h1v1h-1zM367 609h1v1h-1zM368 609h1v1h-1zM369 610h1v1h-1zM370 611h1v1h-1zM371 611h1v1h-1zM372 612h1v1h-1zM373 613h1v1h-1zM374 613h1v1h-1zM375 614h1v1h-1zM376 614h1v1h-1zM377 615h1v2h-1zM378 617h1v1h-1zM379 618h1v2h-1zM380 620h1v1h-1zM381 620h1v1h-1zM382 620h1v1h-1zM383 620h1v1h-1zM384 620h1v1h-1zM385 620h1v1h-1zM386 621h1v1h-1zM387 621h1v1h-1zM388 621h1v1h-1zM389 621h1v1h-1zM390 620h1v1h-1zM391 620h1v1h-1zM392 620h1v1h-1zM393 621h1v1h-1zM394 622h1v2h-1zM395 624h1v1h-1zM396 625h1v1h-1zM397 626h1v1h-1zM398 627h1v1h-1zM399 627h1v1h-1zM400 628h1v1h-1zM401 629h1v1h-1zM402 629h1v1h-1zM403 630h1v1h-1zM404 630h1v1h-1zM405 630h1v1h-1zM406 629h1v1h-1zM407 629h1v1h-1zM408 629h1v1h-1zM409 629h1v1h-1zM410 629h1v1h-1zM411 629h1v1h-1zM412 629h1v1h-1zM413 629h1v1h-1zM414 630h1v1h-1zM415 630h1v1h-1zM416 630h1v1h-1zM417 631h1v1h-1zM418 632h1v1h-1zM419 632h1v1h-1zM420 633h1v1h-1zM421 632h1v1h-1zM422 632h1v1h-1zM423 631h1v1h-1zM424 631h1v1h-1zM425 631h1v1h-1zM426 632h1v1h-1zM427 632h1v1h-1zM428 632h1v1h-1zM429 633h1v1h-1zM430 633h1v1h-1zM431 634h1v1h-1zM432 634h1v1h-1zM433 634h1v1h-1zM434 633h1v1h-1zM435 633h1v1h-1zM436 633h1v1h-1zM437 632h1v1h-1zM438 631h1v1h-1zM439 631h1v1h-1zM440 630h1v1h-1zM441 630h1v1h-1zM442 631h1v1h-1zM443 631h1v1h-1zM444 630h1v2h-1zM445 628h1v2h-1zM446 626h1v2h-1zM447 624h1v2h-1zM448 622h1v2h-1zM449 622h1v1h-1zM450 623h1v1h-1zM451 623h1v1h-1zM452 623h1v1h-1zM453 624h1v2h-1zM454 626h1v1h-1zM455 627h1v2h-1zM456 629h1v2h-1zM457 631h1v2h-1zM458 633h1v3h-1zM459 636h1v2h-1zM460 638h1v2h-1zM461 639h1v1h-1zM462 638h1v1h-1zM463 638h1v1h-1zM464 638h1v1h-1zM465 638h1v1h-1zM466 639h1v1h-1zM467 639h1v1h-1zM468 639h1v1h-1zM469 637h1v2h-1zM470 635h1v2h-1zM471 633h1v2h-1zM472 630h1v3h-1zM473 628h1v2h-1zM474 625h1v3h-1zM475 623h1v2h-1zM476 621h1v2h-1zM477 621h1v1h-1zM478 622h1v1h-1zM479 622h1v1h-1zM480 622h1v1h-1zM481 623h1v1h-1zM482 624h1v1h-1zM483 624h1v1h-1zM484 625h1v1h-1zM485 625h1v1h-1zM486 625h1v1h-1zM487 625h1v1h-1zM488 625h1v1h-1zM489 624h1v1h-1zM490 624h1v1h-1zM491 623h1v1h-1zM492 623h1v1h-1zM493 624h1v1h-1zM494 625h1v2h-1zM495 627h1v1h-1zM496 628h1v1h-1zM497 627h1v1h-1zM498 627h1v1h-1zM499 626h1v1h-1zM500 626h1v1h-1zM501 625h1v1h-1zM502 625h1v1h-1zM503 624h1v1h-1zM504 624h1v1h-1zM505 623h1v1h-1zM506 623h1v1h-1zM507 622h1v1h-1zM508 622h1v1h-1zM509 622h1v1h-1zM510 623h1v1h-1zM511 623h1v1h-1zM512 623h1v1h-1zM513 624h1v1h-1zM514 625h1v2h-1zM515 627h1v1h-1zM516 628h1v1h-1zM517 629h1v1h-1zM518 629h1v1h-1zM519 630h1v1h-1zM520 630h1v1h-1zM521 631h1v1h-1zM522 632h1v1h-1zM523 633h1v1h-1zM524 634h1v1h-1zM525 634h1v1h-1zM526 635h1v1h-1zM527 635h1v1h-1zM528 635h1v1h-1zM529 636h1v1h-1zM530 636h1v1h-1zM531 637h1v1h-1zM532 637h1v1h-1zM533 637h1v1h-1zM534 638h1v1h-1zM535 638h1v1h-1zM536 638h1v1h-1zM537 637h1v1h-1zM538 635h1v2h-1zM539 634h1v1h-1zM540 633h1v1h-1zM541 632h1v1h-1zM542 630h1v2h-1zM543 629h1v1h-1zM544 628h1v1h-1zM545 628h1v1h-1zM546 629h1v1h-1zM547 629h1v1h-1zM548 629h1v1h-1zM549 627h1v2h-1zM550 625h1v2h-1zM551 623h1v2h-1zM552 621h1v2h-1zM553 622h1v1h-1zM554 623h1v1h-1zM555 623h1v1h-1zM556 624h1v1h-1zM557 624h1v1h-1zM558 624h1v1h-1zM559 624h1v1h-1zM560 624h1v1h-1zM561 624h1v1h-1zM562 624h1v1h-1zM563 624h1v1h-1zM564 624h1v1h-1zM565 623h1v1h-1zM566 622h1v1h-1zM567 621h1v1h-1zM568 620h1v1h-1zM569 621h1v1h-1zM570 622h1v1h-1zM571 622h1v1h-1zM572 623h1v1h-1zM573 623h1v1h-1zM574 623h1v1h-1zM575 623h1v1h-1zM576 623h1v1h-1zM577 622h1v1h-1zM578 621h1v1h-1zM579 620h1v1h-1zM580 619h1v1h-1zM581 619h1v1h-1zM582 620h1v1h-1zM583 620h1v1h-1zM584 620h1v1h-1zM585 619h1v1h-1zM586 618h1v1h-1zM587 617h1v1h-1zM588 616h1v1h-1zM589 616h1v1h-1zM590 615h1v1h-1zM591 615h1v1h-1zM592 615h1v1h-1zM593 616h1v1h-1zM594 617h1v2h-1zM595 619h1v1h-1zM596 619h1v2h-1zM597 615h1v4h-1zM598 611h1v4h-1zM599 607h1v4h-1zM600 604h1v3h-1zM601 604h1v1h-1zM602 604h1v1h-1zM603 604h1v1h-1zM604 604h1v1h-1zM605 604h1v1h-1zM606 604h1v1h-1zM607 604h1v1h-1zM608 604h1v1h-1zM609 603h1v1h-1zM610 602h1v1h-1zM611 602h1v1h-1zM612 601h1v1h-1zM613 600h1v1h-1zM614 600h1v1h-1zM615 599h1v1h-1zM616 599h1v1h-1zM617 600h1v1h-1zM618 601h1v1h-1zM619 602h1v1h-1zM620 603h1v1h-1zM621 603h1v1h-1zM622 603h1v1h-1zM623 603h1v1h-1zM624 603h1v1h-1zM625 604h1v1h-1zM626 605h1v2h-1zM627 607h1v1h-1zM628 608h1v1h-1zM629 608h1v1h-1zM630 608h1v1h-1zM631 608h1v1h-1zM632 608h1v1h-1zM633 608h1v1h-1zM634 609h1v1h-1zM635 609h1v1h-1zM636 609h1v1h-1zM637 608h1v1h-1zM638 608h1v1h-1zM639 607h1v1h-1zM640 607h1v1h-1zM641 607h1v1h-1zM642 607h1v1h-1zM643 607h1v1h-1zM644 607h1v1h-1zM645 606h1v1h-1zM646 606h1v1h-1zM647 605h1v1h-1zM648 605h1v1h-1zM649 605h1v1h-1zM650 604h1v1h-1zM651 604h1v1h-1zM652 604h1v1h-1zM653 605h1v1h-1zM654 606h1v1h-1zM655 606h1v1h-1zM656 607h1v1h-1zM657 608h1v1h-1zM658 609h1v1h-1zM659 610h1v1h-1zM660 611h1v1h-1zM661 609h1v2h-1zM662 608h1v1h-1zM663 606h1v2h-1zM664 605h1v1h-1zM665 606h1v1h-1zM666 607h1v1h-1zM667 608h1v1h-1zM668 609h1v1h-1zM669 607h1v2h-1zM670 606h1v1h-1zM671 604h1v2h-1zM672 603h1v1h-1zM673 604h1v1h-1zM674 605h1v1h-1zM675 606h1v1h-1zM676 607h1v1h-1zM677 608h1v1h-1zM678 608h1v1h-1zM679 609h1v1h-1zM680 609h1v1h-1zM681 609h1v1h-1zM682 610h1v1h-1zM683 610h1v1h-1zM684 610h1v1h-1zM685 611h1v1h-1zM686 612h1v1h-1zM687 613h1v1h-1zM688 614h1v1h-1zM689 614h1v1h-1zM690 615h1v1h-1zM691 615h1v1h-1zM692 615h1v1h-1zM693 615h1v1h-1zM694 616h1v1h-1zM695 616h1v1h-1zM696 616h1v1h-1zM697 614h1v2h-1zM698 612h1v2h-1zM699 610h1v2h-1zM700 609h1v1h-1zM701 610h1v1h-1zM702 611h1v1h-1zM703 611h1v1h-1zM704 612h1v1h-1zM705 611h1v1h-1zM706 610h1v1h-1zM707 609h1v1h-1zM708 608h1v1h-1zM709 608h1v1h-1zM710 609h1v1h-1zM711 609h1v1h-1zM712 609h1v1h-1zM713 610h1v2h-1zM714 612h1v2h-1zM715 614h1v2h-1zM716 616h1v2h-1zM717 616h1v1h-1zM718 615h1v1h-1zM719 614h1v1h-1zM720 613h1v1h-1zM721 612h1v1h-1zM722 612h1v1h-1zM723 611h1v1h-1zM724 611h1v1h-1zM725 612h1v1h-1zM726 613h1v1h-1zM727 613h1v1h-1zM728 614h1v1h-1zM729 613h1v1h-1zM730 613h1v1h-1zM731 612h1v1h-1zM732 611h1v2h-1zM733 609h1v2h-1zM734 606h1v3h-1zM735 604h1v2h-1zM736 602h1v2h-1zM737 603h1v2h-1zM738 605h1v2h-1zM739 607h1v2h-1zM740 609h1v2h-1zM741 611h1v2h-1zM742 613h1v3h-1zM743 616h1v2h-1zM744 618h1v2h-1zM745 619h1v1h-1zM746 618h1v1h-1zM747 618h1v1h-1zM748 618h1v1h-1zM749 618h1v1h-1zM750 618h1v1h-1zM751 618h1v1h-1zM752 618h1v1h-1zM753 618h1v1h-1zM754 618h1v1h-1zM755 618h1v1h-1zM756 618h1v1h-1zM757 618h1v1h-1zM758 617h1v1h-1zM759 617h1v1h-1zM760 617h1v1h-1zM761 618h1v1h-1zM762 618h1v1h-1zM763 619h1v1h-1zM764 619h1v1h-1zM765 619h1v1h-1zM766 620h1v1h-1zM767 620h1v1h-1zM768 620h1v1h-1zM769 618h1v2h-1zM770 616h1v2h-1zM771 614h1v2h-1zM772 613h1v1h-1zM773 613h1v1h-1zM774 614h1v1h-1zM775 614h1v1h-1zM776 614h1v1h-1zM777 613h1v1h-1zM778 613h1v1h-1zM779 612h1v1h-1zM780 612h1v1h-1zM781 612h1v1h-1zM782 612h1v1h-1zM783 612h1v1h-1zM784 612h1v1h-1zM785 613h1v1h-1zM786 614h1v1h-1zM787 614h1v1h-1zM788 615h1v1h-1zM789 615h1v1h-1zM790 615h1v1h-1zM791 615h1v1h-1zM792 615h1v1h-1zM793 615h1v1h-1zM794 615h1v1h-1zM795 615h1v1h-1zM796 615h1v1h-1zM797 615h1v1h-1zM798 616h1v1h-1zM799 616h1v1h-1zM800 616h1v1h-1zM801 616h1v1h-1zM802 615h1v1h-1zM803 615h1v1h-1zM804 615h1v1h-1zM805 613h1v2h-1zM806 612h1v1h-1zM807 610h1v2h-1zM808 609h1v1h-1zM809 610h1v1h-1zM810 611h1v1h-1zM811 612h1v1h-1zM812 613h1v1h-1zM813 612h1v1h-1zM814 611h1v1h-1zM815 610h1v1h-1zM816 609h1v1h-1zM817 608h1v1h-1zM818 608h1v1h-1zM819 607h1v1h-1zM820 607h1v1h-1zM821 608h1v1h-1zM822 608h1v1h-1zM823 609h1v1h-1zM824 609h1v1h-1zM825 610h1v2h-1zM826 612h1v2h-1zM827 614h1v2h-1zM828 616h1v1h-1zM829 617h1v1h-1zM830 618h1v1h-1zM831 618h1v1h-1zM832 619h1v1h-1zM833 618h1v1h-1zM834 617h1v1h-1zM835 617h1v1h-1zM836 616h1v1h-1zM837 616h1v1h-1zM838 616h1v1h-1zM839 616h1v1h-1zM840 616h1v1h-1zM841 617h1v2h-1zM842 619h1v1h-1zM843 620h1v2h-1zM844 622h1v1h-1zM845 622h1v1h-1zM846 622h1v1h-1zM847 622h1v1h-1zM848 622h1v1h-1zM849 622h1v1h-1zM850 621h1v1h-1zM851 621h1v1h-1zM852 621h1v1h-1zM853 622h1v1h-1zM854 623h1v1h-1zM855 623h1v1h-1zM856 624h1v1h-1zM857 625h1v1h-1zM858 625h1v1h-1zM859 626h1v1h-1zM860 626h1v1h-1zM861 626h1v1h-1zM862 625h1v1h-1zM863 625h1v1h-1zM864 625h1v1h-1zM865 626h1v1h-1zM866 627h1v1h-1zM867 628h1v1h-1zM868 629h1v1h-1zM869 629h1v1h-1zM870 628h1v1h-1zM871 628h1v1h-1zM872 628h1v1h-1zM873 626h1v2h-1zM874 625h1v1h-1zM875 623h1v2h-1zM876 622h1v1h-1zM877 621h1v1h-1zM878 620h1v1h-1zM879 619h1v1h-1zM880 618h1v1h-1zM881 618h1v1h-1zM882 618h1v1h-1zM883 618h1v1h-1zM884 618h1v1h-1zM885 619h1v1h-1zM886 620h1v1h-1zM887 621h1v1h-1zM888 622h1v1h-1zM889 623h1v1h-1zM890 624h1v1h-1zM891 624h1v1h-1zM892 625h1v1h-1zM893 625h1v1h-1zM894 624h1v1h-1zM895 624h1v1h-1zM896 624h1v1h-1zM897 624h1v1h-1zM898 624h1v1h-1zM899 624h1v1h-1zM900 624h1v1h-1zM901 625h1v1h-1zM902 626h1v1h-1zM903 626h1v1h-1zM904 627h1v1h-1zM905 628h1v1h-1zM906 628h1v1h-1zM907 629h1v1h-1zM908 628h1v2h-1zM909 625h1v3h-1zM910 622h1v3h-1zM911 619h1v3h-1zM912 617h1v2h-1zM913 615h1v2h-1zM914 614h1v1h-1zM915 612h1v2h-1zM916 611h1v1h-1zM917 611h1v1h-1zM918 611h1v1h-1zM919 611h1v1h-1zM920 611h1v1h-1zM921 610h1v1h-1zM922 609h1v1h-1zM923 609h1v1h-1zM924 608h1v1h-1z" fill="#1e90ff"/>
</g>
<rect x="3.5" y="572.5" width="1163" height="87" fill="none" stroke="#000" stroke-width="1"/>
<text x="8" y="585" font-size="10" fill="#000" textLength="67" lengthAdjust="spacingAndGlyphs" stroke="#000" stroke-width="0.15" >RSI(14) 59.5708</text>
<rect x="1167" y="573" width="2" height="1" fill="#000" />
<text x="1170.5" y="582.5" font-size="10" fill="#000" textLength="15.0" lengthAdjust="spacingAndGlyphs" stroke="#000" stroke-width="0.15" >100</text>
<rect x="1167" y="599" width="2" height="1" fill="#000" />
<text x="1170.5" y="602.5" font-size="10" fill="#000" textLength="10.0" lengthAdjust="spacingAndGlyphs" stroke="#000" stroke-width="0.15" >70</text>
<rect x="1167" y="633" width="2" height="1" fill="#000" />
<text x="1170.5" y="636.5" font-size="10" fill="#000" textLength="10.0" lengthAdjust="spacingAndGlyphs" stroke="#000" stroke-width="0.15" >30</text>
<rect x="1167" y="659" width="2" height="1" fill="#000" />
<text x="1170.5" y="655.5" font-size="10" fill="#000" textLength="5.0" lengthAdjust="spacingAndGlyphs" stroke="#000" stroke-width="0.15" >0</text>
<rect x="4" y="660" width="1" height="3" fill="#000" />
<text x="3.0" y="672" font-size="10" fill="#000" textLength="52.1" lengthAdjust="spacingAndGlyphs" stroke="#000" stroke-width="0.15" >24 Dec 2020</text>
<rect x="68" y="660" width="1" height="3" fill="#000" />
<text x="67.1" y="672" font-size="10" fill="#000" textLength="49.9" lengthAdjust="spacingAndGlyphs" stroke="#000" stroke-width="0.15" >13 Jan 2021</text>
<rect x="132" y="660" width="1" height="3" fill="#000" />
<text x="130.9" y="672" font-size="10" fill="#000" textLength="46.9" lengthAdjust="spacingAndGlyphs" stroke="#000" stroke-width="0.15" >1 Feb 2021</text>
<rect x="196" y="660" width="1" height="3" fill="#000" />
<text x="194.8" y="672" font-size="10" fill="#000" textLength="52.3" lengthAdjust="spacingAndGlyphs" stroke="#000" stroke-width="0.15" >19 Feb 2021</text>
<rect x="260" y="660" width="1" height="3" fill="#000" />
<text x="258.5" y="672" font-size="10" fill="#000" textLength="52.5" lengthAdjust="spacingAndGlyphs" stroke="#000" stroke-width="0.15" >10 Mar 2021</text>
<rect x="324" y="660" width="1" height="3" fill="#000" />
<text x="322.4" y="672" font-size="10" fill="#000" textLength="52.5" lengthAdjust="spacingAndGlyphs" stroke="#000" stroke-width="0.15" >29 Mar 2021</text>
<rect x="388" y="660" width="1" height="3" fill="#000" />
<text x="386.6" y="672" font-size="10" fill="#000" textLength="50.8" lengthAdjust="spacingAndGlyphs" stroke="#000" stroke-width="0.15" >16 Apr 2021</text>
<rect x="452" y="660" width="1" height="3" fill="#000" />
<text x="450.7" y="672" font-size="10" fill="#000" textLength="50.3" lengthAdjust="spacingAndGlyphs" stroke="#000" stroke-width="0.15" >5 May 2021</text>
<rect x="516" y="660" width="1" height="3" fill="#000" />
<text x="514.7" y="672" font-size="10" fill="#000" textLength="55.4" lengthAdjust="spacingAndGlyphs" stroke="#000" stroke-width="0.15" >24 May 2021</text>
<rect x="580" y="660" width="1" height="3" fill="#000" />
<text x="579.0" y="672" font-size="10" fill="#000" textLength="49.7" lengthAdjust="spacingAndGlyphs" stroke="#000" stroke-width="0.15" >11 Jun 2021</text>
<rect x="644" y="660" width="1" height="3" fill="#000" />
<text x="642.9" y="672" font-size="10" fill="#000" textLength="49.8" lengthAdjust="spacingAndGlyphs" stroke="#000" stroke-width="0.15" >30 Jun 2021</text>
<rect x="708" y="660" width="1" height="3" fill="#000" />
<text x="706.7" y="672" font-size="10" fill="#000" textLength="47.2" lengthAdjust="spacingAndGlyphs" stroke="#000" stroke-width="0.15" >19 Jul 2021</text>
<rect x="772" y="660" width="1" height="3" fill="#000" />
<text x="770.2" y="672" font-size="10" fill="#000" textLength="48.6" lengthAdjust="spacingAndGlyphs" stroke="#000" stroke-width="0.15" >6 Aug 2021</text>
<rect x="836" y="660" width="1" height="3" fill="#000" />
<text x="834.9" y="672" font-size="10" fill="#000" textLength="52.9" lengthAdjust="spacingAndGlyphs" stroke="#000" stroke-width="0.15" >25 Aug 2021</text>
<rect x="900" y="660" width="1" height="3" fill="#000" />
<text x="898.7" y="672" font-size="10" fill="#000" textLength="52.4" lengthAdjust="spacingAndGlyphs" stroke="#000" stroke-width="0.15" >13 Sep 2021</text>
<rect x="0" y="680" width="1206" height="1" fill="#e3e3e3" />
<rect x="0" y="681" width="1206" height="1" fill="#ffffff" />
<rect x="0" y="682" width="1206" height="1" fill="#000000" />
<rect x="0" y="683" width="1206" height="23" fill="#f0f0f0" />
<rect x="1" y="683" width="1205" height="1" fill="#fafafa" />
<rect x="0" y="702" width="1206" height="1" fill="#fbfbfb" />
<rect x="0" y="706" width="1206" height="1" fill="#a0a0a0" />
<rect x="0" y="707" width="1206" height="2" fill="#ffffff" />
<rect x="0" y="683" width="1" height="18" fill="#6b6b6b" />
<text x="17.4" y="697" font-size="12" fill="#6d6d6d" textLength="67.6" lengthAdjust="spacingAndGlyphs" >EURUSD,H4</text>
<text x="107.8" y="697" font-size="12" fill="#6d6d6d" textLength="82.2" lengthAdjust="spacingAndGlyphs" >AUDUSD,Daily</text>
<text x="211.4" y="697" font-size="12" fill="#6d6d6d" textLength="66.4" lengthAdjust="spacingAndGlyphs" >USDCHF,H4</text>
<text x="300" y="697" font-size="12" fill="#6d6d6d" textLength="80.60000000000002" lengthAdjust="spacingAndGlyphs" >USDCAD,Daily</text>
<text x="509.9" y="697" font-size="12" fill="#6d6d6d" textLength="50.89999999999998" lengthAdjust="spacingAndGlyphs" >UKOil,H1</text>
<text x="583.6" y="697" font-size="12" fill="#6d6d6d" textLength="45.39999999999998" lengthAdjust="spacingAndGlyphs" >DJ30,H1</text>
<text x="653.3" y="697" font-size="12" fill="#6d6d6d" textLength="50.60000000000002" lengthAdjust="spacingAndGlyphs" >USDX,H1</text>
<text x="727.9" y="697" font-size="12" fill="#6d6d6d" textLength="69.30000000000007" lengthAdjust="spacingAndGlyphs" >XAUUSD,H4</text>
<text x="820.8" y="697" font-size="12" fill="#6d6d6d" textLength="67.60000000000002" lengthAdjust="spacingAndGlyphs" >GBPUSD,H1</text>
<rect x="97" y="685" width="1" height="14" fill="#6d6d6d" />
<rect x="201" y="685" width="1" height="14" fill="#6d6d6d" />
<rect x="289" y="685" width="1" height="14" fill="#6d6d6d" />
<rect x="574" y="685" width="1" height="14" fill="#6d6d6d" />
<rect x="641" y="685" width="1" height="14" fill="#6d6d6d" />
<rect x="717" y="685" width="1" height="14" fill="#6d6d6d" />
<rect x="809" y="685" width="1" height="14" fill="#6d6d6d" />
<rect x="901" y="685" width="1" height="14" fill="#6d6d6d" />
<rect x="392" y="683" width="1" height="18" fill="#ffffff" />
<rect x="497" y="683" width="1" height="18" fill="#a8a8a8" />
<rect x="393" y="682" width="104" height="19" fill="#000" />
<rect x="394" y="682" width="102" height="18" fill="#fff" />
<text x="403.5" y="697" font-size="12" fill="#000" textLength="81.5" lengthAdjust="spacingAndGlyphs" >USDCNH,Daily</text>
<path d="M1185,688 V694 L1182,691 Z" fill="#909090"/>
<path d="M1201,688 V694 L1204,691 Z" fill="#909090"/>
</svg>
</body></html>
